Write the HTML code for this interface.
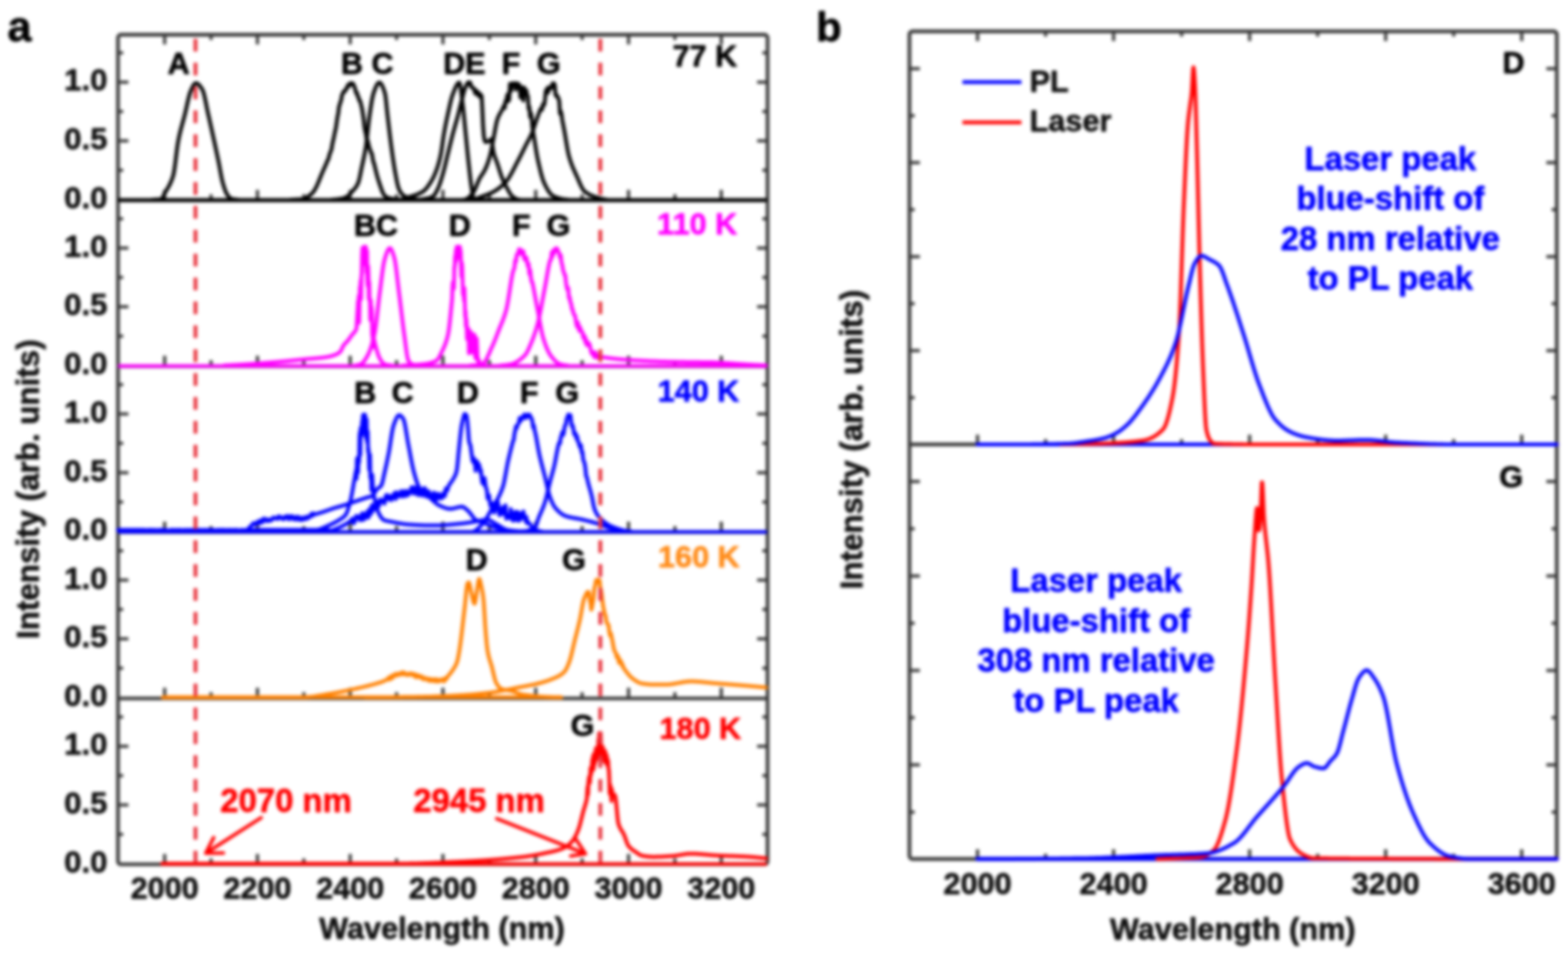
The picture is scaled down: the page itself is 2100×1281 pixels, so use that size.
<!DOCTYPE html>
<html><head><meta charset="utf-8"><title>Figure</title>
<style>html,body{margin:0;padding:0;background:#fff;}svg{display:block;filter:blur(1.9px);}</style>
</head><body>
<svg width="2100" height="1281" viewBox="0 0 2100 1281" font-family='"Liberation Sans", Arial, Helvetica, sans-serif'>
<rect width="2100" height="1281" fill="#fff"/>
<rect x="158.0" y="46.5" width="870.0" height="1111.7" fill="none" stroke="#383838" stroke-width="4.8" stroke-linejoin="round" rx="4"/>
<line x1="158.0" y1="268.6" x2="1028.0" y2="268.6" stroke="#3a3a3a" stroke-width="4.8" />
<line x1="158.0" y1="490.9" x2="1028.0" y2="490.9" stroke="#3a3a3a" stroke-width="4.8" />
<line x1="158.0" y1="713.2" x2="1028.0" y2="713.2" stroke="#3a3a3a" stroke-width="4.8" />
<line x1="158.0" y1="935.8" x2="1028.0" y2="935.8" stroke="#3a3a3a" stroke-width="4.8" />
<line x1="220.5" y1="46.5" x2="220.5" y2="59.5" stroke="#3a3a3a" stroke-width="4.2" />
<line x1="220.5" y1="267.4" x2="220.5" y2="254.4" stroke="#3a3a3a" stroke-width="4.2" />
<line x1="220.5" y1="489.7" x2="220.5" y2="476.7" stroke="#3a3a3a" stroke-width="4.2" />
<line x1="220.5" y1="712.0" x2="220.5" y2="699.0" stroke="#3a3a3a" stroke-width="4.2" />
<line x1="220.5" y1="934.6" x2="220.5" y2="921.6" stroke="#3a3a3a" stroke-width="4.2" />
<line x1="220.5" y1="1157.3" x2="220.5" y2="1144.3" stroke="#3a3a3a" stroke-width="4.2" />
<line x1="282.6" y1="46.5" x2="282.6" y2="53.5" stroke="#3a3a3a" stroke-width="4.2" />
<line x1="282.6" y1="267.4" x2="282.6" y2="260.4" stroke="#3a3a3a" stroke-width="4.2" />
<line x1="282.6" y1="489.7" x2="282.6" y2="482.7" stroke="#3a3a3a" stroke-width="4.2" />
<line x1="282.6" y1="712.0" x2="282.6" y2="705.0" stroke="#3a3a3a" stroke-width="4.2" />
<line x1="282.6" y1="934.6" x2="282.6" y2="927.6" stroke="#3a3a3a" stroke-width="4.2" />
<line x1="282.6" y1="1157.3" x2="282.6" y2="1150.3" stroke="#3a3a3a" stroke-width="4.2" />
<line x1="344.8" y1="46.5" x2="344.8" y2="59.5" stroke="#3a3a3a" stroke-width="4.2" />
<line x1="344.8" y1="267.4" x2="344.8" y2="254.4" stroke="#3a3a3a" stroke-width="4.2" />
<line x1="344.8" y1="489.7" x2="344.8" y2="476.7" stroke="#3a3a3a" stroke-width="4.2" />
<line x1="344.8" y1="712.0" x2="344.8" y2="699.0" stroke="#3a3a3a" stroke-width="4.2" />
<line x1="344.8" y1="934.6" x2="344.8" y2="921.6" stroke="#3a3a3a" stroke-width="4.2" />
<line x1="344.8" y1="1157.3" x2="344.8" y2="1144.3" stroke="#3a3a3a" stroke-width="4.2" />
<line x1="406.9" y1="46.5" x2="406.9" y2="53.5" stroke="#3a3a3a" stroke-width="4.2" />
<line x1="406.9" y1="267.4" x2="406.9" y2="260.4" stroke="#3a3a3a" stroke-width="4.2" />
<line x1="406.9" y1="489.7" x2="406.9" y2="482.7" stroke="#3a3a3a" stroke-width="4.2" />
<line x1="406.9" y1="712.0" x2="406.9" y2="705.0" stroke="#3a3a3a" stroke-width="4.2" />
<line x1="406.9" y1="934.6" x2="406.9" y2="927.6" stroke="#3a3a3a" stroke-width="4.2" />
<line x1="406.9" y1="1157.3" x2="406.9" y2="1150.3" stroke="#3a3a3a" stroke-width="4.2" />
<line x1="469.0" y1="46.5" x2="469.0" y2="59.5" stroke="#3a3a3a" stroke-width="4.2" />
<line x1="469.0" y1="267.4" x2="469.0" y2="254.4" stroke="#3a3a3a" stroke-width="4.2" />
<line x1="469.0" y1="489.7" x2="469.0" y2="476.7" stroke="#3a3a3a" stroke-width="4.2" />
<line x1="469.0" y1="712.0" x2="469.0" y2="699.0" stroke="#3a3a3a" stroke-width="4.2" />
<line x1="469.0" y1="934.6" x2="469.0" y2="921.6" stroke="#3a3a3a" stroke-width="4.2" />
<line x1="469.0" y1="1157.3" x2="469.0" y2="1144.3" stroke="#3a3a3a" stroke-width="4.2" />
<line x1="531.1" y1="46.5" x2="531.1" y2="53.5" stroke="#3a3a3a" stroke-width="4.2" />
<line x1="531.1" y1="267.4" x2="531.1" y2="260.4" stroke="#3a3a3a" stroke-width="4.2" />
<line x1="531.1" y1="489.7" x2="531.1" y2="482.7" stroke="#3a3a3a" stroke-width="4.2" />
<line x1="531.1" y1="712.0" x2="531.1" y2="705.0" stroke="#3a3a3a" stroke-width="4.2" />
<line x1="531.1" y1="934.6" x2="531.1" y2="927.6" stroke="#3a3a3a" stroke-width="4.2" />
<line x1="531.1" y1="1157.3" x2="531.1" y2="1150.3" stroke="#3a3a3a" stroke-width="4.2" />
<line x1="593.2" y1="46.5" x2="593.2" y2="59.5" stroke="#3a3a3a" stroke-width="4.2" />
<line x1="593.2" y1="267.4" x2="593.2" y2="254.4" stroke="#3a3a3a" stroke-width="4.2" />
<line x1="593.2" y1="489.7" x2="593.2" y2="476.7" stroke="#3a3a3a" stroke-width="4.2" />
<line x1="593.2" y1="712.0" x2="593.2" y2="699.0" stroke="#3a3a3a" stroke-width="4.2" />
<line x1="593.2" y1="934.6" x2="593.2" y2="921.6" stroke="#3a3a3a" stroke-width="4.2" />
<line x1="593.2" y1="1157.3" x2="593.2" y2="1144.3" stroke="#3a3a3a" stroke-width="4.2" />
<line x1="655.4" y1="46.5" x2="655.4" y2="53.5" stroke="#3a3a3a" stroke-width="4.2" />
<line x1="655.4" y1="267.4" x2="655.4" y2="260.4" stroke="#3a3a3a" stroke-width="4.2" />
<line x1="655.4" y1="489.7" x2="655.4" y2="482.7" stroke="#3a3a3a" stroke-width="4.2" />
<line x1="655.4" y1="712.0" x2="655.4" y2="705.0" stroke="#3a3a3a" stroke-width="4.2" />
<line x1="655.4" y1="934.6" x2="655.4" y2="927.6" stroke="#3a3a3a" stroke-width="4.2" />
<line x1="655.4" y1="1157.3" x2="655.4" y2="1150.3" stroke="#3a3a3a" stroke-width="4.2" />
<line x1="717.5" y1="46.5" x2="717.5" y2="59.5" stroke="#3a3a3a" stroke-width="4.2" />
<line x1="717.5" y1="267.4" x2="717.5" y2="254.4" stroke="#3a3a3a" stroke-width="4.2" />
<line x1="717.5" y1="489.7" x2="717.5" y2="476.7" stroke="#3a3a3a" stroke-width="4.2" />
<line x1="717.5" y1="712.0" x2="717.5" y2="699.0" stroke="#3a3a3a" stroke-width="4.2" />
<line x1="717.5" y1="934.6" x2="717.5" y2="921.6" stroke="#3a3a3a" stroke-width="4.2" />
<line x1="717.5" y1="1157.3" x2="717.5" y2="1144.3" stroke="#3a3a3a" stroke-width="4.2" />
<line x1="779.6" y1="46.5" x2="779.6" y2="53.5" stroke="#3a3a3a" stroke-width="4.2" />
<line x1="779.6" y1="267.4" x2="779.6" y2="260.4" stroke="#3a3a3a" stroke-width="4.2" />
<line x1="779.6" y1="489.7" x2="779.6" y2="482.7" stroke="#3a3a3a" stroke-width="4.2" />
<line x1="779.6" y1="712.0" x2="779.6" y2="705.0" stroke="#3a3a3a" stroke-width="4.2" />
<line x1="779.6" y1="934.6" x2="779.6" y2="927.6" stroke="#3a3a3a" stroke-width="4.2" />
<line x1="779.6" y1="1157.3" x2="779.6" y2="1150.3" stroke="#3a3a3a" stroke-width="4.2" />
<line x1="841.8" y1="46.5" x2="841.8" y2="59.5" stroke="#3a3a3a" stroke-width="4.2" />
<line x1="841.8" y1="267.4" x2="841.8" y2="254.4" stroke="#3a3a3a" stroke-width="4.2" />
<line x1="841.8" y1="489.7" x2="841.8" y2="476.7" stroke="#3a3a3a" stroke-width="4.2" />
<line x1="841.8" y1="712.0" x2="841.8" y2="699.0" stroke="#3a3a3a" stroke-width="4.2" />
<line x1="841.8" y1="934.6" x2="841.8" y2="921.6" stroke="#3a3a3a" stroke-width="4.2" />
<line x1="841.8" y1="1157.3" x2="841.8" y2="1144.3" stroke="#3a3a3a" stroke-width="4.2" />
<line x1="903.9" y1="46.5" x2="903.9" y2="53.5" stroke="#3a3a3a" stroke-width="4.2" />
<line x1="903.9" y1="267.4" x2="903.9" y2="260.4" stroke="#3a3a3a" stroke-width="4.2" />
<line x1="903.9" y1="489.7" x2="903.9" y2="482.7" stroke="#3a3a3a" stroke-width="4.2" />
<line x1="903.9" y1="712.0" x2="903.9" y2="705.0" stroke="#3a3a3a" stroke-width="4.2" />
<line x1="903.9" y1="934.6" x2="903.9" y2="927.6" stroke="#3a3a3a" stroke-width="4.2" />
<line x1="903.9" y1="1157.3" x2="903.9" y2="1150.3" stroke="#3a3a3a" stroke-width="4.2" />
<line x1="966.0" y1="46.5" x2="966.0" y2="59.5" stroke="#3a3a3a" stroke-width="4.2" />
<line x1="966.0" y1="267.4" x2="966.0" y2="254.4" stroke="#3a3a3a" stroke-width="4.2" />
<line x1="966.0" y1="489.7" x2="966.0" y2="476.7" stroke="#3a3a3a" stroke-width="4.2" />
<line x1="966.0" y1="712.0" x2="966.0" y2="699.0" stroke="#3a3a3a" stroke-width="4.2" />
<line x1="966.0" y1="934.6" x2="966.0" y2="921.6" stroke="#3a3a3a" stroke-width="4.2" />
<line x1="966.0" y1="1157.3" x2="966.0" y2="1144.3" stroke="#3a3a3a" stroke-width="4.2" />
<line x1="158.0" y1="228.1" x2="165.0" y2="228.1" stroke="#3a3a3a" stroke-width="4.2" />
<line x1="1028.0" y1="228.1" x2="1021.0" y2="228.1" stroke="#3a3a3a" stroke-width="4.2" />
<line x1="158.0" y1="188.7" x2="172.0" y2="188.7" stroke="#3a3a3a" stroke-width="4.2" />
<line x1="1028.0" y1="188.7" x2="1014.0" y2="188.7" stroke="#3a3a3a" stroke-width="4.2" />
<line x1="158.0" y1="149.4" x2="165.0" y2="149.4" stroke="#3a3a3a" stroke-width="4.2" />
<line x1="1028.0" y1="149.4" x2="1021.0" y2="149.4" stroke="#3a3a3a" stroke-width="4.2" />
<line x1="158.0" y1="110.1" x2="172.0" y2="110.1" stroke="#3a3a3a" stroke-width="4.2" />
<line x1="1028.0" y1="110.1" x2="1014.0" y2="110.1" stroke="#3a3a3a" stroke-width="4.2" />
<line x1="158.0" y1="70.8" x2="165.0" y2="70.8" stroke="#3a3a3a" stroke-width="4.2" />
<line x1="1028.0" y1="70.8" x2="1021.0" y2="70.8" stroke="#3a3a3a" stroke-width="4.2" />
<line x1="158.0" y1="450.4" x2="165.0" y2="450.4" stroke="#3a3a3a" stroke-width="4.2" />
<line x1="1028.0" y1="450.4" x2="1021.0" y2="450.4" stroke="#3a3a3a" stroke-width="4.2" />
<line x1="158.0" y1="411.0" x2="172.0" y2="411.0" stroke="#3a3a3a" stroke-width="4.2" />
<line x1="1028.0" y1="411.0" x2="1014.0" y2="411.0" stroke="#3a3a3a" stroke-width="4.2" />
<line x1="158.0" y1="371.7" x2="165.0" y2="371.7" stroke="#3a3a3a" stroke-width="4.2" />
<line x1="1028.0" y1="371.7" x2="1021.0" y2="371.7" stroke="#3a3a3a" stroke-width="4.2" />
<line x1="158.0" y1="332.4" x2="172.0" y2="332.4" stroke="#3a3a3a" stroke-width="4.2" />
<line x1="1028.0" y1="332.4" x2="1014.0" y2="332.4" stroke="#3a3a3a" stroke-width="4.2" />
<line x1="158.0" y1="293.1" x2="165.0" y2="293.1" stroke="#3a3a3a" stroke-width="4.2" />
<line x1="1028.0" y1="293.1" x2="1021.0" y2="293.1" stroke="#3a3a3a" stroke-width="4.2" />
<line x1="158.0" y1="672.7" x2="165.0" y2="672.7" stroke="#3a3a3a" stroke-width="4.2" />
<line x1="1028.0" y1="672.7" x2="1021.0" y2="672.7" stroke="#3a3a3a" stroke-width="4.2" />
<line x1="158.0" y1="633.4" x2="172.0" y2="633.4" stroke="#3a3a3a" stroke-width="4.2" />
<line x1="1028.0" y1="633.4" x2="1014.0" y2="633.4" stroke="#3a3a3a" stroke-width="4.2" />
<line x1="158.0" y1="594.0" x2="165.0" y2="594.0" stroke="#3a3a3a" stroke-width="4.2" />
<line x1="1028.0" y1="594.0" x2="1021.0" y2="594.0" stroke="#3a3a3a" stroke-width="4.2" />
<line x1="158.0" y1="554.7" x2="172.0" y2="554.7" stroke="#3a3a3a" stroke-width="4.2" />
<line x1="1028.0" y1="554.7" x2="1014.0" y2="554.7" stroke="#3a3a3a" stroke-width="4.2" />
<line x1="158.0" y1="515.4" x2="165.0" y2="515.4" stroke="#3a3a3a" stroke-width="4.2" />
<line x1="1028.0" y1="515.4" x2="1021.0" y2="515.4" stroke="#3a3a3a" stroke-width="4.2" />
<line x1="158.0" y1="895.3" x2="165.0" y2="895.3" stroke="#3a3a3a" stroke-width="4.2" />
<line x1="1028.0" y1="895.3" x2="1021.0" y2="895.3" stroke="#3a3a3a" stroke-width="4.2" />
<line x1="158.0" y1="856.0" x2="172.0" y2="856.0" stroke="#3a3a3a" stroke-width="4.2" />
<line x1="1028.0" y1="856.0" x2="1014.0" y2="856.0" stroke="#3a3a3a" stroke-width="4.2" />
<line x1="158.0" y1="816.6" x2="165.0" y2="816.6" stroke="#3a3a3a" stroke-width="4.2" />
<line x1="1028.0" y1="816.6" x2="1021.0" y2="816.6" stroke="#3a3a3a" stroke-width="4.2" />
<line x1="158.0" y1="777.3" x2="172.0" y2="777.3" stroke="#3a3a3a" stroke-width="4.2" />
<line x1="1028.0" y1="777.3" x2="1014.0" y2="777.3" stroke="#3a3a3a" stroke-width="4.2" />
<line x1="158.0" y1="738.0" x2="165.0" y2="738.0" stroke="#3a3a3a" stroke-width="4.2" />
<line x1="1028.0" y1="738.0" x2="1021.0" y2="738.0" stroke="#3a3a3a" stroke-width="4.2" />
<line x1="158.0" y1="1118.0" x2="165.0" y2="1118.0" stroke="#3a3a3a" stroke-width="4.2" />
<line x1="1028.0" y1="1118.0" x2="1021.0" y2="1118.0" stroke="#3a3a3a" stroke-width="4.2" />
<line x1="158.0" y1="1078.6" x2="172.0" y2="1078.6" stroke="#3a3a3a" stroke-width="4.2" />
<line x1="1028.0" y1="1078.6" x2="1014.0" y2="1078.6" stroke="#3a3a3a" stroke-width="4.2" />
<line x1="158.0" y1="1039.3" x2="165.0" y2="1039.3" stroke="#3a3a3a" stroke-width="4.2" />
<line x1="1028.0" y1="1039.3" x2="1021.0" y2="1039.3" stroke="#3a3a3a" stroke-width="4.2" />
<line x1="158.0" y1="1000.0" x2="172.0" y2="1000.0" stroke="#3a3a3a" stroke-width="4.2" />
<line x1="1028.0" y1="1000.0" x2="1014.0" y2="1000.0" stroke="#3a3a3a" stroke-width="4.2" />
<line x1="158.0" y1="960.7" x2="165.0" y2="960.7" stroke="#3a3a3a" stroke-width="4.2" />
<line x1="1028.0" y1="960.7" x2="1021.0" y2="960.7" stroke="#3a3a3a" stroke-width="4.2" />
<line x1="158.0" y1="267.9" x2="1027.0" y2="267.9" stroke="#000000" stroke-width="4.6" />
<line x1="158.0" y1="490.5" x2="1027.0" y2="490.5" stroke="#ff00ff" stroke-width="4.6" />
<line x1="158.0" y1="712.8" x2="1027.0" y2="712.8" stroke="#0000ff" stroke-width="4.6" />
<line x1="218.0" y1="934.1" x2="752.0" y2="934.1" stroke="#ff8000" stroke-width="4.6" />
<line x1="217.0" y1="1157.7" x2="1027.0" y2="1157.7" stroke="#ff0000" stroke-width="4.6" />
<path d="M205.0,267.4 L206.0,267.4 L207.0,267.4 L208.0,267.4 L209.0,267.3 L210.0,267.3 L211.0,267.3 L212.0,267.2 L213.0,267.2 L214.0,267.1 L215.0,266.9 L216.0,266.6 L217.0,266.0 L218.0,264.4 L219.0,262.3 L220.0,260.1 L221.0,258.2 L222.0,256.5 L223.0,254.8 L224.0,253.2 L225.0,251.5 L226.0,249.8 L227.0,247.9 L228.0,245.9 L229.0,243.6 L230.0,241.1 L231.0,238.3 L232.0,235.2 L233.0,230.6 L234.0,224.2 L235.0,216.5 L236.0,208.4 L237.0,200.3 L238.0,193.1 L239.0,187.4 L240.0,182.6 L241.0,178.2 L242.0,174.2 L243.0,170.3 L244.0,166.6 L245.0,163.0 L246.0,159.3 L247.0,155.6 L248.0,151.6 L249.0,147.2 L250.0,142.7 L251.0,138.1 L252.0,133.7 L253.0,129.6 L254.0,126.0 L255.0,123.0 L256.0,120.7 L257.0,118.5 L258.0,116.4 L259.0,114.5 L260.0,113.0 L261.0,111.9 L262.0,111.4 L263.0,111.4 L264.0,111.8 L265.0,112.4 L266.0,113.3 L267.0,114.3 L268.0,115.5 L269.0,116.9 L270.0,118.4 L271.0,120.0 L272.0,122.2 L273.0,125.5 L274.0,129.5 L275.0,134.2 L276.0,139.1 L277.0,144.2 L278.0,149.1 L279.0,153.6 L280.0,158.0 L281.0,162.5 L282.0,167.0 L283.0,171.5 L284.0,176.0 L285.0,180.6 L286.0,185.2 L287.0,189.8 L288.0,194.4 L289.0,199.1 L290.0,203.8 L291.0,208.5 L292.0,213.2 L293.0,218.1 L294.0,223.4 L295.0,228.9 L296.0,234.3 L297.0,239.3 L298.0,243.6 L299.0,247.1 L300.0,250.4 L301.0,253.5 L302.0,256.2 L303.0,258.5 L304.0,260.3 L305.0,261.8 L306.0,263.1 L307.0,264.3 L308.0,265.3 L309.0,266.0 L310.0,266.4 L311.0,266.6 L312.0,266.8 L313.0,267.0 L314.0,267.1 L315.0,267.3 L316.0,267.3 L317.0,267.4 L318.0,267.4" fill="none" stroke="#000000" stroke-width="5.0" stroke-linejoin="round" stroke-linecap="round" />
<path d="M390.0,267.4 L391.0,267.4 L392.0,267.4 L393.0,267.4 L394.0,267.4 L395.0,267.3 L396.0,267.3 L397.0,267.3 L398.0,267.2 L399.0,267.2 L400.0,267.1 L401.0,267.1 L402.0,267.0 L403.0,266.9 L404.0,266.9 L405.0,266.8 L406.0,266.6 L407.0,266.3 L408.0,265.8 L409.0,265.3 L410.0,264.8 L411.0,264.2 L412.0,263.6 L413.0,263.0 L414.0,262.3 L415.0,261.6 L416.0,260.8 L417.0,259.9 L418.0,258.9 L419.0,257.9 L420.0,256.7 L421.0,255.3 L422.0,253.6 L423.0,251.7 L424.0,249.7 L425.0,247.5 L426.0,245.1 L427.0,242.7 L428.0,240.2 L429.0,237.8 L430.0,235.3 L431.0,232.9 L432.0,230.5 L433.0,228.3 L434.0,226.0 L435.0,223.8 L436.0,221.5 L437.0,219.2 L438.0,216.8 L439.0,214.3 L440.0,212.9 L441.0,208.1 L442.0,205.3 L443.0,202.7 L444.0,200.1 L445.0,193.7 L446.0,188.9 L447.0,184.9 L448.0,179.6 L449.0,175.1 L450.0,170.4 L451.0,163.5 L452.0,156.5 L453.0,152.0 L454.0,143.3 L455.0,140.3 L456.0,136.6 L457.0,134.1 L458.0,127.5 L459.0,125.9 L460.0,123.0 L461.0,122.0 L462.0,122.5 L463.0,120.0 L464.0,118.0 L465.0,118.1 L466.0,113.7 L467.0,114.8 L468.0,114.7 L469.0,111.5 L470.0,113.4 L471.0,111.5 L472.0,111.7 L473.0,112.2 L474.0,114.9 L475.0,116.9 L476.0,120.9 L477.0,124.5 L478.0,124.1 L479.0,129.0 L480.0,129.5 L481.0,134.4 L482.0,134.4 L483.0,137.9 L484.0,142.0 L485.0,146.2 L486.0,152.9 L487.0,159.6 L488.0,169.6 L489.0,175.3 L490.0,179.5 L491.0,186.1 L492.0,187.1 L493.0,190.7 L494.0,195.6 L495.0,198.8 L496.0,201.4 L497.0,204.8 L498.0,205.7 L499.0,211.6 L500.0,216.9 L501.0,219.1 L502.0,223.3 L503.0,227.4 L504.0,231.5 L505.0,235.3 L506.0,238.9 L507.0,242.1 L508.0,245.1 L509.0,248.1 L510.0,251.1 L511.0,253.9 L512.0,256.6 L513.0,258.8 L514.0,260.7 L515.0,262.1 L516.0,263.0 L517.0,263.6 L518.0,264.2 L519.0,264.7 L520.0,265.1 L521.0,265.4 L522.0,265.7 L523.0,265.9 L524.0,266.1 L525.0,266.3 L526.0,266.5 L527.0,266.7 L528.0,266.8 L529.0,267.0 L530.0,267.1 L531.0,267.2 L532.0,267.3 L533.0,267.3 L534.0,267.4 L535.0,267.4" fill="none" stroke="#000000" stroke-width="5.0" stroke-linejoin="round" stroke-linecap="round" />
<path d="M445.0,267.4 L446.0,267.4 L447.0,267.4 L448.0,267.3 L449.0,267.2 L450.0,267.2 L451.0,267.1 L452.0,267.0 L453.0,266.8 L454.0,266.7 L455.0,266.5 L456.0,266.4 L457.0,266.2 L458.0,266.0 L459.0,265.8 L460.0,265.6 L461.0,265.2 L462.0,264.8 L463.0,264.3 L464.0,263.8 L465.0,263.2 L466.0,262.5 L467.0,261.7 L468.0,260.8 L469.0,259.7 L470.0,258.5 L471.0,257.3 L472.0,256.2 L473.0,255.1 L474.0,254.0 L475.0,252.8 L476.0,251.6 L477.0,250.1 L478.0,248.5 L479.0,246.6 L480.0,244.4 L481.0,240.9 L482.0,236.5 L483.0,231.5 L484.0,226.4 L485.0,221.7 L486.0,217.1 L487.0,212.6 L488.0,207.8 L489.0,202.5 L490.0,196.6 L491.0,189.2 L492.0,180.3 L493.0,171.0 L494.0,162.1 L495.0,154.5 L496.0,147.7 L497.0,141.1 L498.0,135.0 L499.0,129.8 L500.0,125.8 L501.0,122.9 L502.0,120.1 L503.0,117.5 L504.0,115.2 L505.0,113.2 L506.0,111.8 L507.0,110.9 L508.0,110.6 L509.0,110.9 L510.0,111.8 L511.0,113.2 L512.0,115.1 L513.0,117.5 L514.0,120.2 L515.0,123.2 L516.0,127.0 L517.0,134.8 L518.0,144.9 L519.0,154.5 L520.0,163.0 L521.0,171.5 L522.0,179.9 L523.0,188.0 L524.0,195.8 L525.0,203.1 L526.0,210.3 L527.0,217.2 L528.0,223.6 L529.0,229.5 L530.0,234.9 L531.0,240.2 L532.0,245.2 L533.0,249.5 L534.0,252.8 L535.0,255.0 L536.0,256.8 L537.0,258.3 L538.0,259.7 L539.0,260.8 L540.0,261.7 L541.0,262.4 L542.0,263.0 L543.0,263.4 L544.0,263.8 L545.0,264.2 L546.0,264.5 L547.0,264.7 L548.0,265.0 L549.0,265.2 L550.0,265.5 L551.0,265.7 L552.0,266.0 L553.0,266.2 L554.0,266.4 L555.0,266.6 L556.0,266.8 L557.0,267.0 L558.0,267.1 L559.0,267.3 L560.0,267.4" fill="none" stroke="#000000" stroke-width="5.0" stroke-linejoin="round" stroke-linecap="round" />
<path d="M538.0,267.4 L539.0,267.0 L540.0,266.7 L541.0,266.3 L542.0,266.0 L543.0,265.6 L544.0,265.3 L545.0,264.9 L546.0,264.6 L547.0,264.3 L548.0,263.9 L549.0,263.6 L550.0,263.3 L551.0,263.0 L552.0,262.7 L553.0,262.4 L554.0,262.1 L555.0,261.8 L556.0,261.5 L557.0,261.1 L558.0,260.7 L559.0,260.3 L560.0,260.0 L561.0,259.5 L562.0,259.1 L563.0,258.6 L564.0,258.1 L565.0,257.6 L566.0,256.9 L567.0,256.3 L568.0,255.5 L569.0,254.5 L570.0,253.5 L571.0,252.3 L572.0,251.1 L573.0,249.8 L574.0,248.4 L575.0,246.9 L576.0,245.4 L577.0,243.8 L578.0,242.2 L579.0,240.4 L580.0,238.5 L581.0,236.5 L582.0,234.3 L583.0,231.9 L584.0,229.4 L585.0,226.7 L586.0,223.8 L587.0,220.6 L588.0,217.0 L589.0,213.0 L590.0,208.6 L591.0,203.5 L592.0,197.0 L593.0,189.7 L594.0,182.7 L595.0,176.8 L596.0,171.4 L597.0,166.2 L598.0,161.4 L599.0,156.7 L600.0,152.1 L601.0,147.6 L602.0,143.0 L603.0,138.6 L604.0,134.4 L605.0,130.7 L606.0,127.5 L607.0,124.9 L608.0,122.3 L609.0,119.8 L610.0,117.4 L611.0,115.2 L612.0,113.4 L613.0,111.9 L614.0,111.0 L615.0,110.6 L616.0,112.4 L617.0,117.9 L618.0,125.6 L619.0,134.2 L620.0,142.4 L621.0,151.6 L622.0,161.9 L623.0,172.5 L624.0,182.6 L625.0,192.8 L626.0,203.0 L627.0,212.9 L628.0,222.1 L629.0,231.3 L630.0,240.0 L631.0,247.9 L632.0,254.5 L633.0,261.0 L634.0,265.4 L635.0,266.2 L636.0,266.7 L637.0,267.0 L638.0,267.2 L639.0,267.4 L640.0,267.4" fill="none" stroke="#000000" stroke-width="5.0" stroke-linejoin="round" stroke-linecap="round" />
<path d="M560.0,267.4 L561.0,267.4 L562.0,267.3 L563.0,267.3 L564.0,267.2 L565.0,267.0 L566.0,266.9 L567.0,266.7 L568.0,266.6 L569.0,266.4 L570.0,266.2 L571.0,266.0 L572.0,265.8 L573.0,265.6 L574.0,265.4 L575.0,265.1 L576.0,264.8 L577.0,264.5 L578.0,264.1 L579.0,263.6 L580.0,263.1 L581.0,262.3 L582.0,261.0 L583.0,259.5 L584.0,257.7 L585.0,255.7 L586.0,253.7 L587.0,251.5 L588.0,249.1 L589.0,246.4 L590.0,243.4 L591.0,240.2 L592.0,236.9 L593.0,233.5 L594.0,230.0 L595.0,226.1 L596.0,222.1 L597.0,217.9 L598.0,213.7 L599.0,209.5 L600.0,205.4 L601.0,201.3 L602.0,197.2 L603.0,193.1 L604.0,189.1 L605.0,185.1 L606.0,181.2 L607.0,177.4 L608.0,173.8 L609.0,170.3 L610.0,166.8 L611.0,163.3 L612.0,159.8 L613.0,156.1 L614.0,152.2 L615.0,148.2 L616.0,144.0 L617.0,139.9 L618.0,136.0 L619.0,132.2 L620.0,128.2 L621.0,124.3 L622.0,120.6 L623.0,117.6 L624.0,115.3 L625.0,113.3 L626.0,111.5 L627.0,110.4 L628.0,112.5 L629.0,110.2 L630.0,111.1 L631.0,116.3 L632.0,116.4 L633.0,118.1 L634.0,118.1 L635.0,118.5 L636.0,124.1 L637.0,125.7 L638.0,121.5 L639.0,124.7 L640.0,123.2 L641.0,128.6 L642.0,126.5 L643.0,125.8 L644.0,130.4 L645.0,128.2 L646.0,147.2 L647.0,169.3 L648.0,182.4 L649.0,187.8 L650.0,190.2 L651.0,190.3 L652.0,190.1 L653.0,189.8 L654.0,189.5 L655.0,188.9 L656.0,187.9 L657.0,186.9 L658.0,186.4 L659.0,189.5 L660.0,198.0 L661.0,204.4 L662.0,208.0 L663.0,211.0 L664.0,213.6 L665.0,216.1 L666.0,218.8 L667.0,221.9 L668.0,225.0 L669.0,228.2 L670.0,231.4 L671.0,234.4 L672.0,237.2 L673.0,239.7 L674.0,242.0 L675.0,244.2 L676.0,246.3 L677.0,248.2 L678.0,250.1 L679.0,251.9 L680.0,253.7 L681.0,255.6 L682.0,257.4 L683.0,259.2 L684.0,260.8 L685.0,262.1 L686.0,263.1 L687.0,263.8 L688.0,264.5 L689.0,265.2 L690.0,265.8 L691.0,266.3 L692.0,266.8 L693.0,267.1 L694.0,267.3 L695.0,267.4" fill="none" stroke="#000000" stroke-width="5.0" stroke-linejoin="round" stroke-linecap="round" />
<path d="M622.0,267.4 L623.0,267.3 L624.0,267.0 L625.0,266.6 L626.0,266.0 L627.0,265.3 L628.0,264.4 L629.0,263.5 L630.0,262.5 L631.0,261.4 L632.0,260.3 L633.0,259.2 L634.0,257.9 L635.0,256.1 L636.0,254.0 L637.0,251.7 L638.0,249.2 L639.0,246.7 L640.0,244.3 L641.0,241.9 L642.0,239.8 L643.0,238.0 L644.0,236.3 L645.0,234.8 L646.0,233.3 L647.0,231.8 L648.0,230.2 L649.0,228.4 L650.0,226.5 L651.0,224.2 L652.0,221.8 L653.0,219.1 L654.0,216.2 L655.0,213.0 L656.0,209.6 L657.0,205.8 L658.0,201.3 L659.0,196.0 L660.0,190.4 L661.0,185.2 L662.0,179.8 L663.0,174.2 L664.0,168.9 L665.0,164.1 L666.0,160.3 L667.0,157.5 L668.0,155.3 L669.0,153.3 L670.0,151.6 L671.0,149.9 L672.0,148.1 L673.0,146.0 L674.0,143.7 L675.0,141.4 L676.0,144.8 L677.0,135.6 L678.0,136.9 L679.0,129.3 L680.0,126.2 L681.0,135.5 L682.0,133.5 L683.0,112.2 L684.0,122.2 L685.0,120.5 L686.0,111.7 L687.0,113.3 L688.0,111.7 L689.0,112.2 L690.0,111.7 L691.0,120.1 L692.0,111.7 L693.0,111.7 L694.0,116.1 L695.0,113.0 L696.0,116.0 L697.0,130.7 L698.0,116.4 L699.0,120.9 L700.0,128.1 L701.0,134.8 L702.0,117.3 L703.0,127.0 L704.0,122.9 L705.0,121.0 L706.0,128.0 L707.0,128.6 L708.0,146.2 L709.0,143.4 L710.0,156.9 L711.0,151.2 L712.0,157.4 L713.0,170.9 L714.0,176.4 L715.0,182.4 L716.0,188.8 L717.0,195.2 L718.0,201.4 L719.0,207.3 L720.0,212.5 L721.0,217.1 L722.0,221.5 L723.0,225.8 L724.0,229.9 L725.0,233.8 L726.0,237.3 L727.0,240.5 L728.0,243.3 L729.0,245.6 L730.0,247.7 L731.0,249.7 L732.0,251.6 L733.0,253.4 L734.0,255.1 L735.0,256.7 L736.0,258.1 L737.0,259.4 L738.0,260.5 L739.0,261.5 L740.0,262.2 L741.0,262.7 L742.0,263.2 L743.0,263.6 L744.0,264.0 L745.0,264.4 L746.0,264.7 L747.0,265.1 L748.0,265.4 L749.0,265.7 L750.0,266.0 L751.0,266.2 L752.0,266.5 L753.0,266.7 L754.0,266.9 L755.0,267.0 L756.0,267.2 L757.0,267.3 L758.0,267.3 L759.0,267.4 L760.0,267.4" fill="none" stroke="#000000" stroke-width="5.0" stroke-linejoin="round" stroke-linecap="round" />
<path d="M635.0,267.4 L636.0,267.0 L637.0,266.6 L638.0,266.2 L639.0,265.8 L640.0,265.4 L641.0,265.0 L642.0,264.7 L643.0,264.3 L644.0,263.9 L645.0,263.5 L646.0,263.1 L647.0,262.7 L648.0,262.4 L649.0,262.0 L650.0,261.7 L651.0,261.3 L652.0,260.9 L653.0,260.6 L654.0,260.2 L655.0,259.8 L656.0,259.3 L657.0,258.9 L658.0,258.4 L659.0,258.0 L660.0,257.4 L661.0,256.9 L662.0,256.3 L663.0,255.7 L664.0,255.1 L665.0,254.5 L666.0,253.8 L667.0,253.1 L668.0,252.4 L669.0,251.6 L670.0,250.8 L671.0,250.0 L672.0,249.1 L673.0,248.2 L674.0,247.3 L675.0,246.3 L676.0,245.3 L677.0,244.2 L678.0,243.1 L679.0,241.9 L680.0,240.5 L681.0,239.1 L682.0,237.5 L683.0,235.8 L684.0,234.1 L685.0,232.3 L686.0,230.4 L687.0,228.5 L688.0,226.6 L689.0,224.6 L690.0,222.7 L691.0,220.7 L692.0,218.7 L693.0,216.8 L694.0,214.9 L695.0,213.0 L696.0,211.1 L697.0,209.1 L698.0,207.1 L699.0,205.1 L700.0,203.1 L701.0,201.1 L702.0,199.1 L703.0,197.0 L704.0,195.0 L705.0,193.1 L706.0,191.2 L707.0,189.4 L708.0,187.5 L709.0,185.7 L710.0,183.7 L711.0,181.7 L712.0,179.4 L713.0,176.9 L714.0,174.2 L715.0,171.3 L716.0,168.3 L717.0,165.3 L718.0,162.3 L719.0,159.4 L720.0,156.5 L721.0,153.8 L722.0,151.2 L723.0,148.5 L724.0,145.9 L725.0,147.4 L726.0,147.0 L727.0,139.9 L728.0,141.3 L729.0,140.3 L730.0,132.5 L731.0,121.6 L732.0,120.6 L733.0,118.4 L734.0,124.2 L735.0,116.7 L736.0,118.6 L737.0,118.5 L738.0,118.4 L739.0,116.2 L740.0,111.7 L741.0,111.7 L742.0,111.7 L743.0,113.9 L744.0,127.0 L745.0,128.9 L746.0,127.9 L747.0,130.2 L748.0,132.0 L749.0,135.6 L750.0,152.4 L751.0,148.9 L752.0,152.8 L753.0,160.6 L754.0,165.8 L755.0,171.0 L756.0,176.2 L757.0,182.0 L758.0,188.1 L759.0,194.2 L760.0,199.9 L761.0,205.0 L762.0,209.2 L763.0,212.6 L764.0,215.8 L765.0,218.7 L766.0,221.4 L767.0,223.9 L768.0,226.2 L769.0,228.5 L770.0,230.7 L771.0,232.9 L772.0,235.1 L773.0,237.3 L774.0,239.6 L775.0,241.9 L776.0,244.3 L777.0,246.6 L778.0,248.7 L779.0,250.8 L780.0,252.6 L781.0,254.2 L782.0,255.5 L783.0,256.5 L784.0,257.3 L785.0,258.0 L786.0,258.7 L787.0,259.3 L788.0,259.9 L789.0,260.5 L790.0,261.0 L791.0,261.4 L792.0,261.9 L793.0,262.3 L794.0,262.7 L795.0,263.1 L796.0,263.4 L797.0,263.7 L798.0,264.1 L799.0,264.4 L800.0,264.7 L801.0,265.0 L802.0,265.3 L803.0,265.6 L804.0,265.8 L805.0,266.1 L806.0,266.3 L807.0,266.6 L808.0,266.8 L809.0,267.0 L810.0,267.1 L811.0,267.3 L812.0,267.4" fill="none" stroke="#000000" stroke-width="5.0" stroke-linejoin="round" stroke-linecap="round" />
<path d="M300.0,489.7 L300.5,489.7 L301.0,489.7 L301.5,489.6 L302.0,489.6 L302.5,489.6 L303.0,489.6 L303.5,489.5 L304.0,489.5 L304.5,489.5 L305.0,489.5 L305.5,489.5 L306.0,489.4 L306.5,489.4 L307.0,489.4 L307.5,489.4 L308.0,489.3 L308.5,489.3 L309.0,489.3 L309.5,489.3 L310.0,489.2 L310.5,489.2 L311.0,489.2 L311.5,489.2 L312.0,489.1 L312.5,489.1 L313.0,489.1 L313.5,489.1 L314.0,489.0 L314.5,489.0 L315.0,489.0 L315.5,489.0 L316.0,488.9 L316.5,488.9 L317.0,488.9 L317.5,488.9 L318.0,488.8 L318.5,488.8 L319.0,488.8 L319.5,488.7 L320.0,488.7 L320.5,488.7 L321.0,488.7 L321.5,488.6 L322.0,488.6 L322.5,488.6 L323.0,488.5 L323.5,488.5 L324.0,488.5 L324.5,488.5 L325.0,488.4 L325.5,488.4 L326.0,488.4 L326.5,488.3 L327.0,488.3 L327.5,488.3 L328.0,488.2 L328.5,488.2 L329.0,488.2 L329.5,488.2 L330.0,488.1 L330.5,488.1 L331.0,488.1 L331.5,488.0 L332.0,488.0 L332.5,488.0 L333.0,487.9 L333.5,487.9 L334.0,487.9 L334.5,487.8 L335.0,487.8 L335.5,487.8 L336.0,487.7 L336.5,487.7 L337.0,487.7 L337.5,487.6 L338.0,487.6 L338.5,487.6 L339.0,487.5 L339.5,487.5 L340.0,487.5 L340.5,487.4 L341.0,487.4 L341.5,487.4 L342.0,487.3 L342.5,487.3 L343.0,487.2 L343.5,487.2 L344.0,487.2 L344.5,487.1 L345.0,487.1 L345.5,487.1 L346.0,487.0 L346.5,487.0 L347.0,487.0 L347.5,486.9 L348.0,486.9 L348.5,486.8 L349.0,486.8 L349.5,486.8 L350.0,486.7 L350.5,486.7 L351.0,486.6 L351.5,486.6 L352.0,486.6 L352.5,486.5 L353.0,486.5 L353.5,486.4 L354.0,486.4 L354.5,486.4 L355.0,486.3 L355.5,486.3 L356.0,486.2 L356.5,486.2 L357.0,486.2 L357.5,486.1 L358.0,486.1 L358.5,486.0 L359.0,486.0 L359.5,486.0 L360.0,485.9 L360.5,485.9 L361.0,485.8 L361.5,485.8 L362.0,485.8 L362.5,485.7 L363.0,485.7 L363.5,485.6 L364.0,485.6 L364.5,485.5 L365.0,485.5 L365.5,485.5 L366.0,485.4 L366.5,485.4 L367.0,485.3 L367.5,485.3 L368.0,485.2 L368.5,485.2 L369.0,485.2 L369.5,485.1 L370.0,485.1 L370.5,485.0 L371.0,485.0 L371.5,484.9 L372.0,484.9 L372.5,484.9 L373.0,484.8 L373.5,484.8 L374.0,484.7 L374.5,484.7 L375.0,484.6 L375.5,484.6 L376.0,484.5 L376.5,484.5 L377.0,484.5 L377.5,484.4 L378.0,484.4 L378.5,484.3 L379.0,484.3 L379.5,484.2 L380.0,484.2 L380.5,484.2 L381.0,484.1 L381.5,484.1 L382.0,484.0 L382.5,484.0 L383.0,483.9 L383.5,483.9 L384.0,483.8 L384.5,483.8 L385.0,483.7 L385.5,483.7 L386.0,483.6 L386.5,483.6 L387.0,483.5 L387.5,483.5 L388.0,483.4 L388.5,483.4 L389.0,483.3 L389.5,483.3 L390.0,483.2 L390.5,483.2 L391.0,483.1 L391.5,483.1 L392.0,483.0 L392.5,483.0 L393.0,482.9 L393.5,482.9 L394.0,482.8 L394.5,482.8 L395.0,482.7 L395.5,482.7 L396.0,482.6 L396.5,482.6 L397.0,482.5 L397.5,482.5 L398.0,482.4 L398.5,482.4 L399.0,482.3 L399.5,482.3 L400.0,482.2 L400.5,482.2 L401.0,482.1 L401.5,482.1 L402.0,482.0 L402.5,482.0 L403.0,481.9 L403.5,481.9 L404.0,481.8 L404.5,481.8 L405.0,481.7 L405.5,481.7 L406.0,481.6 L406.5,481.6 L407.0,481.5 L407.5,481.5 L408.0,481.4 L408.5,481.4 L409.0,481.3 L409.5,481.3 L410.0,481.2 L410.5,481.2 L411.0,481.1 L411.5,481.1 L412.0,481.0 L412.5,481.0 L413.0,481.0 L413.5,480.9 L414.0,480.9 L414.5,480.8 L415.0,480.8 L415.5,480.7 L416.0,480.7 L416.5,480.7 L417.0,480.6 L417.5,480.6 L418.0,480.5 L418.5,480.5 L419.0,480.5 L419.5,480.4 L420.0,480.4 L420.5,480.3 L421.0,480.3 L421.5,480.2 L422.0,480.2 L422.5,480.2 L423.0,480.1 L423.5,480.1 L424.0,480.0 L424.5,480.0 L425.0,479.9 L425.5,479.9 L426.0,479.9 L426.5,479.8 L427.0,479.8 L427.5,479.7 L428.0,479.7 L428.5,479.6 L429.0,479.6 L429.5,479.5 L430.0,479.4 L430.5,479.4 L431.0,479.3 L431.5,479.3 L432.0,479.2 L432.5,479.2 L433.0,479.1 L433.5,479.0 L434.0,479.0 L434.5,478.9 L435.0,478.8 L435.5,478.8 L436.0,478.7 L436.5,478.6 L437.0,478.5 L437.5,478.5 L438.0,478.4 L438.5,478.3 L439.0,478.2 L439.5,478.1 L440.0,478.0 L440.5,477.9 L441.0,477.8 L441.5,477.7 L442.0,477.6 L442.5,477.4 L443.0,477.3 L443.5,477.2 L444.0,477.0 L444.5,476.9 L445.0,476.7 L445.5,476.6 L446.0,476.4 L446.5,476.3 L447.0,476.1 L447.5,475.9 L448.0,475.8 L448.5,475.6 L449.0,475.4 L449.5,475.2 L450.0,475.0 L450.5,474.8 L451.0,474.5 L451.5,474.3 L452.0,474.0 L452.5,473.7 L453.0,473.4 L453.5,473.1 L454.0,472.7 L454.5,472.3 L455.0,471.9 L455.5,471.5 L456.0,471.0 L456.5,470.2 L457.0,469.3 L457.5,468.2 L458.0,467.0 L458.5,465.9 L459.0,464.8 L459.5,463.8 L460.0,463.0 L460.5,462.3 L461.0,461.7 L461.5,461.1 L462.0,460.5 L462.5,460.0 L463.0,459.5 L463.5,459.0 L464.0,458.5 L464.5,458.0 L465.0,457.5 L465.5,456.9 L466.0,456.3 L466.5,455.7 L467.0,455.0 L467.5,454.3 L468.0,453.6 L468.5,452.9 L469.0,452.2 L469.5,451.5 L470.0,450.8 L470.5,450.1 L471.0,449.4 L471.5,448.7 L472.0,448.0 L472.5,447.5 L473.0,447.0 L473.5,446.5 L474.0,446.0 L474.5,445.4 L475.0,444.8 L475.5,444.1 L476.0,443.3 L476.5,442.3 L477.0,441.2 L477.5,439.4 L478.0,430.9 L478.5,421.6 L479.0,414.8 L479.5,403.7 L480.0,408.3 L480.5,396.6 L481.0,432.5 L481.5,409.7 L482.0,384.8 L482.5,393.1 L483.0,376.3 L483.5,401.0 L484.0,371.6 L484.5,366.8 L485.0,341.1 L485.5,331.9 L486.0,354.7 L486.5,344.7 L487.0,341.1 L487.5,330.8 L488.0,330.8 L488.5,346.1 L489.0,330.8 L489.5,348.7 L490.0,330.8 L490.5,353.7 L491.0,365.6 L491.5,335.7 L492.0,374.1 L492.5,382.8 L493.0,356.6 L493.5,368.3 L494.0,400.7 L494.5,377.7 L495.0,402.7 L495.5,402.5 L496.0,429.0 L496.5,402.0 L497.0,418.4 L497.5,411.2 L498.0,419.0 L498.5,449.1 L499.0,449.7 L499.5,461.4 L500.0,465.2 L500.5,452.3 L501.0,454.8 L501.5,457.1 L502.0,459.3 L502.5,461.4 L503.0,463.3 L503.5,465.2 L504.0,467.1 L504.5,468.9 L505.0,470.6 L505.5,472.3 L506.0,473.9 L506.5,475.4 L507.0,476.7 L507.5,478.0 L508.0,479.1 L508.5,480.1 L509.0,481.0 L509.5,481.8 L510.0,482.7 L510.5,483.5 L511.0,484.2 L511.5,485.0 L512.0,485.6 L512.5,486.2 L513.0,486.8 L513.5,487.2 L514.0,487.6 L514.5,487.9 L515.0,488.1 L515.5,488.3 L516.0,488.4 L516.5,488.5 L517.0,488.7 L517.5,488.8 L518.0,488.9 L518.5,489.0 L519.0,489.1 L519.5,489.2 L520.0,489.3 L520.5,489.4 L521.0,489.4 L521.5,489.5 L522.0,489.5 L522.5,489.6 L523.0,489.6 L523.5,489.7 L524.0,489.7 L524.5,489.7 L525.0,489.7" fill="none" stroke="#ff00ff" stroke-width="5.0" stroke-linejoin="round" stroke-linecap="round" />
<path d="M475.0,489.7 L476.0,489.7 L477.0,489.6 L478.0,489.4 L479.0,489.2 L480.0,489.0 L481.0,488.7 L482.0,488.4 L483.0,488.1 L484.0,487.6 L485.0,486.9 L486.0,485.9 L487.0,484.8 L488.0,483.5 L489.0,482.0 L490.0,480.5 L491.0,478.8 L492.0,477.1 L493.0,475.3 L494.0,473.1 L495.0,470.7 L496.0,468.1 L497.0,465.1 L498.0,461.9 L499.0,458.3 L500.0,454.4 L501.0,450.2 L502.0,445.5 L503.0,439.1 L504.0,431.4 L505.0,422.9 L506.0,414.0 L507.0,405.1 L508.0,396.8 L509.0,389.2 L510.0,381.3 L511.0,373.3 L512.0,365.5 L513.0,358.4 L514.0,352.5 L515.0,348.1 L516.0,344.8 L517.0,341.6 L518.0,338.7 L519.0,336.2 L520.0,334.2 L521.0,332.9 L522.0,332.4 L523.0,332.8 L524.0,334.1 L525.0,336.2 L526.0,338.8 L527.0,341.8 L528.0,345.0 L529.0,349.4 L530.0,355.7 L531.0,363.4 L532.0,371.9 L533.0,380.5 L534.0,388.9 L535.0,396.7 L536.0,404.9 L537.0,413.3 L538.0,421.7 L539.0,430.0 L540.0,438.1 L541.0,445.6 L542.0,452.9 L543.0,460.6 L544.0,468.3 L545.0,475.1 L546.0,480.4 L547.0,483.4 L548.0,484.9 L549.0,486.1 L550.0,487.0 L551.0,487.7 L552.0,488.1 L553.0,488.5 L554.0,488.8 L555.0,489.0 L556.0,489.3 L557.0,489.4 L558.0,489.6 L559.0,489.7 L560.0,489.7" fill="none" stroke="#ff00ff" stroke-width="5.0" stroke-linejoin="round" stroke-linecap="round" />
<path d="M540.0,489.7 L540.5,489.7 L541.0,489.7 L541.5,489.7 L542.0,489.7 L542.5,489.7 L543.0,489.7 L543.5,489.7 L544.0,489.7 L544.5,489.6 L545.0,489.6 L545.5,489.6 L546.0,489.6 L546.5,489.6 L547.0,489.6 L547.5,489.5 L548.0,489.5 L548.5,489.5 L549.0,489.5 L549.5,489.4 L550.0,489.4 L550.5,489.4 L551.0,489.4 L551.5,489.3 L552.0,489.3 L552.5,489.3 L553.0,489.2 L553.5,489.2 L554.0,489.2 L554.5,489.1 L555.0,489.1 L555.5,489.1 L556.0,489.0 L556.5,489.0 L557.0,488.9 L557.5,488.9 L558.0,488.9 L558.5,488.8 L559.0,488.8 L559.5,488.7 L560.0,488.7 L560.5,488.6 L561.0,488.6 L561.5,488.5 L562.0,488.5 L562.5,488.4 L563.0,488.4 L563.5,488.3 L564.0,488.3 L564.5,488.2 L565.0,488.2 L565.5,488.1 L566.0,488.1 L566.5,488.0 L567.0,488.0 L567.5,487.9 L568.0,487.9 L568.5,487.8 L569.0,487.7 L569.5,487.7 L570.0,487.6 L570.5,487.5 L571.0,487.4 L571.5,487.4 L572.0,487.3 L572.5,487.2 L573.0,487.1 L573.5,487.0 L574.0,486.9 L574.5,486.8 L575.0,486.7 L575.5,486.5 L576.0,486.4 L576.5,486.3 L577.0,486.2 L577.5,486.0 L578.0,485.9 L578.5,485.7 L579.0,485.6 L579.5,485.4 L580.0,485.2 L580.5,485.0 L581.0,484.8 L581.5,484.6 L582.0,484.4 L582.5,484.2 L583.0,484.0 L583.5,483.8 L584.0,483.6 L584.5,483.3 L585.0,483.0 L585.5,482.5 L586.0,481.9 L586.5,481.3 L587.0,480.6 L587.5,479.8 L588.0,478.9 L588.5,478.0 L589.0,477.0 L589.5,476.0 L590.0,475.0 L590.5,474.0 L591.0,472.9 L591.5,471.9 L592.0,470.8 L592.5,469.8 L593.0,468.8 L593.5,467.7 L594.0,466.7 L594.5,465.6 L595.0,464.4 L595.5,463.2 L596.0,462.0 L596.5,460.6 L597.0,459.2 L597.5,457.7 L598.0,456.1 L598.5,454.4 L599.0,452.6 L599.5,450.6 L600.0,448.5 L600.5,446.0 L601.0,442.9 L601.5,439.3 L602.0,435.3 L602.5,430.8 L603.0,426.1 L603.5,421.2 L604.0,416.1 L604.5,410.9 L605.0,405.7 L605.5,400.5 L606.0,385.1 L606.5,378.2 L607.0,383.4 L607.5,384.4 L608.0,386.8 L608.5,357.4 L609.0,358.2 L609.5,343.1 L610.0,352.5 L610.5,335.4 L611.0,349.2 L611.5,330.8 L612.0,330.8 L612.5,336.1 L613.0,330.8 L613.5,330.8 L614.0,341.8 L614.5,330.8 L615.0,330.8 L615.5,345.9 L616.0,330.8 L616.5,338.2 L617.0,336.2 L617.5,357.8 L618.0,371.0 L618.5,352.0 L619.0,357.6 L619.5,375.8 L620.0,393.6 L620.5,395.5 L621.0,385.7 L621.5,403.1 L622.0,385.9 L622.5,404.5 L623.0,424.3 L623.5,417.1 L624.0,437.2 L624.5,427.1 L625.0,436.0 L625.5,454.4 L626.0,450.9 L626.5,449.4 L627.0,446.1 L627.5,440.4 L628.0,473.4 L628.5,462.1 L629.0,453.9 L629.5,464.3 L630.0,454.7 L630.5,472.2 L631.0,445.1 L631.5,457.7 L632.0,472.1 L632.5,453.5 L633.0,465.9 L633.5,470.2 L634.0,460.6 L634.5,473.0 L635.0,470.9 L635.5,448.6 L636.0,454.9 L636.5,479.2 L637.0,453.3 L637.5,480.7 L638.0,471.3 L638.5,453.6 L639.0,465.9 L639.5,479.4 L640.0,479.6 L640.5,481.9 L641.0,489.7 L641.5,482.9 L642.0,484.7 L642.5,486.0 L643.0,486.6 L643.5,487.0 L644.0,487.4 L644.5,487.7 L645.0,488.1 L645.5,488.4 L646.0,488.6 L646.5,488.9 L647.0,489.1 L647.5,489.3 L648.0,489.4 L648.5,489.5 L649.0,489.6 L649.5,489.7 L650.0,489.7" fill="none" stroke="#ff00ff" stroke-width="5.0" stroke-linejoin="round" stroke-linecap="round" />
<path d="M630.0,489.7 L631.0,489.7 L632.0,489.7 L633.0,489.6 L634.0,489.6 L635.0,489.5 L636.0,489.5 L637.0,489.4 L638.0,489.3 L639.0,489.2 L640.0,489.0 L641.0,488.9 L642.0,488.8 L643.0,488.6 L644.0,488.4 L645.0,488.3 L646.0,488.0 L647.0,487.5 L648.0,486.6 L649.0,485.4 L650.0,483.9 L651.0,482.2 L652.0,480.3 L653.0,478.2 L654.0,476.0 L655.0,473.7 L656.0,471.4 L657.0,469.1 L658.0,466.8 L659.0,464.7 L660.0,462.5 L661.0,460.3 L662.0,457.9 L663.0,455.4 L664.0,452.9 L665.0,450.3 L666.0,447.7 L667.0,445.1 L668.0,442.5 L669.0,440.0 L670.0,437.5 L671.0,435.1 L672.0,432.7 L673.0,430.2 L674.0,427.6 L675.0,424.9 L676.0,421.9 L677.0,418.7 L678.0,415.1 L679.0,410.9 L680.0,405.6 L681.0,399.7 L682.0,393.3 L683.0,386.8 L684.0,380.3 L685.0,374.1 L686.0,368.6 L687.0,363.9 L688.0,361.4 L689.0,358.8 L690.0,348.8 L691.0,350.8 L692.0,341.7 L693.0,340.2 L694.0,340.8 L695.0,334.0 L696.0,338.3 L697.0,334.2 L698.0,339.2 L699.0,340.6 L700.0,338.9 L701.0,336.7 L702.0,346.8 L703.0,348.0 L704.0,345.9 L705.0,344.9 L706.0,351.7 L707.0,356.7 L708.0,353.5 L709.0,367.1 L710.0,361.7 L711.0,371.7 L712.0,377.5 L713.0,378.3 L714.0,383.2 L715.0,388.4 L716.0,393.8 L717.0,399.3 L718.0,404.7 L719.0,410.0 L720.0,415.1 L721.0,420.4 L722.0,425.9 L723.0,431.5 L724.0,437.0 L725.0,442.2 L726.0,447.0 L727.0,451.1 L728.0,454.5 L729.0,457.5 L730.0,460.5 L731.0,463.2 L732.0,465.7 L733.0,468.1 L734.0,470.3 L735.0,472.3 L736.0,474.1 L737.0,475.7 L738.0,477.1 L739.0,478.4 L740.0,479.6 L741.0,480.8 L742.0,481.9 L743.0,483.0 L744.0,484.0 L745.0,484.9 L746.0,485.7 L747.0,486.4 L748.0,487.1 L749.0,487.6 L750.0,488.0 L751.0,488.3 L752.0,488.5 L753.0,488.8 L754.0,489.0 L755.0,489.2 L756.0,489.4 L757.0,489.5 L758.0,489.6 L759.0,489.7 L760.0,489.7" fill="none" stroke="#ff00ff" stroke-width="5.0" stroke-linejoin="round" stroke-linecap="round" />
<path d="M670.0,489.7 L671.0,489.7 L672.0,489.7 L673.0,489.6 L674.0,489.5 L675.0,489.4 L676.0,489.3 L677.0,489.2 L678.0,489.1 L679.0,488.9 L680.0,488.8 L681.0,488.6 L682.0,488.5 L683.0,488.3 L684.0,488.1 L685.0,487.9 L686.0,487.6 L687.0,487.3 L688.0,486.9 L689.0,486.5 L690.0,486.0 L691.0,485.5 L692.0,484.9 L693.0,484.3 L694.0,483.7 L695.0,483.0 L696.0,482.3 L697.0,481.5 L698.0,480.7 L699.0,479.8 L700.0,479.0 L701.0,478.0 L702.0,477.1 L703.0,476.1 L704.0,474.9 L705.0,473.4 L706.0,471.6 L707.0,469.7 L708.0,467.6 L709.0,465.4 L710.0,463.0 L711.0,460.6 L712.0,458.2 L713.0,455.8 L714.0,453.2 L715.0,450.4 L716.0,447.5 L717.0,444.5 L718.0,441.2 L719.0,437.8 L720.0,434.2 L721.0,430.2 L722.0,425.8 L723.0,421.0 L724.0,415.9 L725.0,410.7 L726.0,405.3 L727.0,399.9 L728.0,394.5 L729.0,389.2 L730.0,384.1 L731.0,378.5 L732.0,372.6 L733.0,366.8 L734.0,361.1 L735.0,356.0 L736.0,351.6 L737.0,348.1 L738.0,347.9 L739.0,338.1 L740.0,343.4 L741.0,335.6 L742.0,339.4 L743.0,336.4 L744.0,332.9 L745.0,335.6 L746.0,332.9 L747.0,335.4 L748.0,337.5 L749.0,339.6 L750.0,345.1 L751.0,341.9 L752.0,352.1 L753.0,354.8 L754.0,361.5 L755.0,364.3 L756.0,368.1 L757.0,368.5 L758.0,378.1 L759.0,385.0 L760.0,388.2 L761.0,385.9 L762.0,399.2 L763.0,398.5 L764.0,405.3 L765.0,406.9 L766.0,414.1 L767.0,414.7 L768.0,420.1 L769.0,421.9 L770.0,422.3 L771.0,428.1 L772.0,434.8 L773.0,438.0 L774.0,432.0 L775.0,438.5 L776.0,443.4 L777.0,438.4 L778.0,443.8 L779.0,444.4 L780.0,444.8 L781.0,452.2 L782.0,453.3 L783.0,450.1 L784.0,458.9 L785.0,454.7 L786.0,462.7 L787.0,458.9 L788.0,460.7 L789.0,460.1 L790.0,462.9 L791.0,467.9 L792.0,472.4 L793.0,474.4 L794.0,472.2 L795.0,473.6 L796.0,478.8 L797.0,471.8 L798.0,476.1 L799.0,474.7 L800.0,479.6 L801.0,477.3 L802.0,477.5 L803.0,477.7 L804.0,477.9 L805.0,478.1 L806.0,478.3 L807.0,478.5 L808.0,478.6 L809.0,478.8 L810.0,478.9 L811.0,479.1 L812.0,479.2 L813.0,479.4 L814.0,479.5 L815.0,479.7 L816.0,479.8 L817.0,479.9 L818.0,480.1 L819.0,480.2 L820.0,480.3 L821.0,480.4 L822.0,480.5 L823.0,480.6 L824.0,480.8 L825.0,480.9 L826.0,481.0 L827.0,481.1 L828.0,481.2 L829.0,481.3 L830.0,481.4 L831.0,481.4 L832.0,481.5 L833.0,481.6 L834.0,481.7 L835.0,481.8 L836.0,481.9 L837.0,481.9 L838.0,482.0 L839.0,482.1 L840.0,482.2 L841.0,482.2 L842.0,482.3 L843.0,482.4 L844.0,482.4 L845.0,482.5 L846.0,482.6 L847.0,482.6 L848.0,482.7 L849.0,482.7 L850.0,482.8 L851.0,482.9 L852.0,482.9 L853.0,483.0 L854.0,483.0 L855.0,483.1 L856.0,483.1 L857.0,483.2 L858.0,483.2 L859.0,483.3 L860.0,483.3 L861.0,483.4 L862.0,483.4 L863.0,483.5 L864.0,483.5 L865.0,483.6 L866.0,483.6 L867.0,483.7 L868.0,483.7 L869.0,483.8 L870.0,483.8 L871.0,483.9 L872.0,483.9 L873.0,483.9 L874.0,484.0 L875.0,484.0 L876.0,484.1 L877.0,484.1 L878.0,484.1 L879.0,484.2 L880.0,484.2 L881.0,484.3 L882.0,484.3 L883.0,484.3 L884.0,484.4 L885.0,484.4 L886.0,484.4 L887.0,484.5 L888.0,484.5 L889.0,484.5 L890.0,484.6 L891.0,484.6 L892.0,484.6 L893.0,484.7 L894.0,484.7 L895.0,484.7 L896.0,484.7 L897.0,484.8 L898.0,484.8 L899.0,484.8 L900.0,484.8 L901.0,484.9 L902.0,484.9 L903.0,484.9 L904.0,484.9 L905.0,484.9 L906.0,485.0 L907.0,485.0 L908.0,485.0 L909.0,485.0 L910.0,485.0 L911.0,485.1 L912.0,485.1 L913.0,485.1 L914.0,485.1 L915.0,485.1 L916.0,485.1 L917.0,485.1 L918.0,485.2 L919.0,485.2 L920.0,485.2 L921.0,485.2 L922.0,485.2 L923.0,485.2 L924.0,485.2 L925.0,485.2 L926.0,485.2 L927.0,485.2 L928.0,485.3 L929.0,485.3 L930.0,485.3 L931.0,485.3 L932.0,485.3 L933.0,485.3 L934.0,485.3 L935.0,485.3 L936.0,485.3 L937.0,485.3 L938.0,485.4 L939.0,485.4 L940.0,485.4 L941.0,485.4 L942.0,485.4 L943.0,485.4 L944.0,485.4 L945.0,485.4 L946.0,485.5 L947.0,485.5 L948.0,485.5 L949.0,485.5 L950.0,485.5 L951.0,485.5 L952.0,485.6 L953.0,485.6 L954.0,485.6 L955.0,485.6 L956.0,485.7 L957.0,485.7 L958.0,485.7 L959.0,485.7 L960.0,485.8 L961.0,485.8 L962.0,485.9 L963.0,485.9 L964.0,486.0 L965.0,486.0 L966.0,486.1 L967.0,486.1 L968.0,486.2 L969.0,486.2 L970.0,486.3 L971.0,486.4 L972.0,486.4 L973.0,486.5 L974.0,486.5 L975.0,486.6 L976.0,486.7 L977.0,486.7 L978.0,486.8 L979.0,486.9 L980.0,487.0 L981.0,487.0 L982.0,487.1 L983.0,487.2 L984.0,487.2 L985.0,487.3 L986.0,487.4 L987.0,487.5 L988.0,487.5 L989.0,487.6 L990.0,487.7 L991.0,487.7 L992.0,487.8 L993.0,487.9 L994.0,487.9 L995.0,488.0 L996.0,488.1 L997.0,488.1 L998.0,488.2 L999.0,488.3 L1000.0,488.3 L1001.0,488.4 L1002.0,488.4 L1003.0,488.5 L1004.0,488.6 L1005.0,488.6 L1006.0,488.7 L1007.0,488.7 L1008.0,488.8 L1009.0,488.8 L1010.0,488.9 L1011.0,488.9 L1012.0,489.0 L1013.0,489.0 L1014.0,489.1 L1015.0,489.1 L1016.0,489.2 L1017.0,489.2 L1018.0,489.3 L1019.0,489.3 L1020.0,489.4 L1021.0,489.4 L1022.0,489.5 L1023.0,489.5 L1024.0,489.6 L1025.0,489.6 L1026.0,489.7" fill="none" stroke="#ff00ff" stroke-width="5.0" stroke-linejoin="round" stroke-linecap="round" />
<path d="M158.0,710.1 L159.0,710.1 L160.0,710.1 L161.0,710.1 L162.0,710.1 L163.0,710.1 L164.0,710.1 L165.0,710.1 L166.0,710.1 L167.0,710.1 L168.0,710.1 L169.0,710.1 L170.0,710.1 L171.0,710.1 L172.0,710.1 L173.0,710.1 L174.0,710.1 L175.0,710.1 L176.0,710.1 L177.0,710.1 L178.0,710.1 L179.0,710.1 L180.0,710.1 L181.0,710.1 L182.0,710.1 L183.0,710.1 L184.0,710.1 L185.0,710.1 L186.0,710.1 L187.0,710.1 L188.0,710.1 L189.0,710.1 L190.0,710.1 L191.0,710.1 L192.0,710.1 L193.0,710.1 L194.0,710.1 L195.0,710.3 L196.0,710.6 L197.0,711.6 L198.0,710.1 L199.0,712.0 L200.0,710.1 L201.0,710.1 L202.0,711.8 L203.0,710.1 L204.0,710.1 L205.0,712.0 L206.0,710.6 L207.0,710.1 L208.0,710.3 L209.0,710.1 L210.0,711.5 L211.0,711.2 L212.0,711.7 L213.0,710.1 L214.0,710.1 L215.0,710.1 L216.0,710.1 L217.0,710.6 L218.0,710.1 L219.0,711.7 L220.0,711.0 L221.0,710.1 L222.0,710.1 L223.0,710.4 L224.0,711.8 L225.0,711.1 L226.0,711.3 L227.0,711.0 L228.0,710.1 L229.0,711.3 L230.0,710.1 L231.0,710.1 L232.0,711.9 L233.0,710.6 L234.0,710.1 L235.0,712.0 L236.0,710.4 L237.0,710.1 L238.0,711.7 L239.0,710.1 L240.0,711.7 L241.0,710.1 L242.0,710.1 L243.0,711.3 L244.0,712.0 L245.0,711.8 L246.0,710.1 L247.0,712.0 L248.0,711.8 L249.0,710.1 L250.0,710.1 L251.0,710.4 L252.0,710.5 L253.0,710.1 L254.0,711.8 L255.0,710.1 L256.0,711.5 L257.0,710.1 L258.0,710.1 L259.0,711.9 L260.0,710.1 L261.0,710.1 L262.0,711.5 L263.0,711.1 L264.0,710.1 L265.0,710.1 L266.0,711.7 L267.0,710.1 L268.0,710.1 L269.0,711.2 L270.0,710.1 L271.0,712.0 L272.0,710.7 L273.0,710.1 L274.0,710.1 L275.0,710.1 L276.0,711.8 L277.0,710.7 L278.0,710.1 L279.0,710.1 L280.0,710.3 L281.0,710.5 L282.0,710.1 L283.0,710.1 L284.0,712.0 L285.0,710.1 L286.0,710.8 L287.0,710.4 L288.0,711.3 L289.0,710.3 L290.0,710.8 L291.0,711.8 L292.0,710.1 L293.0,711.7 L294.0,710.1 L295.0,712.0 L296.0,710.1 L297.0,710.1 L298.0,710.1 L299.0,710.1 L300.0,711.1 L301.0,710.1 L302.0,710.4 L303.0,711.2 L304.0,710.1 L305.0,710.5 L306.0,710.6 L307.0,710.1 L308.0,710.6 L309.0,710.1 L310.0,711.5 L311.0,710.1 L312.0,711.1 L313.0,712.0 L314.0,710.1 L315.0,711.5 L316.0,710.1 L317.0,710.1 L318.0,710.1 L319.0,712.0 L320.0,711.9 L321.0,711.3 L322.0,710.6 L323.0,710.1 L324.0,710.1 L325.0,710.7 L326.0,711.6 L327.0,710.1 L328.0,711.6 L329.0,711.8 L330.0,710.1 L331.0,710.1 L332.0,711.9 L333.0,710.3 L334.0,710.1 L335.0,710.1 L336.0,710.6 L337.0,710.1 L338.0,711.5 L339.0,710.1 L340.0,710.1 L341.0,710.1 L342.0,710.1 L343.0,711.8 L344.0,712.0 L345.0,710.1 L346.0,710.1 L347.0,710.1 L348.0,710.1 L349.0,710.1 L350.0,710.1 L351.0,710.1 L352.0,710.1 L353.0,710.1 L354.0,710.1 L355.0,710.1 L356.0,710.1 L357.0,710.1 L358.0,710.1 L359.0,710.1 L360.0,710.1 L361.0,710.1 L362.0,710.1 L363.0,710.1 L364.0,710.1 L365.0,710.1 L366.0,710.1 L367.0,710.1 L368.0,710.1 L369.0,710.1 L370.0,710.1 L371.0,710.1 L372.0,710.1 L373.0,710.1 L374.0,710.1 L375.0,710.1 L376.0,710.1 L377.0,710.1 L378.0,710.1 L379.0,710.1 L380.0,710.1 L381.0,710.1 L382.0,710.1 L383.0,710.1 L384.0,710.1 L385.0,710.1 L386.0,710.1 L387.0,710.1 L388.0,710.1 L389.0,710.1 L390.0,710.1 L391.0,710.1 L392.0,710.1 L393.0,710.1 L394.0,710.1 L395.0,710.1 L396.0,710.1 L397.0,710.1 L398.0,710.1 L399.0,710.1 L400.0,710.1 L401.0,710.1 L402.0,710.1 L403.0,710.1 L404.0,710.1 L405.0,710.1 L406.0,710.1 L407.0,710.1 L408.0,710.1 L409.0,710.1 L410.0,710.1 L411.0,710.1 L412.0,710.1 L413.0,710.1 L414.0,710.1 L415.0,710.1 L416.0,710.1 L417.0,710.1 L418.0,710.1 L419.0,710.1 L420.0,710.1 L421.0,710.1 L422.0,710.1 L423.0,710.1 L424.0,710.1 L425.0,710.1 L426.0,710.1 L427.0,710.1 L428.0,710.1 L429.0,710.1 L430.0,710.1 L431.0,710.1 L432.0,710.1 L433.0,710.1 L434.0,710.1 L435.0,710.1 L436.0,710.1 L437.0,710.1 L438.0,710.1 L439.0,710.1 L440.0,710.1" fill="none" stroke="#0000ff" stroke-width="5.0" stroke-linejoin="round" stroke-linecap="round" />
<path d="M420.0,712.0 L420.5,711.8 L421.0,711.7 L421.5,711.5 L422.0,711.3 L422.5,711.2 L423.0,711.0 L423.5,710.8 L424.0,710.7 L424.5,710.5 L425.0,710.3 L425.5,710.1 L426.0,709.9 L426.5,709.8 L427.0,709.6 L427.5,709.4 L428.0,709.2 L428.5,709.0 L429.0,708.8 L429.5,708.6 L430.0,708.4 L430.5,708.2 L431.0,708.0 L431.5,707.8 L432.0,707.6 L432.5,707.4 L433.0,707.2 L433.5,707.0 L434.0,706.8 L434.5,706.6 L435.0,706.3 L435.5,706.1 L436.0,705.9 L436.5,705.7 L437.0,705.5 L437.5,705.3 L438.0,705.0 L438.5,704.8 L439.0,704.6 L439.5,704.4 L440.0,704.1 L440.5,703.9 L441.0,703.7 L441.5,703.5 L442.0,703.2 L442.5,703.0 L443.0,702.8 L443.5,702.5 L444.0,702.3 L444.5,702.1 L445.0,701.8 L445.5,701.6 L446.0,701.3 L446.5,701.1 L447.0,700.8 L447.5,700.6 L448.0,700.3 L448.5,700.1 L449.0,699.8 L449.5,699.5 L450.0,699.3 L450.5,699.0 L451.0,698.7 L451.5,698.4 L452.0,698.1 L452.5,697.8 L453.0,697.5 L453.5,697.2 L454.0,696.9 L454.5,696.6 L455.0,696.3 L455.5,695.9 L456.0,695.6 L456.5,695.3 L457.0,695.0 L457.5,694.7 L458.0,694.4 L458.5,694.0 L459.0,693.7 L459.5,693.3 L460.0,692.9 L460.5,692.5 L461.0,692.0 L461.5,691.5 L462.0,690.9 L462.5,690.4 L463.0,689.7 L463.5,688.9 L464.0,687.9 L464.5,686.8 L465.0,685.6 L465.5,684.2 L466.0,682.7 L466.5,681.1 L467.0,679.5 L467.5,677.7 L468.0,675.9 L468.5,674.1 L469.0,672.2 L469.5,670.3 L470.0,668.2 L470.5,665.9 L471.0,663.3 L471.5,660.6 L472.0,657.9 L472.5,655.0 L473.0,652.1 L473.5,649.3 L474.0,646.5 L474.5,643.8 L475.0,641.2 L475.5,638.8 L476.0,633.9 L476.5,637.2 L477.0,629.5 L477.5,641.5 L478.0,616.4 L478.5,613.7 L479.0,617.6 L479.5,633.5 L480.0,616.8 L480.5,620.3 L481.0,618.6 L481.5,586.7 L482.0,579.4 L482.5,609.6 L483.0,573.5 L483.5,578.3 L484.0,582.8 L484.5,583.0 L485.0,564.7 L485.5,569.4 L486.0,557.5 L486.5,555.7 L487.0,572.9 L487.5,555.7 L488.0,555.7 L488.5,555.7 L489.0,555.7 L489.5,579.1 L490.0,586.1 L490.5,586.9 L491.0,561.6 L491.5,590.5 L492.0,593.0 L492.5,578.0 L493.0,605.2 L493.5,601.5 L494.0,610.7 L494.5,629.5 L495.0,614.4 L495.5,609.0 L496.0,639.4 L496.5,641.3 L497.0,638.5 L497.5,657.1 L498.0,643.9 L498.5,635.9 L499.0,645.8 L499.5,655.4 L500.0,658.9 L500.5,662.0 L501.0,664.9 L501.5,667.3 L502.0,669.6 L502.5,671.8 L503.0,674.0 L503.5,676.0 L504.0,677.9 L504.5,679.7 L505.0,681.4 L505.5,683.0 L506.0,684.5 L506.5,685.9 L507.0,687.1 L507.5,688.2 L508.0,689.2 L508.5,690.1 L509.0,690.9 L509.5,691.7 L510.0,692.5 L510.5,693.3 L511.0,693.9 L511.5,694.6 L512.0,695.1 L512.5,695.7 L513.0,696.1 L513.5,696.5 L514.0,696.8 L514.5,697.0 L515.0,697.2 L515.5,697.3 L516.0,697.5 L516.5,697.6 L517.0,697.8 L517.5,697.9 L518.0,698.0 L518.5,698.1 L519.0,698.2 L519.5,698.3 L520.0,698.4 L520.5,698.5 L521.0,698.6 L521.5,698.7 L522.0,698.8 L522.5,698.8 L523.0,698.9 L523.5,699.0 L524.0,699.1 L524.5,699.2 L525.0,699.3 L525.5,699.4 L526.0,699.5 L526.5,699.6 L527.0,699.7 L527.5,699.8 L528.0,699.9 L528.5,700.0 L529.0,700.1 L529.5,700.2 L530.0,700.3 L530.5,700.4 L531.0,700.5 L531.5,700.6 L532.0,700.7 L532.5,700.8 L533.0,700.9 L533.5,701.0 L534.0,701.1 L534.5,701.1 L535.0,701.2 L535.5,701.3 L536.0,701.4 L536.5,701.5 L537.0,701.6 L537.5,701.6 L538.0,701.7 L538.5,701.8 L539.0,701.9 L539.5,702.0 L540.0,702.0 L540.5,702.1 L541.0,702.2 L541.5,702.2 L542.0,702.3 L542.5,702.4 L543.0,702.4 L543.5,702.5 L544.0,702.5 L544.5,702.6 L545.0,702.6 L545.5,702.7 L546.0,702.7 L546.5,702.8 L547.0,702.8 L547.5,702.8 L548.0,702.9 L548.5,702.9 L549.0,702.9 L549.5,703.0 L550.0,703.0 L550.5,703.0 L551.0,703.1 L551.5,703.1 L552.0,703.1 L552.5,703.2 L553.0,703.2 L553.5,703.2 L554.0,703.2 L554.5,703.3 L555.0,703.3 L555.5,703.3 L556.0,703.4 L556.5,703.4 L557.0,703.4 L557.5,703.4 L558.0,703.5 L558.5,703.5 L559.0,703.5 L559.5,703.6 L560.0,703.6 L560.5,703.6 L561.0,703.6 L561.5,703.7 L562.0,703.7 L562.5,703.7 L563.0,703.7 L563.5,703.7 L564.0,703.8 L564.5,703.8 L565.0,703.8 L565.5,703.8 L566.0,703.8 L566.5,703.9 L567.0,703.9 L567.5,703.9 L568.0,703.9 L568.5,703.9 L569.0,704.0 L569.5,704.0 L570.0,704.0 L570.5,704.0 L571.0,704.0 L571.5,704.0 L572.0,704.0 L572.5,704.0 L573.0,704.1 L573.5,704.1 L574.0,704.1 L574.5,704.1 L575.0,704.1 L575.5,704.1 L576.0,704.1 L576.5,704.1 L577.0,704.1 L577.5,704.1 L578.0,704.1 L578.5,704.1 L579.0,704.1 L579.5,704.1 L580.0,704.1 L580.5,704.1 L581.0,704.1 L581.5,704.1 L582.0,704.1 L582.5,704.1 L583.0,704.1 L583.5,704.1 L584.0,704.1 L584.5,704.1 L585.0,704.1 L585.5,704.1 L586.0,704.0 L586.5,704.0 L587.0,704.0 L587.5,704.0 L588.0,704.0 L588.5,703.9 L589.0,703.9 L589.5,703.9 L590.0,703.9 L590.5,703.9 L591.0,703.8 L591.5,703.8 L592.0,703.8 L592.5,703.7 L593.0,703.7 L593.5,703.7 L594.0,703.7 L594.5,703.6 L595.0,703.6 L595.5,703.6 L596.0,703.5 L596.5,703.5 L597.0,703.5 L597.5,703.4 L598.0,703.4 L598.5,703.3 L599.0,703.3 L599.5,703.3 L600.0,703.2 L600.5,703.2 L601.0,703.1 L601.5,703.1 L602.0,703.1 L602.5,703.0 L603.0,703.0 L603.5,702.9 L604.0,702.9 L604.5,702.8 L605.0,702.8 L605.5,702.7 L606.0,702.7 L606.5,702.7 L607.0,702.6 L607.5,702.6 L608.0,702.5 L608.5,702.5 L609.0,702.4 L609.5,702.4 L610.0,702.3 L610.5,702.3 L611.0,702.2 L611.5,702.2 L612.0,702.1 L612.5,702.1 L613.0,702.0 L613.5,702.0 L614.0,701.9 L614.5,701.9 L615.0,701.8 L615.5,701.8 L616.0,701.7 L616.5,701.7 L617.0,701.6 L617.5,701.6 L618.0,701.5 L618.5,701.5 L619.0,701.4 L619.5,701.4 L620.0,701.3 L620.5,701.3 L621.0,701.2 L621.5,701.2 L622.0,701.1 L622.5,701.0 L623.0,701.0 L623.5,700.9 L624.0,700.8 L624.5,700.8 L625.0,700.7 L625.5,700.6 L626.0,700.5 L626.5,700.5 L627.0,700.4 L627.5,700.3 L628.0,700.2 L628.5,700.2 L629.0,700.1 L629.5,700.0 L630.0,699.9 L630.5,699.8 L631.0,699.8 L631.5,699.7 L632.0,699.6 L632.5,699.5 L633.0,699.4 L633.5,699.4 L634.0,699.3 L634.5,699.2 L635.0,699.1 L635.5,699.0 L636.0,698.9 L636.5,698.9 L637.0,698.8 L637.5,698.7 L638.0,698.6 L638.5,698.5 L639.0,698.5 L639.5,698.4 L640.0,698.3 L640.5,698.2 L641.0,698.1 L641.5,698.0 L642.0,697.8 L642.5,697.7 L643.0,697.6 L643.5,697.5 L644.0,697.4 L644.5,697.3 L645.0,697.2 L645.5,697.1 L646.0,697.0 L646.5,696.9 L647.0,696.8 L647.5,696.7 L648.0,696.6 L648.5,696.5 L649.0,696.5 L649.5,696.4 L650.0,696.4 L650.5,696.3 L651.0,696.3 L651.5,696.3 L652.0,696.3 L652.5,696.3 L653.0,696.3 L653.5,696.4 L654.0,696.5 L654.5,696.7 L655.0,696.9 L655.5,697.0 L656.0,697.3 L656.5,697.5 L657.0,697.8 L657.5,698.0 L658.0,698.3 L658.5,698.6 L659.0,698.9 L659.5,699.2 L660.0,699.5 L660.5,699.9 L661.0,700.2 L661.5,700.5 L662.0,700.8 L662.5,701.1 L663.0,701.4 L663.5,701.7 L664.0,702.0 L664.5,702.3 L665.0,702.6 L665.5,702.8 L666.0,703.1 L666.5,703.4 L667.0,703.6 L667.5,703.9 L668.0,704.2 L668.5,704.5 L669.0,704.8 L669.5,705.1 L670.0,705.5 L670.5,705.8 L671.0,706.1 L671.5,706.4 L672.0,706.7 L672.5,707.0 L673.0,707.3 L673.5,707.6 L674.0,707.9 L674.5,708.2 L675.0,708.4 L675.5,708.7 L676.0,708.9 L676.5,709.2 L677.0,709.4 L677.5,709.6 L678.0,709.8 L678.5,710.0 L679.0,710.2 L679.5,710.3 L680.0,710.4 L680.5,710.5 L681.0,710.7 L681.5,710.8 L682.0,710.9 L682.5,711.0 L683.0,711.1 L683.5,711.2 L684.0,711.3 L684.5,711.4 L685.0,711.5 L685.5,711.6 L686.0,711.7 L686.5,711.7 L687.0,711.8 L687.5,711.8 L688.0,711.9 L688.5,711.9 L689.0,712.0 L689.5,712.0 L690.0,712.0" fill="none" stroke="#0000ff" stroke-width="5.0" stroke-linejoin="round" stroke-linecap="round" />
<path d="M330.0,712.0 L331.0,710.7 L332.0,709.4 L333.0,708.1 L334.0,706.9 L335.0,705.8 L336.0,704.8 L337.0,704.4 L338.0,703.3 L339.0,701.0 L340.0,702.6 L341.0,701.9 L342.0,701.0 L343.0,702.5 L344.0,700.5 L345.0,699.5 L346.0,698.3 L347.0,701.2 L348.0,699.8 L349.0,700.5 L350.0,696.7 L351.0,697.0 L352.0,699.7 L353.0,695.0 L354.0,694.8 L355.0,696.0 L356.0,696.0 L357.0,697.9 L358.0,698.4 L359.0,695.8 L360.0,697.8 L361.0,697.1 L362.0,696.7 L363.0,697.6 L364.0,695.4 L365.0,695.4 L366.0,693.4 L367.0,694.8 L368.0,694.1 L369.0,694.7 L370.0,693.8 L371.0,694.7 L372.0,695.4 L373.0,691.9 L374.0,691.8 L375.0,692.5 L376.0,693.0 L377.0,694.8 L378.0,695.2 L379.0,694.8 L380.0,695.8 L381.0,692.5 L382.0,694.2 L383.0,692.0 L384.0,694.2 L385.0,691.4 L386.0,692.0 L387.0,696.0 L388.0,695.0 L389.0,691.7 L390.0,693.8 L391.0,691.5 L392.0,694.3 L393.0,695.9 L394.0,693.4 L395.0,692.7 L396.0,695.2 L397.0,696.2 L398.0,695.1 L399.0,692.2 L400.0,693.3 L401.0,696.4 L402.0,695.8 L403.0,696.5 L404.0,696.8 L405.0,693.3 L406.0,696.2 L407.0,694.2 L408.0,694.5 L409.0,695.5 L410.0,692.5 L411.0,695.0 L412.0,692.1 L413.0,694.2 L414.0,692.3 L415.0,692.8 L416.0,692.1 L417.0,688.4 L418.0,688.9 L419.0,690.9 L420.0,687.9 L421.0,689.4 L422.0,689.1 L423.0,688.9 L424.0,688.6 L425.0,688.3 L426.0,688.0 L427.0,687.7 L428.0,687.4 L429.0,687.1 L430.0,686.8 L431.0,686.5 L432.0,686.2 L433.0,685.9 L434.0,685.5 L435.0,685.2 L436.0,684.8 L437.0,684.5 L438.0,684.1 L439.0,683.8 L440.0,683.4 L441.0,683.1 L442.0,682.7 L443.0,682.4 L444.0,682.0 L445.0,681.7 L446.0,681.4 L447.0,681.0 L448.0,680.7 L449.0,680.4 L450.0,680.1 L451.0,679.8 L452.0,679.5 L453.0,679.2 L454.0,679.0 L455.0,678.7 L456.0,678.4 L457.0,678.1 L458.0,677.8 L459.0,677.5 L460.0,677.2 L461.0,676.9 L462.0,676.6 L463.0,676.3 L464.0,676.0 L465.0,675.6 L466.0,675.3 L467.0,674.9 L468.0,674.6 L469.0,674.3 L470.0,673.9 L471.0,673.6 L472.0,673.2 L473.0,672.9 L474.0,672.5 L475.0,672.2 L476.0,671.8 L477.0,671.5 L478.0,671.1 L479.0,670.8 L480.0,670.5 L481.0,670.1 L482.0,669.8 L483.0,669.5 L484.0,669.1 L485.0,668.8 L486.0,668.5 L487.0,668.1 L488.0,667.8 L489.0,667.5 L490.0,667.2 L491.0,666.8 L492.0,666.5 L493.0,666.2 L494.0,666.0 L495.0,665.7 L496.0,665.5 L497.0,665.2 L498.0,664.8 L499.0,664.1 L500.0,662.9 L501.0,661.4 L502.0,659.8 L503.0,658.1 L504.0,656.6 L505.0,655.4 L506.0,654.5 L507.0,653.8 L508.0,653.2 L509.0,652.4 L510.0,651.5 L511.0,649.9 L512.0,646.8 L513.0,642.6 L514.0,637.9 L515.0,633.4 L516.0,629.0 L517.0,624.6 L518.0,619.9 L519.0,615.1 L520.0,610.2 L521.0,605.0 L522.0,599.0 L523.0,592.4 L524.0,585.7 L525.0,579.5 L526.0,574.2 L527.0,570.4 L528.0,567.6 L529.0,564.9 L530.0,562.4 L531.0,560.2 L532.0,558.4 L533.0,557.1 L534.0,556.4 L535.0,556.3 L536.0,556.7 L537.0,557.4 L538.0,558.4 L539.0,559.6 L540.0,561.0 L541.0,563.4 L542.0,567.4 L543.0,572.6 L544.0,578.5 L545.0,584.7 L546.0,590.8 L547.0,596.2 L548.0,601.4 L549.0,606.8 L550.0,612.2 L551.0,617.5 L552.0,622.6 L553.0,627.2 L554.0,631.3 L555.0,635.0 L556.0,638.6 L557.0,642.0 L558.0,645.2 L559.0,648.0 L560.0,650.4 L561.0,652.2 L562.0,653.8 L563.0,655.1 L564.0,656.4 L565.0,657.6 L566.0,658.6 L567.0,659.6 L568.0,660.5 L569.0,661.4 L570.0,662.2 L571.0,663.1 L572.0,663.9 L573.0,664.7 L574.0,665.5 L575.0,666.4 L576.0,667.3 L577.0,668.2 L578.0,669.1 L579.0,670.1 L580.0,671.0 L581.0,671.9 L582.0,672.8 L583.0,673.6 L584.0,674.4 L585.0,675.2 L586.0,675.9 L587.0,676.5 L588.0,677.1 L589.0,677.6 L590.0,678.0 L591.0,678.4 L592.0,678.9 L593.0,679.3 L594.0,679.7 L595.0,680.1 L596.0,680.4 L597.0,680.8 L598.0,681.1 L599.0,681.3 L600.0,681.5 L601.0,681.7 L602.0,681.8 L603.0,681.8 L604.0,681.8 L605.0,681.7 L606.0,681.5 L607.0,681.3 L608.0,681.1 L609.0,680.9 L610.0,680.6 L611.0,680.3 L612.0,680.1 L613.0,679.8 L614.0,679.6 L615.0,679.4 L616.0,679.2 L617.0,679.1 L618.0,679.0 L619.0,679.0 L620.0,679.2 L621.0,679.6 L622.0,680.3 L623.0,681.0 L624.0,681.9 L625.0,682.8 L626.0,683.7 L627.0,684.6 L628.0,685.6 L629.0,686.7 L630.0,688.0 L631.0,689.3 L632.0,690.7 L633.0,692.1 L634.0,693.4 L635.0,694.6 L636.0,695.7 L637.0,696.6 L638.0,697.2 L639.0,697.7 L640.0,698.0 L641.0,698.4 L642.0,698.7 L643.0,698.9 L644.0,699.2 L645.0,699.5 L646.0,699.8 L647.0,700.1 L648.0,700.5 L649.0,700.9 L650.0,701.4 L651.0,701.8 L652.0,702.3 L653.0,702.8 L654.0,703.2 L655.0,703.7 L656.0,704.2 L657.0,704.6 L658.0,705.0 L659.0,705.4 L660.0,705.7 L661.0,706.0 L662.0,706.3 L663.0,706.6 L664.0,706.9 L665.0,707.2 L666.0,707.5 L667.0,707.8 L668.0,708.0 L669.0,708.3 L670.0,708.5 L671.0,708.8 L672.0,709.0 L673.0,709.2 L674.0,709.5 L675.0,709.6 L676.0,709.8 L677.0,710.0 L678.0,710.2 L679.0,710.3 L680.0,710.4 L681.0,710.5 L682.0,710.7 L683.0,710.8 L684.0,710.9 L685.0,711.0 L686.0,711.1 L687.0,711.2 L688.0,711.3 L689.0,711.4 L690.0,711.5 L691.0,711.6 L692.0,711.7 L693.0,711.7 L694.0,711.8 L695.0,711.9 L696.0,711.9 L697.0,711.9 L698.0,712.0 L699.0,712.0 L700.0,712.0" fill="none" stroke="#0000ff" stroke-width="5.0" stroke-linejoin="round" stroke-linecap="round" />
<path d="M440.0,712.0 L441.0,711.7 L442.0,711.4 L443.0,711.1 L444.0,710.8 L445.0,710.5 L446.0,710.1 L447.0,709.8 L448.0,709.4 L449.0,709.0 L450.0,708.6 L451.0,708.2 L452.0,707.8 L453.0,707.4 L454.0,706.9 L455.0,706.5 L456.0,706.0 L457.0,705.6 L458.0,705.1 L459.0,704.6 L460.0,704.1 L461.0,703.6 L462.0,703.1 L463.0,702.5 L464.0,701.8 L465.0,701.2 L466.0,700.5 L467.0,699.8 L468.0,699.2 L469.0,698.5 L470.0,698.2 L471.0,695.6 L472.0,694.9 L473.0,700.2 L474.0,701.2 L475.0,696.8 L476.0,697.5 L477.0,691.3 L478.0,692.3 L479.0,692.9 L480.0,693.1 L481.0,691.7 L482.0,697.1 L483.0,693.5 L484.0,696.3 L485.0,687.8 L486.0,696.7 L487.0,688.0 L488.0,695.8 L489.0,688.7 L490.0,692.0 L491.0,690.8 L492.0,685.4 L493.0,693.8 L494.0,692.4 L495.0,682.0 L496.0,685.2 L497.0,688.5 L498.0,677.3 L499.0,676.4 L500.0,684.3 L501.0,679.6 L502.0,681.7 L503.0,678.7 L504.0,674.5 L505.0,678.8 L506.0,672.3 L507.0,678.8 L508.0,676.9 L509.0,669.2 L510.0,673.2 L511.0,672.5 L512.0,670.1 L513.0,670.9 L514.0,671.4 L515.0,674.9 L516.0,666.8 L517.0,663.7 L518.0,663.2 L519.0,666.2 L520.0,669.2 L521.0,668.7 L522.0,664.7 L523.0,664.5 L524.0,670.2 L525.0,668.5 L526.0,666.7 L527.0,664.6 L528.0,660.9 L529.0,663.9 L530.0,668.7 L531.0,659.6 L532.0,663.6 L533.0,662.2 L534.0,665.1 L535.0,662.5 L536.0,662.7 L537.0,658.1 L538.0,665.2 L539.0,660.0 L540.0,663.9 L541.0,657.9 L542.0,665.0 L543.0,662.1 L544.0,661.1 L545.0,657.7 L546.0,663.9 L547.0,659.2 L548.0,661.8 L549.0,660.8 L550.0,658.5 L551.0,653.1 L552.0,658.2 L553.0,652.9 L554.0,661.5 L555.0,653.1 L556.0,659.2 L557.0,661.2 L558.0,655.1 L559.0,653.3 L560.0,663.4 L561.0,660.6 L562.0,655.2 L563.0,660.1 L564.0,661.4 L565.0,664.1 L566.0,664.0 L567.0,657.8 L568.0,654.0 L569.0,654.1 L570.0,659.9 L571.0,665.6 L572.0,662.7 L573.0,658.1 L574.0,658.1 L575.0,660.6 L576.0,665.5 L577.0,662.7 L578.0,663.7 L579.0,662.6 L580.0,667.1 L581.0,660.0 L582.0,661.0 L583.0,669.5 L584.0,668.4 L585.0,662.2 L586.0,668.8 L587.0,661.5 L588.0,666.0 L589.0,663.7 L590.0,663.2 L591.0,668.1 L592.0,666.8 L593.0,666.5 L594.0,661.1 L595.0,659.8 L596.0,664.5 L597.0,654.4 L598.0,657.6 L599.0,657.6 L600.0,653.5 L601.0,650.9 L602.0,649.2 L603.0,647.8 L604.0,646.4 L605.0,645.0 L606.0,643.6 L607.0,641.9 L608.0,640.1 L609.0,638.3 L610.0,636.2 L611.0,633.3 L612.0,629.0 L613.0,619.7 L614.0,608.4 L615.0,598.8 L616.0,589.1 L617.0,579.7 L618.0,571.9 L619.0,566.5 L620.0,562.1 L621.0,558.2 L622.0,554.7 L623.0,554.7 L624.0,555.6 L625.0,557.0 L626.0,564.7 L627.0,576.5 L628.0,590.1 L629.0,594.7 L630.0,596.1 L631.0,603.6 L632.0,610.8 L633.0,617.8 L634.0,619.4 L635.0,614.3 L636.0,619.2 L637.0,631.1 L638.0,619.8 L639.0,618.1 L640.0,622.0 L641.0,621.9 L642.0,623.5 L643.0,632.5 L644.0,629.7 L645.0,639.6 L646.0,647.3 L647.0,645.3 L648.0,649.1 L649.0,640.5 L650.0,648.4 L651.0,654.4 L652.0,655.9 L653.0,668.1 L654.0,663.5 L655.0,663.6 L656.0,672.5 L657.0,678.1 L658.0,677.4 L659.0,680.5 L660.0,674.5 L661.0,685.4 L662.0,686.9 L663.0,683.2 L664.0,676.4 L665.0,675.5 L666.0,677.7 L667.0,672.8 L668.0,683.8 L669.0,690.5 L670.0,682.1 L671.0,683.3 L672.0,688.6 L673.0,679.8 L674.0,686.5 L675.0,689.0 L676.0,687.9 L677.0,676.9 L678.0,695.2 L679.0,689.3 L680.0,691.5 L681.0,693.7 L682.0,690.0 L683.0,694.6 L684.0,682.1 L685.0,690.5 L686.0,687.3 L687.0,697.8 L688.0,692.4 L689.0,689.9 L690.0,685.7 L691.0,697.1 L692.0,693.3 L693.0,686.0 L694.0,686.5 L695.0,698.1 L696.0,692.4 L697.0,688.3 L698.0,695.4 L699.0,690.4 L700.0,690.8 L701.0,685.3 L702.0,693.5 L703.0,691.7 L704.0,698.7 L705.0,692.5 L706.0,701.3 L707.0,699.1 L708.0,700.3 L709.0,701.5 L710.0,702.6 L711.0,703.7 L712.0,705.0 L713.0,706.3 L714.0,707.5 L715.0,708.5 L716.0,709.1 L717.0,709.6 L718.0,710.1 L719.0,710.5 L720.0,710.9 L721.0,711.3 L722.0,711.6 L723.0,711.8 L724.0,712.0 L725.0,712.0" fill="none" stroke="#0000ff" stroke-width="5.0" stroke-linejoin="round" stroke-linecap="round" />
<path d="M635.0,712.0 L636.0,711.4 L637.0,710.7 L638.0,710.0 L639.0,709.2 L640.0,708.3 L641.0,707.4 L642.0,706.5 L643.0,705.4 L644.0,704.4 L645.0,703.3 L646.0,702.2 L647.0,701.0 L648.0,699.8 L649.0,698.4 L650.0,696.9 L651.0,695.4 L652.0,693.8 L653.0,692.1 L654.0,690.3 L655.0,688.6 L656.0,686.7 L657.0,684.9 L658.0,683.1 L659.0,681.3 L660.0,679.5 L661.0,677.7 L662.0,676.1 L663.0,674.4 L664.0,672.7 L665.0,671.0 L666.0,669.3 L667.0,667.5 L668.0,665.6 L669.0,663.5 L670.0,661.3 L671.0,659.0 L672.0,656.5 L673.0,653.7 L674.0,650.6 L675.0,646.5 L676.0,641.6 L677.0,636.2 L678.0,630.6 L679.0,625.1 L680.0,619.9 L681.0,615.4 L682.0,611.1 L683.0,607.0 L684.0,602.9 L685.0,598.9 L686.0,595.1 L687.0,591.2 L688.0,589.6 L689.0,581.4 L690.0,577.1 L691.0,571.3 L692.0,573.6 L693.0,569.9 L694.0,568.3 L695.0,566.1 L696.0,560.0 L697.0,564.5 L698.0,559.6 L699.0,561.6 L700.0,560.0 L701.0,557.9 L702.0,555.5 L703.0,555.5 L704.0,560.3 L705.0,557.7 L706.0,558.8 L707.0,555.5 L708.0,555.5 L709.0,555.5 L710.0,557.1 L711.0,560.1 L712.0,560.7 L713.0,564.8 L714.0,572.8 L715.0,570.1 L716.0,576.6 L717.0,580.4 L718.0,585.3 L719.0,590.8 L720.0,596.6 L721.0,602.2 L722.0,607.4 L723.0,612.0 L724.0,616.2 L725.0,620.2 L726.0,624.0 L727.0,627.8 L728.0,631.6 L729.0,635.5 L730.0,639.4 L731.0,643.7 L732.0,648.1 L733.0,652.6 L734.0,656.9 L735.0,660.8 L736.0,664.3 L737.0,667.2 L738.0,669.8 L739.0,672.2 L740.0,674.4 L741.0,676.4 L742.0,678.1 L743.0,679.6 L744.0,680.9 L745.0,682.0 L746.0,683.1 L747.0,684.2 L748.0,685.1 L749.0,686.1 L750.0,686.9 L751.0,687.7 L752.0,688.5 L753.0,689.2 L754.0,689.8 L755.0,690.3 L756.0,690.8 L757.0,691.3 L758.0,691.6 L759.0,691.9 L760.0,692.2 L761.0,692.5 L762.0,692.8 L763.0,693.0 L764.0,693.2 L765.0,693.4 L766.0,693.6 L767.0,693.8 L768.0,694.0 L769.0,694.2 L770.0,694.3 L771.0,694.5 L772.0,694.7 L773.0,694.8 L774.0,695.0 L775.0,695.2 L776.0,695.4 L777.0,695.6 L778.0,695.8 L779.0,696.0 L780.0,696.2 L781.0,696.5 L782.0,696.7 L783.0,696.9 L784.0,697.2 L785.0,697.4 L786.0,697.7 L787.0,697.9 L788.0,698.2 L789.0,698.4 L790.0,698.7 L791.0,699.0 L792.0,699.2 L793.0,699.5 L794.0,699.8 L795.0,700.0 L796.0,700.3 L797.0,700.6 L798.0,700.9 L799.0,701.2 L800.0,701.5 L801.0,701.8 L802.0,702.1 L803.0,702.5 L804.0,702.8 L805.0,703.2 L806.0,703.6 L807.0,704.0 L808.0,704.4 L809.0,704.8 L810.0,705.2 L811.0,705.6 L812.0,706.0 L813.0,706.3 L814.0,706.7 L815.0,707.1 L816.0,707.4 L817.0,707.7 L818.0,708.0 L819.0,708.3 L820.0,708.5 L821.0,708.8 L822.0,709.0 L823.0,709.2 L824.0,709.4 L825.0,709.7 L826.0,709.9 L827.0,710.1 L828.0,710.3 L829.0,710.5 L830.0,710.6 L831.0,710.8 L832.0,711.0 L833.0,711.1 L834.0,711.3 L835.0,711.4 L836.0,711.6 L837.0,711.7 L838.0,711.8 L839.0,711.9 L840.0,712.0" fill="none" stroke="#0000ff" stroke-width="5.0" stroke-linejoin="round" stroke-linecap="round" />
<path d="M700.0,712.0 L701.0,712.0 L702.0,711.9 L703.0,711.8 L704.0,711.7 L705.0,711.5 L706.0,711.3 L707.0,711.0 L708.0,710.7 L709.0,710.3 L710.0,709.9 L711.0,709.4 L712.0,708.9 L713.0,708.4 L714.0,707.8 L715.0,707.1 L716.0,706.5 L717.0,705.7 L718.0,704.1 L719.0,701.3 L720.0,698.0 L721.0,694.9 L722.0,692.4 L723.0,690.0 L724.0,687.7 L725.0,685.5 L726.0,683.2 L727.0,680.8 L728.0,678.3 L729.0,675.5 L730.0,672.5 L731.0,669.0 L732.0,665.1 L733.0,660.9 L734.0,656.6 L735.0,652.3 L736.0,648.1 L737.0,644.2 L738.0,640.4 L739.0,636.8 L740.0,633.2 L741.0,629.5 L742.0,625.5 L743.0,621.0 L744.0,615.9 L745.0,610.4 L746.0,605.1 L747.0,600.2 L748.0,596.2 L749.0,593.1 L750.0,594.1 L751.0,586.0 L752.0,584.2 L753.0,579.2 L754.0,583.1 L755.0,580.6 L756.0,572.7 L757.0,569.4 L758.0,568.4 L759.0,560.6 L760.0,559.8 L761.0,555.5 L762.0,559.1 L763.0,559.4 L764.0,556.2 L765.0,565.7 L766.0,571.3 L767.0,570.3 L768.0,575.0 L769.0,581.9 L770.0,580.2 L771.0,581.0 L772.0,587.6 L773.0,584.9 L774.0,591.9 L775.0,592.2 L776.0,597.3 L777.0,599.6 L778.0,596.3 L779.0,606.2 L780.0,605.4 L781.0,615.4 L782.0,618.5 L783.0,620.8 L784.0,627.6 L785.0,638.1 L786.0,639.4 L787.0,644.0 L788.0,648.1 L789.0,651.9 L790.0,655.4 L791.0,658.9 L792.0,662.7 L793.0,666.8 L794.0,672.2 L795.0,677.7 L796.0,681.4 L797.0,684.1 L798.0,686.3 L799.0,688.2 L800.0,689.8 L801.0,691.2 L802.0,692.4 L803.0,693.5 L804.0,694.6 L805.0,695.6 L806.0,696.6 L807.0,697.5 L808.0,698.4 L809.0,699.2 L810.0,700.0 L811.0,700.8 L812.0,701.5 L813.0,702.1 L814.0,702.8 L815.0,703.3 L816.0,703.9 L817.0,704.4 L818.0,704.9 L819.0,705.3 L820.0,705.7 L821.0,706.1 L822.0,706.5 L823.0,706.9 L824.0,707.2 L825.0,707.6 L826.0,708.0 L827.0,708.3 L828.0,708.7 L829.0,709.0 L830.0,709.3 L831.0,709.6 L832.0,709.9 L833.0,710.2 L834.0,710.5 L835.0,710.7 L836.0,710.9 L837.0,711.2 L838.0,711.3 L839.0,711.5 L840.0,711.7 L841.0,711.8 L842.0,711.9 L843.0,711.9 L844.0,712.0 L845.0,712.0" fill="none" stroke="#0000ff" stroke-width="5.0" stroke-linejoin="round" stroke-linecap="round" />
<path d="M218.0,934.6 L219.0,934.6 L220.0,934.6 L221.0,934.6 L222.0,934.6 L223.0,934.6 L224.0,934.6 L225.0,934.6 L226.0,934.6 L227.0,934.6 L228.0,934.6 L229.0,934.6 L230.0,934.6 L231.0,934.6 L232.0,934.6 L233.0,934.6 L234.0,934.6 L235.0,934.6 L236.0,934.6 L237.0,934.6 L238.0,934.6 L239.0,934.6 L240.0,934.6 L241.0,934.6 L242.0,934.6 L243.0,934.6 L244.0,934.6 L245.0,934.6 L246.0,934.6 L247.0,934.6 L248.0,934.6 L249.0,934.6 L250.0,934.6 L251.0,934.6 L252.0,934.6 L253.0,934.6 L254.0,934.6 L255.0,934.6 L256.0,934.6 L257.0,934.6 L258.0,934.6 L259.0,934.6 L260.0,934.6 L261.0,934.6 L262.0,934.6 L263.0,934.6 L264.0,934.6 L265.0,934.6 L266.0,934.6 L267.0,934.6 L268.0,934.6 L269.0,934.6 L270.0,934.6 L271.0,934.6 L272.0,934.6 L273.0,934.6 L274.0,934.6 L275.0,934.6 L276.0,934.6 L277.0,934.6 L278.0,934.6 L279.0,934.6 L280.0,934.6 L281.0,934.6 L282.0,934.6 L283.0,934.6 L284.0,934.6 L285.0,934.6 L286.0,934.6 L287.0,934.6 L288.0,934.6 L289.0,934.6 L290.0,934.6 L291.0,934.6 L292.0,934.6 L293.0,934.6 L294.0,934.6 L295.0,934.6 L296.0,934.6 L297.0,934.6 L298.0,934.6 L299.0,934.6 L300.0,934.6 L301.0,934.6 L302.0,934.6 L303.0,934.6 L304.0,934.6 L305.0,934.6 L306.0,934.6 L306.9,934.6 L307.9,934.6 L308.9,934.6 L309.9,934.6 L310.9,934.6 L311.9,934.6 L312.9,934.6 L313.9,934.6 L314.9,934.6 L315.9,934.6 L316.9,934.6 L317.9,934.6 L318.9,934.6 L319.9,934.6 L320.9,934.6 L321.9,934.6 L322.9,934.6 L323.9,934.6 L324.9,934.6 L325.9,934.6 L326.9,934.6 L327.9,934.6 L328.9,934.6 L329.9,934.6 L330.9,934.6 L331.9,934.6 L332.9,934.6 L333.9,934.6 L334.9,934.6 L335.9,934.6 L336.9,934.6 L337.9,934.6 L338.9,934.6 L339.9,934.6 L340.9,934.6 L341.9,934.6 L342.9,934.6 L343.9,934.6 L344.9,934.6 L345.9,934.6 L346.9,934.6 L347.9,934.6 L348.9,934.6 L349.9,934.6 L350.9,934.6 L351.9,934.6 L352.9,934.6 L353.9,934.6 L354.9,934.6 L355.9,934.6 L356.9,934.6 L357.9,934.6 L358.9,934.6 L359.9,934.6 L360.9,934.6 L361.9,934.6 L362.9,934.6 L363.9,934.6 L364.9,934.6 L365.9,934.6 L366.9,934.6 L367.9,934.6 L368.9,934.6 L369.9,934.6 L370.9,934.6 L371.9,934.6 L372.9,934.6 L373.9,934.6 L374.9,934.6 L375.9,934.6 L376.9,934.6 L377.9,934.6 L378.9,934.6 L379.9,934.6 L380.9,934.6 L381.9,934.6 L382.9,934.6 L383.9,934.6 L384.9,934.6 L385.9,934.6 L386.9,934.6 L387.9,934.6 L388.9,934.6 L389.9,934.6 L390.9,934.6 L391.9,934.6 L392.9,934.6 L393.9,934.6 L394.9,934.6 L395.9,934.6 L396.9,934.6 L397.9,934.6 L398.9,934.6 L399.9,934.6 L400.9,934.6 L401.9,934.6 L402.9,934.6 L403.9,934.6 L404.9,934.6 L405.9,934.6 L406.9,934.5 L407.9,934.5 L408.9,934.5 L409.9,934.4 L410.9,934.3 L411.9,934.2 L412.9,934.1 L413.9,934.0 L414.9,933.9 L415.9,933.8 L416.9,933.7 L417.9,933.6 L418.9,933.4 L419.9,933.3 L420.9,933.1 L421.9,933.0 L422.9,932.8 L423.9,932.6 L424.9,932.5 L425.9,932.3 L426.9,932.1 L427.9,932.0 L428.9,931.8 L429.9,931.6 L430.9,931.4 L431.9,931.3 L432.9,931.1 L433.9,930.9 L434.9,930.7 L435.9,930.6 L436.9,930.4 L437.9,930.2 L438.9,930.1 L439.9,929.9 L440.9,929.7 L441.9,929.6 L442.9,929.4 L443.9,929.3 L444.9,929.1 L445.9,928.9 L446.9,928.7 L447.9,928.6 L448.9,928.4 L449.9,928.2 L450.9,928.0 L451.9,927.9 L452.9,927.7 L453.9,927.5 L454.9,927.3 L455.9,927.1 L456.9,926.9 L457.9,926.7 L458.9,926.5 L459.9,926.3 L460.9,926.1 L461.9,925.9 L462.9,925.7 L463.9,925.5 L464.9,925.3 L465.9,925.1 L466.9,924.9 L467.9,924.7 L468.9,924.5 L469.9,924.3 L470.9,924.0 L471.9,923.8 L472.9,923.6 L473.9,923.4 L474.9,923.2 L475.9,922.9 L476.9,922.7 L477.9,922.5 L478.9,922.3 L479.9,922.0 L480.9,921.8 L481.9,921.6 L482.9,921.4 L483.9,921.1 L484.9,920.9 L485.8,920.7 L486.8,920.4 L487.8,920.2 L488.8,919.9 L489.8,919.7 L490.8,919.5 L491.8,919.2 L492.8,919.0 L493.8,918.7 L494.8,918.5 L495.8,918.2 L496.8,917.9 L497.8,917.7 L498.8,917.4 L499.8,917.1 L500.8,916.9 L501.8,916.6 L502.8,916.3 L503.8,916.0 L504.8,915.7 L505.8,915.4 L506.8,915.1 L507.8,914.8 L508.8,914.5 L509.8,914.2 L510.8,913.9 L511.8,913.5 L512.8,913.1 L513.8,912.7 L514.8,912.3 L515.8,911.8 L516.8,911.3 L517.8,910.8 L518.8,910.3 L519.8,909.8 L520.8,907.5 L521.8,910.6 L522.8,907.3 L523.8,909.0 L524.8,905.4 L525.8,908.5 L526.8,904.8 L527.8,905.1 L528.8,903.9 L529.8,903.0 L530.8,905.4 L531.8,904.7 L532.8,902.9 L533.8,904.3 L534.8,904.1 L535.8,904.0 L536.8,901.4 L537.8,901.2 L538.8,901.4 L539.8,903.6 L540.8,900.9 L541.8,902.5 L542.8,903.7 L543.8,902.9 L544.8,903.2 L545.8,904.6 L546.8,903.0 L547.8,903.9 L548.8,903.3 L549.8,902.2 L550.8,903.5 L551.8,904.6 L552.8,903.2 L553.8,902.9 L554.8,905.1 L555.8,903.6 L556.8,907.4 L557.8,907.1 L558.8,907.3 L559.8,904.6 L560.8,905.8 L561.8,905.9 L562.8,907.8 L563.8,907.4 L564.8,906.2 L565.8,909.5 L566.8,909.8 L567.8,910.4 L568.8,909.2 L569.8,908.2 L570.8,909.6 L571.8,910.5 L572.8,910.4 L573.8,911.9 L574.8,909.3 L575.8,911.7 L576.8,912.4 L577.8,912.2 L578.8,910.4 L579.8,912.3 L580.8,910.1 L581.8,912.3 L582.8,911.9 L583.8,913.2 L584.8,910.1 L585.8,910.5 L586.8,911.7 L587.8,913.1 L588.8,911.7 L589.8,912.1 L590.8,910.4 L591.8,910.0 L592.8,910.7 L593.8,912.4 L594.8,913.2 L595.8,909.4 L596.8,908.3 L597.8,910.1 L598.8,907.5 L599.8,906.3 L600.8,905.0 L601.8,903.8 L602.8,902.6 L603.8,901.4 L604.8,900.1 L605.8,898.7 L606.8,897.2 L607.8,895.6 L608.8,894.0 L609.8,892.3 L610.8,890.3 L611.8,887.9 L612.8,884.8 L613.8,880.1 L614.8,874.4 L615.8,868.2 L616.8,861.0 L617.8,853.1 L618.8,844.7 L619.8,836.0 L620.8,827.3 L621.8,818.8 L622.8,810.0 L623.8,799.6 L624.8,789.7 L625.8,782.8 L626.8,780.8 L627.8,780.4 L628.8,782.4 L629.8,787.1 L630.8,792.1 L631.8,796.3 L632.8,801.0 L633.8,805.4 L634.8,808.5 L635.8,809.0 L636.8,804.7 L637.8,797.7 L638.8,791.5 L639.8,784.7 L640.8,778.5 L641.8,775.6 L642.8,777.4 L643.8,781.7 L644.8,786.3 L645.8,791.2 L646.8,797.2 L647.8,805.9 L648.8,821.2 L649.8,838.2 L650.8,851.0 L651.8,862.2 L652.8,870.9 L653.8,876.4 L654.8,880.6 L655.8,884.1 L656.8,887.2 L657.8,890.3 L658.8,893.7 L659.8,897.8 L660.8,902.1 L661.8,906.3 L662.8,910.2 L663.7,913.2 L664.7,915.3 L665.7,917.0 L666.7,918.6 L667.7,919.9 L668.7,921.1 L669.7,922.0 L670.7,922.7 L671.7,923.1 L672.7,923.5 L673.7,923.8 L674.7,924.0 L675.7,924.2 L676.7,924.4 L677.7,924.6 L678.7,924.8 L679.7,924.9 L680.7,925.1 L681.7,925.2 L682.7,925.4 L683.7,925.6 L684.7,925.8 L685.7,926.0 L686.7,926.3 L687.7,926.7 L688.7,927.0 L689.7,927.4 L690.7,927.8 L691.7,928.1 L692.7,928.5 L693.7,928.9 L694.7,929.3 L695.7,929.6 L696.7,929.9 L697.7,930.2 L698.7,930.4 L699.7,930.6 L700.7,930.8 L701.7,930.9 L702.7,931.0 L703.7,931.2 L704.7,931.3 L705.7,931.4 L706.7,931.6 L707.7,931.7 L708.7,931.8 L709.7,931.9 L710.7,932.0 L711.7,932.2 L712.7,932.3 L713.7,932.4 L714.7,932.5 L715.7,932.6 L716.7,932.7 L717.7,932.8 L718.7,932.9 L719.7,933.0 L720.7,933.1 L721.7,933.2 L722.7,933.3 L723.7,933.4 L724.7,933.4 L725.7,933.5 L726.7,933.6 L727.7,933.7 L728.7,933.7 L729.7,933.8 L730.7,933.9 L731.7,934.0 L732.7,934.0 L733.7,934.1 L734.7,934.1 L735.7,934.2 L736.7,934.2 L737.7,934.3 L738.7,934.3 L739.7,934.4 L740.7,934.4 L741.7,934.4 L742.7,934.5 L743.7,934.5 L744.7,934.5 L745.7,934.5 L746.7,934.6 L747.7,934.6 L748.7,934.6 L749.7,934.6 L750.7,934.6 L751.7,934.6" fill="none" stroke="#ff8000" stroke-width="5.0" stroke-linejoin="round" stroke-linecap="round" />
<path d="M489.0,934.6 L490.0,934.6 L491.0,934.6 L492.0,934.6 L493.0,934.6 L494.0,934.6 L495.0,934.6 L496.0,934.6 L497.0,934.6 L498.0,934.6 L499.0,934.6 L500.0,934.6 L501.0,934.6 L502.0,934.6 L503.0,934.6 L504.0,934.6 L505.0,934.5 L506.0,934.5 L507.0,934.5 L508.0,934.5 L509.0,934.5 L510.0,934.5 L511.0,934.5 L512.0,934.5 L513.0,934.5 L514.0,934.5 L515.0,934.5 L516.0,934.5 L517.0,934.4 L518.0,934.4 L519.0,934.4 L520.0,934.4 L521.0,934.4 L522.0,934.4 L523.0,934.4 L524.0,934.4 L525.0,934.4 L526.0,934.3 L527.0,934.3 L528.0,934.3 L529.0,934.3 L530.0,934.3 L531.0,934.3 L532.0,934.3 L533.0,934.3 L534.0,934.2 L535.0,934.2 L536.0,934.2 L537.0,934.2 L538.0,934.2 L539.0,934.2 L540.0,934.1 L541.0,934.1 L542.0,934.1 L543.0,934.1 L544.0,934.1 L545.0,934.1 L546.0,934.1 L547.0,934.0 L548.0,934.0 L549.0,934.0 L550.0,934.0 L551.0,934.0 L552.0,934.0 L553.0,933.9 L554.0,933.9 L555.0,933.9 L556.0,933.9 L557.0,933.9 L558.0,933.8 L559.0,933.8 L560.0,933.8 L561.0,933.8 L562.0,933.8 L563.0,933.8 L564.0,933.7 L565.0,933.7 L566.0,933.7 L567.0,933.7 L568.0,933.6 L569.0,933.6 L570.0,933.6 L571.0,933.6 L572.0,933.5 L573.0,933.5 L574.0,933.5 L575.0,933.5 L576.0,933.4 L577.0,933.4 L578.0,933.4 L579.0,933.3 L580.0,933.3 L581.0,933.3 L582.0,933.2 L583.0,933.2 L584.0,933.2 L585.0,933.1 L586.0,933.1 L587.0,933.0 L588.0,933.0 L589.0,933.0 L590.0,932.9 L591.0,932.9 L592.0,932.8 L593.0,932.8 L594.0,932.8 L595.0,932.7 L596.0,932.7 L597.0,932.6 L598.0,932.6 L599.0,932.5 L600.0,932.5 L601.0,932.4 L602.0,932.4 L603.0,932.4 L604.0,932.3 L605.0,932.3 L606.0,932.2 L607.0,932.2 L608.0,932.1 L609.0,932.1 L610.0,932.0 L611.0,931.9 L612.0,931.9 L613.0,931.8 L614.0,931.8 L615.0,931.7 L616.0,931.7 L617.0,931.6 L618.0,931.6 L619.0,931.5 L620.0,931.5 L621.0,931.4 L622.0,931.3 L623.0,931.3 L624.0,931.2 L625.0,931.1 L626.0,931.1 L627.0,931.0 L628.0,930.9 L629.0,930.9 L630.0,930.8 L631.0,930.7 L632.0,930.6 L633.0,930.5 L634.0,930.5 L635.0,930.4 L636.0,930.3 L637.0,930.2 L638.0,930.1 L639.0,930.0 L640.0,929.9 L641.0,929.8 L642.0,929.7 L643.0,929.6 L644.0,929.5 L645.0,929.4 L646.0,929.3 L647.0,929.2 L648.0,929.1 L649.0,929.0 L650.0,928.9 L651.0,928.7 L652.0,928.6 L653.0,928.5 L654.0,928.4 L655.0,928.3 L656.0,928.1 L657.0,928.0 L658.0,927.9 L659.0,927.8 L660.0,927.6 L661.0,927.5 L662.0,927.3 L663.0,927.2 L664.0,927.0 L665.0,926.9 L666.0,926.7 L667.0,926.5 L668.0,926.3 L669.0,926.1 L670.0,926.0 L671.0,925.8 L672.0,925.6 L673.0,925.4 L674.0,925.2 L675.0,925.0 L676.0,924.8 L677.0,924.6 L678.0,924.4 L679.0,924.2 L680.0,924.1 L681.0,923.9 L682.0,923.7 L683.0,923.5 L684.0,923.3 L685.0,923.1 L686.0,922.9 L687.0,922.6 L688.0,922.4 L689.0,922.2 L690.0,922.0 L691.0,921.8 L692.0,921.6 L693.0,921.4 L694.0,921.2 L695.0,921.0 L696.0,920.8 L697.0,920.7 L698.0,920.5 L699.0,920.3 L700.0,920.1 L701.0,919.9 L702.0,919.7 L703.0,919.5 L704.0,919.4 L705.0,919.2 L706.0,919.0 L707.0,918.8 L708.0,918.6 L709.0,918.4 L710.0,918.2 L711.0,918.0 L712.0,917.8 L713.0,917.6 L714.0,917.4 L715.0,917.2 L716.0,917.0 L717.0,916.7 L718.0,916.5 L719.0,916.3 L720.0,916.0 L721.0,915.8 L722.0,915.5 L723.0,915.2 L724.0,915.0 L725.0,914.7 L726.0,914.4 L727.0,914.1 L728.0,913.8 L729.0,913.5 L730.0,913.2 L731.0,912.9 L732.0,912.6 L733.0,912.3 L734.0,911.9 L735.0,911.6 L736.0,911.2 L737.0,910.8 L738.0,910.4 L739.0,910.0 L740.0,909.6 L741.0,909.2 L742.0,908.8 L743.0,908.4 L744.0,907.9 L745.0,907.5 L746.0,907.0 L747.0,906.5 L748.0,906.0 L749.0,905.5 L750.0,904.9 L751.0,904.2 L752.0,903.5 L753.0,902.8 L754.0,901.9 L755.0,901.0 L756.0,900.0 L757.0,898.7 L758.0,897.1 L759.0,895.1 L760.0,893.0 L761.0,890.6 L762.0,888.0 L763.0,885.3 L764.0,882.1 L765.0,878.3 L766.0,874.2 L767.0,869.9 L768.0,865.5 L769.0,861.2 L770.0,857.1 L771.0,853.2 L772.0,849.3 L773.0,845.4 L774.0,841.5 L775.0,837.4 L776.0,833.2 L777.0,828.8 L778.0,823.5 L779.0,817.7 L780.0,812.0 L781.0,806.9 L782.0,803.0 L783.0,800.3 L784.0,798.9 L785.0,795.7 L786.0,794.4 L787.0,793.0 L788.0,793.0 L789.0,794.6 L790.0,804.7 L791.0,808.7 L792.0,817.1 L793.0,812.9 L794.0,807.0 L795.0,800.8 L796.0,788.2 L797.0,785.3 L798.0,778.5 L799.0,776.8 L800.0,779.9 L801.0,776.8 L802.0,776.8 L803.0,777.5 L804.0,787.5 L805.0,791.1 L806.0,797.5 L807.0,807.2 L808.0,813.5 L809.0,818.2 L810.0,823.8 L811.0,824.5 L812.0,832.1 L813.0,835.2 L814.0,836.7 L815.0,837.4 L816.0,845.9 L817.0,851.6 L818.0,848.3 L819.0,853.4 L820.0,857.6 L821.0,863.3 L822.0,868.7 L823.0,872.2 L824.0,873.8 L825.0,875.3 L826.0,880.9 L827.0,878.3 L828.0,880.3 L829.0,888.1 L830.0,883.6 L831.0,888.2 L832.0,886.6 L833.0,891.8 L834.0,890.9 L835.0,895.0 L836.0,896.1 L837.0,897.5 L838.0,898.9 L839.0,900.2 L840.0,901.5 L841.0,902.8 L842.0,904.0 L843.0,905.2 L844.0,906.3 L845.0,907.3 L846.0,908.2 L847.0,909.0 L848.0,909.8 L849.0,910.5 L850.0,911.2 L851.0,911.9 L852.0,912.5 L853.0,913.1 L854.0,913.7 L855.0,914.2 L856.0,914.7 L857.0,915.1 L858.0,915.4 L859.0,915.7 L860.0,915.9 L861.0,916.0 L862.0,916.2 L863.0,916.3 L864.0,916.5 L865.0,916.6 L866.0,916.7 L867.0,916.8 L868.0,916.9 L869.0,917.0 L870.0,917.1 L871.0,917.2 L872.0,917.2 L873.0,917.3 L874.0,917.3 L875.0,917.3 L876.0,917.3 L877.0,917.3 L878.0,917.3 L879.0,917.3 L880.0,917.3 L881.0,917.3 L882.0,917.3 L883.0,917.3 L884.0,917.3 L885.0,917.3 L886.0,917.3 L887.0,917.3 L888.0,917.3 L889.0,917.3 L890.0,917.3 L891.0,917.3 L892.0,917.3 L893.0,917.3 L894.0,917.2 L895.0,917.2 L896.0,917.1 L897.0,917.0 L898.0,916.9 L899.0,916.8 L900.0,916.6 L901.0,916.5 L902.0,916.3 L903.0,916.2 L904.0,916.0 L905.0,915.8 L906.0,915.6 L907.0,915.4 L908.0,915.3 L909.0,915.1 L910.0,914.9 L911.0,914.7 L912.0,914.5 L913.0,914.3 L914.0,914.2 L915.0,914.0 L916.0,913.8 L917.0,913.7 L918.0,913.6 L919.0,913.4 L920.0,913.3 L921.0,913.2 L922.0,913.2 L923.0,913.1 L924.0,913.1 L925.0,913.1 L926.0,913.1 L927.0,913.1 L928.0,913.1 L929.0,913.1 L930.0,913.1 L931.0,913.2 L932.0,913.2 L933.0,913.3 L934.0,913.3 L935.0,913.4 L936.0,913.5 L937.0,913.5 L938.0,913.6 L939.0,913.7 L940.0,913.8 L941.0,913.9 L942.0,914.0 L943.0,914.1 L944.0,914.2 L945.0,914.3 L946.0,914.4 L947.0,914.5 L948.0,914.6 L949.0,914.7 L950.0,914.8 L951.0,914.9 L952.0,915.0 L953.0,915.1 L954.0,915.2 L955.0,915.3 L956.0,915.4 L957.0,915.5 L958.0,915.6 L959.0,915.6 L960.0,915.7 L961.0,915.8 L962.0,915.9 L963.0,916.0 L964.0,916.0 L965.0,916.1 L966.0,916.2 L967.0,916.3 L968.0,916.3 L969.0,916.4 L970.0,916.5 L971.0,916.6 L972.0,916.6 L973.0,916.7 L974.0,916.8 L975.0,916.9 L976.0,917.0 L977.0,917.0 L978.0,917.1 L979.0,917.2 L980.0,917.3 L981.0,917.3 L982.0,917.4 L983.0,917.5 L984.0,917.6 L985.0,917.7 L986.0,917.7 L987.0,917.8 L988.0,917.9 L989.0,918.0 L990.0,918.0 L991.0,918.1 L992.0,918.2 L993.0,918.3 L994.0,918.4 L995.0,918.5 L996.0,918.5 L997.0,918.6 L998.0,918.7 L999.0,918.8 L1000.0,918.9 L1001.0,919.0 L1002.0,919.0 L1003.0,919.1 L1004.0,919.2 L1005.0,919.3 L1006.0,919.4 L1007.0,919.5 L1008.0,919.6 L1009.0,919.7 L1010.0,919.7 L1011.0,919.8 L1012.0,919.9 L1013.0,920.0 L1014.0,920.1 L1015.0,920.2 L1016.0,920.3 L1017.0,920.4 L1018.0,920.5 L1019.0,920.6 L1020.0,920.7 L1021.0,920.8 L1022.0,920.8 L1023.0,920.9 L1024.0,921.0 L1025.0,921.1 L1026.0,921.2" fill="none" stroke="#ff8000" stroke-width="5.0" stroke-linejoin="round" stroke-linecap="round" />
<path d="M217.0,1157.3 L217.5,1157.3 L218.0,1157.3 L218.5,1157.3 L219.0,1157.3 L219.5,1157.3 L220.0,1157.3 L220.5,1157.3 L221.0,1157.3 L221.5,1157.3 L222.0,1157.3 L222.5,1157.3 L223.0,1157.3 L223.5,1157.3 L224.0,1157.3 L224.5,1157.3 L225.0,1157.3 L225.5,1157.3 L226.0,1157.3 L226.5,1157.3 L227.0,1157.3 L227.5,1157.3 L228.0,1157.3 L228.5,1157.3 L229.0,1157.3 L229.5,1157.3 L230.0,1157.3 L230.5,1157.3 L231.0,1157.3 L231.5,1157.3 L232.0,1157.3 L232.5,1157.3 L233.0,1157.3 L233.5,1157.3 L234.0,1157.3 L234.5,1157.3 L235.0,1157.3 L235.5,1157.3 L236.0,1157.3 L236.5,1157.3 L237.0,1157.3 L237.5,1157.3 L238.0,1157.3 L238.5,1157.3 L239.0,1157.3 L239.5,1157.3 L240.0,1157.3 L240.5,1157.3 L241.0,1157.3 L241.5,1157.3 L242.0,1157.3 L242.5,1157.3 L243.0,1157.3 L243.5,1157.3 L244.0,1157.3 L244.5,1157.3 L245.0,1157.3 L245.5,1157.3 L246.0,1157.3 L246.5,1157.3 L247.0,1157.3 L247.5,1157.3 L248.0,1157.3 L248.5,1157.3 L249.0,1157.3 L249.5,1157.3 L250.0,1157.3 L250.5,1157.3 L251.0,1157.3 L251.5,1157.3 L252.0,1157.3 L252.5,1157.3 L253.0,1157.3 L253.5,1157.3 L254.0,1157.3 L254.5,1157.3 L255.0,1157.3 L255.5,1157.3 L256.0,1157.3 L256.5,1157.3 L257.0,1157.3 L257.5,1157.3 L258.0,1157.3 L258.5,1157.3 L259.0,1157.3 L259.5,1157.3 L260.0,1157.3 L260.5,1157.3 L261.0,1157.3 L261.5,1157.3 L262.0,1157.3 L262.5,1157.3 L263.0,1157.3 L263.5,1157.3 L264.0,1157.3 L264.5,1157.3 L265.0,1157.3 L265.5,1157.3 L266.0,1157.3 L266.5,1157.3 L267.0,1157.3 L267.5,1157.3 L268.0,1157.3 L268.5,1157.3 L269.0,1157.3 L269.5,1157.3 L270.0,1157.3 L270.5,1157.3 L271.0,1157.3 L271.5,1157.3 L272.0,1157.3 L272.5,1157.3 L273.0,1157.3 L273.5,1157.3 L274.0,1157.3 L274.5,1157.3 L275.0,1157.3 L275.5,1157.3 L276.0,1157.3 L276.5,1157.3 L277.0,1157.3 L277.5,1157.3 L278.0,1157.3 L278.5,1157.3 L279.0,1157.3 L279.5,1157.3 L280.0,1157.3 L280.5,1157.3 L281.0,1157.3 L281.5,1157.3 L282.0,1157.3 L282.5,1157.3 L283.0,1157.3 L283.5,1157.3 L284.0,1157.3 L284.5,1157.3 L285.0,1157.3 L285.5,1157.3 L286.0,1157.3 L286.5,1157.3 L287.0,1157.3 L287.5,1157.3 L288.0,1157.3 L288.5,1157.3 L289.0,1157.3 L289.5,1157.3 L290.0,1157.3 L290.5,1157.3 L291.0,1157.3 L291.5,1157.3 L292.0,1157.3 L292.5,1157.3 L293.0,1157.3 L293.5,1157.3 L294.0,1157.3 L294.5,1157.3 L295.0,1157.3 L295.5,1157.3 L296.0,1157.3 L296.5,1157.3 L297.0,1157.3 L297.5,1157.3 L298.0,1157.3 L298.5,1157.3 L299.0,1157.3 L299.5,1157.3 L300.0,1157.3 L300.5,1157.3 L301.0,1157.3 L301.5,1157.3 L302.0,1157.3 L302.5,1157.3 L303.0,1157.3 L303.5,1157.3 L304.0,1157.3 L304.5,1157.3 L305.0,1157.3 L305.5,1157.3 L306.0,1157.3 L306.5,1157.3 L307.0,1157.3 L307.5,1157.3 L308.0,1157.3 L308.5,1157.3 L309.0,1157.3 L309.5,1157.3 L310.0,1157.3 L310.5,1157.3 L311.0,1157.3 L311.5,1157.3 L312.0,1157.3 L312.5,1157.3 L313.0,1157.3 L313.5,1157.3 L314.0,1157.3 L314.5,1157.3 L315.0,1157.3 L315.5,1157.3 L316.0,1157.3 L316.5,1157.3 L317.0,1157.3 L317.5,1157.3 L318.0,1157.3 L318.5,1157.3 L319.0,1157.3 L319.5,1157.3 L320.0,1157.3 L320.5,1157.3 L321.0,1157.3 L321.5,1157.3 L322.0,1157.3 L322.5,1157.3 L323.0,1157.3 L323.5,1157.3 L324.0,1157.3 L324.5,1157.3 L325.0,1157.3 L325.5,1157.3 L326.0,1157.3 L326.5,1157.3 L327.0,1157.3 L327.5,1157.3 L328.0,1157.3 L328.5,1157.3 L329.0,1157.3 L329.5,1157.3 L330.0,1157.3 L330.5,1157.3 L331.0,1157.3 L331.5,1157.3 L332.0,1157.3 L332.5,1157.3 L333.0,1157.3 L333.5,1157.3 L334.0,1157.3 L334.5,1157.3 L335.0,1157.3 L335.5,1157.3 L336.0,1157.3 L336.5,1157.3 L337.0,1157.3 L337.5,1157.3 L338.0,1157.3 L338.5,1157.3 L339.0,1157.3 L339.5,1157.3 L340.0,1157.3 L340.5,1157.3 L341.0,1157.3 L341.5,1157.3 L342.0,1157.3 L342.5,1157.3 L343.0,1157.3 L343.5,1157.3 L344.0,1157.3 L344.5,1157.3 L345.0,1157.3 L345.5,1157.3 L346.0,1157.3 L346.5,1157.3 L347.0,1157.3 L347.5,1157.3 L348.0,1157.3 L348.5,1157.3 L349.0,1157.3 L349.5,1157.3 L350.0,1157.3 L350.5,1157.3 L351.0,1157.3 L351.5,1157.3 L352.0,1157.3 L352.5,1157.3 L353.0,1157.3 L353.5,1157.3 L354.0,1157.3 L354.5,1157.3 L355.0,1157.3 L355.5,1157.3 L356.0,1157.3 L356.5,1157.3 L357.0,1157.3 L357.5,1157.3 L358.0,1157.3 L358.5,1157.3 L359.0,1157.3 L359.5,1157.3 L360.0,1157.3 L360.5,1157.3 L361.0,1157.3 L361.5,1157.3 L362.0,1157.3 L362.5,1157.3 L363.0,1157.3 L363.5,1157.3 L364.0,1157.3 L364.5,1157.3 L365.0,1157.3 L365.5,1157.3 L366.0,1157.3 L366.5,1157.3 L367.0,1157.3 L367.5,1157.3 L368.0,1157.3 L368.5,1157.3 L369.0,1157.3 L369.5,1157.3 L370.0,1157.3 L370.5,1157.3 L371.0,1157.3 L371.5,1157.3 L372.0,1157.3 L372.5,1157.3 L373.0,1157.3 L373.5,1157.3 L374.0,1157.3 L374.5,1157.3 L375.0,1157.3 L375.5,1157.3 L376.0,1157.3 L376.5,1157.3 L377.0,1157.3 L377.5,1157.3 L378.0,1157.3 L378.5,1157.3 L379.0,1157.3 L379.5,1157.3 L380.0,1157.3 L380.5,1157.3 L381.0,1157.3 L381.5,1157.3 L382.0,1157.3 L382.5,1157.3 L383.0,1157.3 L383.5,1157.3 L384.0,1157.3 L384.5,1157.3 L385.0,1157.3 L385.5,1157.3 L386.0,1157.3 L386.5,1157.3 L387.0,1157.3 L387.5,1157.3 L388.0,1157.3 L388.5,1157.3 L389.0,1157.3 L389.5,1157.3 L390.0,1157.3 L390.5,1157.3 L391.0,1157.3 L391.5,1157.3 L392.0,1157.3 L392.5,1157.3 L393.0,1157.3 L393.5,1157.3 L394.0,1157.3 L394.5,1157.3 L395.0,1157.3 L395.5,1157.3 L396.0,1157.3 L396.5,1157.3 L397.0,1157.3 L397.5,1157.3 L398.0,1157.3 L398.5,1157.3 L399.0,1157.3 L399.5,1157.3 L400.0,1157.3 L400.5,1157.3 L401.0,1157.3 L401.5,1157.3 L402.0,1157.3 L402.5,1157.3 L403.0,1157.3 L403.5,1157.3 L404.0,1157.3 L404.5,1157.3 L405.0,1157.3 L405.5,1157.3 L406.0,1157.3 L406.5,1157.3 L407.0,1157.3 L407.5,1157.3 L408.0,1157.3 L408.5,1157.3 L409.0,1157.3 L409.5,1157.3 L410.0,1157.3 L410.5,1157.3 L411.0,1157.3 L411.5,1157.3 L412.0,1157.3 L412.5,1157.3 L413.0,1157.3 L413.5,1157.3 L414.0,1157.3 L414.5,1157.3 L415.0,1157.3 L415.5,1157.3 L416.0,1157.3 L416.5,1157.3 L417.0,1157.3 L417.5,1157.3 L418.0,1157.3 L418.5,1157.3 L419.0,1157.3 L419.5,1157.3 L420.0,1157.3 L420.5,1157.3 L421.0,1157.3 L421.5,1157.3 L422.0,1157.3 L422.5,1157.3 L423.0,1157.3 L423.5,1157.3 L424.0,1157.3 L424.5,1157.3 L425.0,1157.3 L425.5,1157.3 L426.0,1157.3 L426.5,1157.3 L427.0,1157.3 L427.5,1157.3 L428.0,1157.3 L428.5,1157.3 L429.0,1157.3 L429.5,1157.3 L430.0,1157.3 L430.5,1157.3 L431.0,1157.3 L431.5,1157.3 L432.0,1157.3 L432.5,1157.3 L433.0,1157.3 L433.5,1157.3 L434.0,1157.3 L434.5,1157.3 L435.0,1157.3 L435.5,1157.3 L436.0,1157.3 L436.5,1157.3 L437.0,1157.3 L437.5,1157.3 L438.0,1157.3 L438.5,1157.3 L439.0,1157.3 L439.5,1157.3 L440.0,1157.3 L440.5,1157.3 L441.0,1157.3 L441.5,1157.3 L442.0,1157.3 L442.5,1157.3 L443.0,1157.3 L443.5,1157.3 L444.0,1157.3 L444.5,1157.3 L445.0,1157.3 L445.5,1157.3 L446.0,1157.3 L446.5,1157.3 L447.0,1157.3 L447.5,1157.3 L448.0,1157.3 L448.5,1157.3 L449.0,1157.3 L449.5,1157.3 L450.0,1157.3 L450.5,1157.3 L451.0,1157.3 L451.5,1157.3 L452.0,1157.3 L452.5,1157.3 L453.0,1157.3 L453.5,1157.3 L454.0,1157.3 L454.5,1157.3 L455.0,1157.3 L455.5,1157.3 L456.0,1157.3 L456.5,1157.3 L457.0,1157.3 L457.5,1157.3 L458.0,1157.3 L458.5,1157.3 L459.0,1157.3 L459.5,1157.3 L460.0,1157.3 L460.5,1157.3 L461.0,1157.3 L461.5,1157.3 L462.0,1157.3 L462.5,1157.3 L463.0,1157.3 L463.5,1157.3 L464.0,1157.3 L464.5,1157.3 L465.0,1157.3 L465.5,1157.3 L466.0,1157.3 L466.5,1157.3 L467.0,1157.3 L467.5,1157.3 L468.0,1157.3 L468.5,1157.3 L469.0,1157.3 L469.5,1157.3 L470.0,1157.3 L470.5,1157.3 L471.0,1157.3 L471.5,1157.3 L472.0,1157.3 L472.5,1157.3 L473.0,1157.3 L473.5,1157.3 L474.0,1157.3 L474.5,1157.3 L475.0,1157.3 L475.5,1157.3 L476.0,1157.3 L476.5,1157.3 L477.0,1157.3 L477.5,1157.3 L478.0,1157.3 L478.5,1157.3 L479.0,1157.3 L479.5,1157.3 L480.0,1157.3 L480.5,1157.3 L481.0,1157.3 L481.5,1157.3 L482.0,1157.3 L482.5,1157.3 L483.0,1157.3 L483.5,1157.3 L484.0,1157.3 L484.5,1157.3 L485.0,1157.3 L485.5,1157.3 L486.0,1157.3 L486.5,1157.3 L487.0,1157.3 L487.5,1157.3 L488.0,1157.3 L488.5,1157.3 L489.0,1157.3 L489.5,1157.3 L490.0,1157.3 L490.5,1157.3 L491.0,1157.3 L491.5,1157.3 L492.0,1157.3 L492.5,1157.3 L493.0,1157.3 L493.5,1157.3 L494.0,1157.3 L494.5,1157.3 L495.0,1157.3 L495.5,1157.3 L496.0,1157.3 L496.5,1157.3 L497.0,1157.3 L497.5,1157.3 L498.0,1157.3 L498.5,1157.3 L499.0,1157.3 L499.5,1157.3 L500.0,1157.3 L500.5,1157.3 L501.0,1157.3 L501.5,1157.3 L502.0,1157.3 L502.5,1157.3 L503.0,1157.3 L503.5,1157.3 L504.0,1157.3 L504.5,1157.3 L505.0,1157.3 L505.5,1157.3 L506.0,1157.3 L506.5,1157.3 L507.0,1157.3 L507.5,1157.3 L508.0,1157.3 L508.5,1157.3 L509.0,1157.3 L509.5,1157.3 L510.0,1157.3 L510.5,1157.3 L511.0,1157.3 L511.5,1157.3 L512.0,1157.3 L512.5,1157.3 L513.0,1157.3 L513.5,1157.3 L514.0,1157.3 L514.5,1157.3 L515.0,1157.3 L515.5,1157.3 L516.0,1157.3 L516.5,1157.3 L517.0,1157.3 L517.5,1157.3 L518.0,1157.3 L518.5,1157.3 L519.0,1157.3 L519.5,1157.3 L520.0,1157.3 L520.5,1157.3 L521.0,1157.3 L521.5,1157.3 L522.0,1157.3 L522.5,1157.3 L523.0,1157.3 L523.5,1157.3 L524.0,1157.3 L524.5,1157.3 L525.0,1157.3 L525.5,1157.3 L526.0,1157.3 L526.5,1157.3 L527.0,1157.3 L527.5,1157.3 L528.0,1157.3 L528.5,1157.3 L529.0,1157.3 L529.5,1157.3 L530.0,1157.3 L530.5,1157.3 L531.0,1157.3 L531.5,1157.3 L532.0,1157.3 L532.5,1157.3 L533.0,1157.3 L533.5,1157.3 L534.0,1157.3 L534.5,1157.3 L535.0,1157.3 L535.5,1157.3 L536.0,1157.3 L536.5,1157.3 L537.0,1157.3 L537.5,1157.3 L538.0,1157.3 L538.5,1157.3 L539.0,1157.3 L539.5,1157.3 L540.0,1157.3 L540.5,1157.2 L541.0,1157.2 L541.5,1157.2 L542.0,1157.2 L542.5,1157.2 L543.0,1157.2 L543.5,1157.2 L544.0,1157.2 L544.5,1157.2 L545.0,1157.2 L545.5,1157.2 L546.0,1157.2 L546.5,1157.2 L547.0,1157.2 L547.5,1157.2 L548.0,1157.1 L548.5,1157.1 L549.0,1157.1 L549.5,1157.1 L550.0,1157.1 L550.5,1157.1 L551.0,1157.1 L551.5,1157.1 L552.0,1157.1 L552.5,1157.1 L553.0,1157.0 L553.5,1157.0 L554.0,1157.0 L554.5,1157.0 L555.0,1157.0 L555.5,1157.0 L556.0,1157.0 L556.5,1157.0 L557.0,1156.9 L557.5,1156.9 L558.0,1156.9 L558.5,1156.9 L559.0,1156.9 L559.5,1156.9 L560.0,1156.9 L560.5,1156.9 L561.0,1156.8 L561.5,1156.8 L562.0,1156.8 L562.5,1156.8 L563.0,1156.8 L563.5,1156.8 L564.0,1156.8 L564.5,1156.7 L565.0,1156.7 L565.5,1156.7 L566.0,1156.7 L566.5,1156.7 L567.0,1156.7 L567.5,1156.6 L568.0,1156.6 L568.5,1156.6 L569.0,1156.6 L569.5,1156.6 L570.0,1156.6 L570.5,1156.5 L571.0,1156.5 L571.5,1156.5 L572.0,1156.5 L572.5,1156.5 L573.0,1156.5 L573.5,1156.4 L574.0,1156.4 L574.5,1156.4 L575.0,1156.4 L575.5,1156.4 L576.0,1156.3 L576.5,1156.3 L577.0,1156.3 L577.5,1156.3 L578.0,1156.3 L578.5,1156.2 L579.0,1156.2 L579.5,1156.2 L580.0,1156.2 L580.5,1156.2 L581.0,1156.2 L581.5,1156.1 L582.0,1156.1 L582.5,1156.1 L583.0,1156.1 L583.5,1156.1 L584.0,1156.0 L584.5,1156.0 L585.0,1156.0 L585.5,1156.0 L586.0,1155.9 L586.5,1155.9 L587.0,1155.9 L587.5,1155.9 L588.0,1155.9 L588.5,1155.8 L589.0,1155.8 L589.5,1155.8 L590.0,1155.8 L590.5,1155.8 L591.0,1155.7 L591.5,1155.7 L592.0,1155.7 L592.5,1155.7 L593.0,1155.7 L593.5,1155.6 L594.0,1155.6 L594.5,1155.6 L595.0,1155.6 L595.5,1155.5 L596.0,1155.5 L596.5,1155.5 L597.0,1155.5 L597.5,1155.5 L598.0,1155.4 L598.5,1155.4 L599.0,1155.4 L599.5,1155.4 L600.0,1155.3 L600.5,1155.3 L601.0,1155.3 L601.5,1155.3 L602.0,1155.3 L602.5,1155.2 L603.0,1155.2 L603.5,1155.2 L604.0,1155.2 L604.5,1155.1 L605.0,1155.1 L605.5,1155.1 L606.0,1155.1 L606.5,1155.1 L607.0,1155.0 L607.5,1155.0 L608.0,1155.0 L608.5,1155.0 L609.0,1154.9 L609.5,1154.9 L610.0,1154.9 L610.5,1154.9 L611.0,1154.8 L611.5,1154.8 L612.0,1154.8 L612.5,1154.8 L613.0,1154.8 L613.5,1154.7 L614.0,1154.7 L614.5,1154.7 L615.0,1154.7 L615.5,1154.6 L616.0,1154.6 L616.5,1154.6 L617.0,1154.6 L617.5,1154.6 L618.0,1154.5 L618.5,1154.5 L619.0,1154.5 L619.5,1154.5 L620.0,1154.4 L620.5,1154.4 L621.0,1154.4 L621.5,1154.4 L622.0,1154.3 L622.5,1154.3 L623.0,1154.3 L623.5,1154.3 L624.0,1154.2 L624.5,1154.2 L625.0,1154.2 L625.5,1154.2 L626.0,1154.1 L626.5,1154.1 L627.0,1154.1 L627.5,1154.1 L628.0,1154.0 L628.5,1154.0 L629.0,1154.0 L629.5,1154.0 L630.0,1153.9 L630.5,1153.9 L631.0,1153.9 L631.5,1153.9 L632.0,1153.8 L632.5,1153.8 L633.0,1153.8 L633.5,1153.7 L634.0,1153.7 L634.5,1153.7 L635.0,1153.7 L635.5,1153.6 L636.0,1153.6 L636.5,1153.6 L637.0,1153.5 L637.5,1153.5 L638.0,1153.5 L638.5,1153.5 L639.0,1153.4 L639.5,1153.4 L640.0,1153.4 L640.5,1153.3 L641.0,1153.3 L641.5,1153.3 L642.0,1153.2 L642.5,1153.2 L643.0,1153.2 L643.5,1153.2 L644.0,1153.1 L644.5,1153.1 L645.0,1153.1 L645.5,1153.0 L646.0,1153.0 L646.5,1153.0 L647.0,1152.9 L647.5,1152.9 L648.0,1152.9 L648.5,1152.8 L649.0,1152.8 L649.5,1152.8 L650.0,1152.7 L650.5,1152.7 L651.0,1152.7 L651.5,1152.6 L652.0,1152.6 L652.5,1152.6 L653.0,1152.5 L653.5,1152.5 L654.0,1152.4 L654.5,1152.4 L655.0,1152.4 L655.5,1152.3 L656.0,1152.3 L656.5,1152.3 L657.0,1152.2 L657.5,1152.2 L658.0,1152.2 L658.5,1152.1 L659.0,1152.1 L659.5,1152.0 L660.0,1152.0 L660.5,1152.0 L661.0,1151.9 L661.5,1151.9 L662.0,1151.8 L662.5,1151.8 L663.0,1151.8 L663.5,1151.7 L664.0,1151.7 L664.5,1151.7 L665.0,1151.6 L665.5,1151.6 L666.0,1151.5 L666.5,1151.5 L667.0,1151.5 L667.5,1151.4 L668.0,1151.4 L668.5,1151.3 L669.0,1151.3 L669.5,1151.2 L670.0,1151.2 L670.5,1151.2 L671.0,1151.1 L671.5,1151.1 L672.0,1151.0 L672.5,1151.0 L673.0,1150.9 L673.5,1150.9 L674.0,1150.9 L674.5,1150.8 L675.0,1150.8 L675.5,1150.7 L676.0,1150.7 L676.5,1150.6 L677.0,1150.6 L677.5,1150.5 L678.0,1150.5 L678.5,1150.5 L679.0,1150.4 L679.5,1150.4 L680.0,1150.3 L680.5,1150.3 L681.0,1150.2 L681.5,1150.2 L682.0,1150.1 L682.5,1150.1 L683.0,1150.0 L683.5,1150.0 L684.0,1149.9 L684.5,1149.9 L685.0,1149.8 L685.5,1149.8 L686.0,1149.7 L686.5,1149.7 L687.0,1149.6 L687.5,1149.6 L688.0,1149.5 L688.5,1149.5 L689.0,1149.4 L689.5,1149.4 L690.0,1149.3 L690.5,1149.3 L691.0,1149.2 L691.5,1149.2 L692.0,1149.1 L692.5,1149.1 L693.0,1149.0 L693.5,1149.0 L694.0,1148.9 L694.5,1148.9 L695.0,1148.8 L695.5,1148.8 L696.0,1148.7 L696.5,1148.7 L697.0,1148.6 L697.5,1148.5 L698.0,1148.5 L698.5,1148.4 L699.0,1148.4 L699.5,1148.3 L700.0,1148.3 L700.5,1148.2 L701.0,1148.2 L701.5,1148.1 L702.0,1148.0 L702.5,1148.0 L703.0,1147.9 L703.5,1147.9 L704.0,1147.8 L704.5,1147.7 L705.0,1147.7 L705.5,1147.6 L706.0,1147.5 L706.5,1147.4 L707.0,1147.4 L707.5,1147.3 L708.0,1147.2 L708.5,1147.2 L709.0,1147.1 L709.5,1147.0 L710.0,1146.9 L710.5,1146.8 L711.0,1146.8 L711.5,1146.7 L712.0,1146.6 L712.5,1146.5 L713.0,1146.4 L713.5,1146.3 L714.0,1146.3 L714.5,1146.2 L715.0,1146.1 L715.5,1146.0 L716.0,1145.9 L716.5,1145.8 L717.0,1145.7 L717.5,1145.6 L718.0,1145.5 L718.5,1145.4 L719.0,1145.3 L719.5,1145.2 L720.0,1145.2 L720.5,1145.1 L721.0,1145.0 L721.5,1144.9 L722.0,1144.8 L722.5,1144.7 L723.0,1144.6 L723.5,1144.5 L724.0,1144.4 L724.5,1144.3 L725.0,1144.2 L725.5,1144.1 L726.0,1144.0 L726.5,1143.9 L727.0,1143.8 L727.5,1143.7 L728.0,1143.6 L728.5,1143.5 L729.0,1143.3 L729.5,1143.2 L730.0,1143.1 L730.5,1143.0 L731.0,1142.9 L731.5,1142.8 L732.0,1142.7 L732.5,1142.6 L733.0,1142.5 L733.5,1142.4 L734.0,1142.3 L734.5,1142.2 L735.0,1142.1 L735.5,1142.0 L736.0,1141.9 L736.5,1141.8 L737.0,1141.7 L737.5,1141.6 L738.0,1141.5 L738.5,1141.4 L739.0,1141.2 L739.5,1141.1 L740.0,1141.0 L740.5,1140.9 L741.0,1140.8 L741.5,1140.7 L742.0,1140.5 L742.5,1140.4 L743.0,1140.3 L743.5,1140.2 L744.0,1140.0 L744.5,1139.9 L745.0,1139.8 L745.5,1139.6 L746.0,1139.5 L746.5,1139.3 L747.0,1139.2 L747.5,1139.0 L748.0,1138.9 L748.5,1138.7 L749.0,1138.6 L749.5,1138.4 L750.0,1138.2 L750.5,1138.1 L751.0,1137.9 L751.5,1137.7 L752.0,1137.5 L752.5,1137.3 L753.0,1137.1 L753.5,1136.9 L754.0,1136.7 L754.5,1136.5 L755.0,1136.2 L755.5,1136.0 L756.0,1135.7 L756.5,1135.4 L757.0,1135.1 L757.5,1134.9 L758.0,1134.5 L758.5,1134.2 L759.0,1133.9 L759.5,1133.6 L760.0,1133.2 L760.5,1132.9 L761.0,1132.5 L761.5,1132.1 L762.0,1131.7 L762.5,1131.3 L763.0,1130.8 L763.5,1130.3 L764.0,1129.8 L764.5,1129.3 L765.0,1128.8 L765.5,1128.2 L766.0,1127.6 L766.5,1127.0 L767.0,1126.4 L767.5,1125.7 L768.0,1125.0 L768.5,1124.3 L769.0,1123.5 L769.5,1122.6 L770.0,1121.7 L770.5,1120.8 L771.0,1119.8 L771.5,1118.8 L772.0,1117.8 L772.5,1116.7 L773.0,1115.5 L773.5,1114.3 L774.0,1113.1 L774.5,1111.8 L775.0,1110.5 L775.5,1109.0 L776.0,1107.4 L776.5,1105.7 L777.0,1103.8 L777.5,1101.9 L778.0,1099.9 L778.5,1097.9 L779.0,1095.9 L779.5,1093.8 L780.0,1091.8 L780.5,1089.9 L781.0,1088.0 L781.5,1086.2 L782.0,1084.5 L782.5,1082.9 L783.0,1081.3 L783.5,1079.7 L784.0,1078.0 L784.5,1076.3 L785.0,1074.4 L785.5,1072.3 L786.0,1069.5 L786.5,1060.7 L787.0,1054.3 L787.5,1064.7 L788.0,1049.1 L788.5,1045.1 L789.0,1041.1 L789.5,1049.4 L790.0,1048.6 L790.5,1038.7 L791.0,1028.9 L791.5,1038.2 L792.0,1031.2 L792.5,1033.8 L793.0,1020.7 L793.5,1016.9 L794.0,1027.2 L794.5,1012.2 L795.0,1030.9 L795.5,1012.6 L796.0,1009.5 L796.5,1023.8 L797.0,1010.2 L797.5,1012.3 L798.0,1002.7 L798.5,1018.3 L799.0,1010.3 L799.5,1001.9 L800.0,1006.2 L800.5,1012.1 L801.0,1014.3 L801.5,991.0 L802.0,995.8 L802.5,982.3 L803.0,993.2 L803.5,982.3 L804.0,982.3 L804.5,982.3 L805.0,1002.1 L805.5,1001.0 L806.0,1014.0 L806.5,1002.3 L807.0,1012.9 L807.5,1001.1 L808.0,1015.2 L808.5,1007.5 L809.0,1006.4 L809.5,1021.0 L810.0,1014.6 L810.5,1006.3 L811.0,1016.1 L811.5,1020.2 L812.0,1022.6 L812.5,1011.5 L813.0,1025.1 L813.5,1016.7 L814.0,1018.6 L814.5,1019.8 L815.0,1030.9 L815.5,1031.8 L816.0,1043.0 L816.5,1063.2 L817.0,1064.0 L817.5,1052.1 L818.0,1060.0 L818.5,1067.2 L819.0,1073.4 L819.5,1057.3 L820.0,1066.4 L820.5,1063.3 L821.0,1063.5 L821.5,1063.8 L822.0,1064.1 L822.5,1064.5 L823.0,1065.1 L823.5,1065.8 L824.0,1066.9 L824.5,1069.5 L825.0,1073.6 L825.5,1078.6 L826.0,1084.1 L826.5,1089.8 L827.0,1095.0 L827.5,1099.5 L828.0,1102.7 L828.5,1104.5 L829.0,1106.0 L829.5,1107.3 L830.0,1108.5 L830.5,1109.5 L831.0,1110.5 L831.5,1111.3 L832.0,1112.2 L832.5,1112.9 L833.0,1113.7 L833.5,1114.4 L834.0,1115.2 L834.5,1116.1 L835.0,1117.0 L835.5,1118.0 L836.0,1119.1 L836.5,1120.4 L837.0,1121.8 L837.5,1123.2 L838.0,1124.6 L838.5,1126.1 L839.0,1127.5 L839.5,1128.9 L840.0,1130.1 L840.5,1131.3 L841.0,1132.3 L841.5,1133.1 L842.0,1133.8 L842.5,1134.4 L843.0,1134.9 L843.5,1135.5 L844.0,1136.0 L844.5,1136.5 L845.0,1137.0 L845.5,1137.4 L846.0,1137.8 L846.5,1138.2 L847.0,1138.6 L847.5,1139.0 L848.0,1139.4 L848.5,1139.7 L849.0,1140.1 L849.5,1140.4 L850.0,1140.7 L850.5,1141.0 L851.0,1141.4 L851.5,1141.7 L852.0,1142.0 L852.5,1142.4 L853.0,1142.7 L853.5,1143.1 L854.0,1143.4 L854.5,1143.8 L855.0,1144.1 L855.5,1144.5 L856.0,1144.8 L856.5,1145.1 L857.0,1145.4 L857.5,1145.7 L858.0,1145.9 L858.5,1146.1 L859.0,1146.3 L859.5,1146.5 L860.0,1146.6 L860.5,1146.7 L861.0,1146.8 L861.5,1146.9 L862.0,1147.0 L862.5,1147.1 L863.0,1147.1 L863.5,1147.2 L864.0,1147.3 L864.5,1147.4 L865.0,1147.4 L865.5,1147.5 L866.0,1147.6 L866.5,1147.6 L867.0,1147.7 L867.5,1147.7 L868.0,1147.8 L868.5,1147.9 L869.0,1147.9 L869.5,1147.9 L870.0,1148.0 L870.5,1148.0 L871.0,1148.0 L871.5,1148.1 L872.0,1148.1 L872.5,1148.1 L873.0,1148.1 L873.5,1148.2 L874.0,1148.2 L874.5,1148.2 L875.0,1148.2 L875.5,1148.2 L876.0,1148.2 L876.5,1148.2 L877.0,1148.2 L877.5,1148.2 L878.0,1148.2 L878.5,1148.1 L879.0,1148.1 L879.5,1148.1 L880.0,1148.1 L880.5,1148.1 L881.0,1148.1 L881.5,1148.1 L882.0,1148.1 L882.5,1148.0 L883.0,1148.0 L883.5,1148.0 L884.0,1148.0 L884.5,1148.0 L885.0,1147.9 L885.5,1147.9 L886.0,1147.9 L886.5,1147.9 L887.0,1147.9 L887.5,1147.8 L888.0,1147.8 L888.5,1147.8 L889.0,1147.8 L889.5,1147.7 L890.0,1147.7 L890.5,1147.7 L891.0,1147.6 L891.5,1147.6 L892.0,1147.6 L892.5,1147.6 L893.0,1147.5 L893.5,1147.5 L894.0,1147.5 L894.5,1147.4 L895.0,1147.4 L895.5,1147.4 L896.0,1147.3 L896.5,1147.3 L897.0,1147.3 L897.5,1147.2 L898.0,1147.2 L898.5,1147.2 L899.0,1147.1 L899.5,1147.1 L900.0,1147.1 L900.5,1147.0 L901.0,1147.0 L901.5,1147.0 L902.0,1146.9 L902.5,1146.9 L903.0,1146.8 L903.5,1146.7 L904.0,1146.7 L904.5,1146.6 L905.0,1146.5 L905.5,1146.5 L906.0,1146.4 L906.5,1146.3 L907.0,1146.3 L907.5,1146.2 L908.0,1146.1 L908.5,1146.0 L909.0,1145.9 L909.5,1145.8 L910.0,1145.8 L910.5,1145.7 L911.0,1145.6 L911.5,1145.5 L912.0,1145.4 L912.5,1145.3 L913.0,1145.2 L913.5,1145.2 L914.0,1145.1 L914.5,1145.0 L915.0,1144.9 L915.5,1144.8 L916.0,1144.8 L916.5,1144.7 L917.0,1144.6 L917.5,1144.5 L918.0,1144.5 L918.5,1144.4 L919.0,1144.3 L919.5,1144.3 L920.0,1144.2 L920.5,1144.2 L921.0,1144.1 L921.5,1144.1 L922.0,1144.1 L922.5,1144.0 L923.0,1144.0 L923.5,1144.0 L924.0,1144.0 L924.5,1143.9 L925.0,1143.9 L925.5,1143.9 L926.0,1143.9 L926.5,1143.9 L927.0,1143.9 L927.5,1143.9 L928.0,1144.0 L928.5,1144.0 L929.0,1144.0 L929.5,1144.0 L930.0,1144.0 L930.5,1144.0 L931.0,1144.1 L931.5,1144.1 L932.0,1144.1 L932.5,1144.1 L933.0,1144.2 L933.5,1144.2 L934.0,1144.2 L934.5,1144.2 L935.0,1144.3 L935.5,1144.3 L936.0,1144.3 L936.5,1144.4 L937.0,1144.4 L937.5,1144.5 L938.0,1144.5 L938.5,1144.5 L939.0,1144.6 L939.5,1144.6 L940.0,1144.7 L940.5,1144.7 L941.0,1144.7 L941.5,1144.8 L942.0,1144.8 L942.5,1144.9 L943.0,1144.9 L943.5,1145.0 L944.0,1145.0 L944.5,1145.1 L945.0,1145.1 L945.5,1145.1 L946.0,1145.2 L946.5,1145.2 L947.0,1145.3 L947.5,1145.3 L948.0,1145.4 L948.5,1145.4 L949.0,1145.5 L949.5,1145.5 L950.0,1145.6 L950.5,1145.6 L951.0,1145.6 L951.5,1145.7 L952.0,1145.7 L952.5,1145.8 L953.0,1145.8 L953.5,1145.9 L954.0,1145.9 L954.5,1145.9 L955.0,1146.0 L955.5,1146.0 L956.0,1146.0 L956.5,1146.1 L957.0,1146.1 L957.5,1146.1 L958.0,1146.2 L958.5,1146.2 L959.0,1146.2 L959.5,1146.3 L960.0,1146.3 L960.5,1146.3 L961.0,1146.3 L961.5,1146.4 L962.0,1146.4 L962.5,1146.4 L963.0,1146.4 L963.5,1146.5 L964.0,1146.5 L964.5,1146.5 L965.0,1146.5 L965.5,1146.5 L966.0,1146.6 L966.5,1146.6 L967.0,1146.6 L967.5,1146.6 L968.0,1146.6 L968.5,1146.7 L969.0,1146.7 L969.5,1146.7 L970.0,1146.7 L970.5,1146.7 L971.0,1146.7 L971.5,1146.8 L972.0,1146.8 L972.5,1146.8 L973.0,1146.8 L973.5,1146.8 L974.0,1146.8 L974.5,1146.9 L975.0,1146.9 L975.5,1146.9 L976.0,1146.9 L976.5,1146.9 L977.0,1146.9 L977.5,1147.0 L978.0,1147.0 L978.5,1147.0 L979.0,1147.0 L979.5,1147.0 L980.0,1147.0 L980.5,1147.1 L981.0,1147.1 L981.5,1147.1 L982.0,1147.1 L982.5,1147.1 L983.0,1147.1 L983.5,1147.2 L984.0,1147.2 L984.5,1147.2 L985.0,1147.2 L985.5,1147.2 L986.0,1147.2 L986.5,1147.3 L987.0,1147.3 L987.5,1147.3 L988.0,1147.3 L988.5,1147.3 L989.0,1147.4 L989.5,1147.4 L990.0,1147.4 L990.5,1147.4 L991.0,1147.4 L991.5,1147.5 L992.0,1147.5 L992.5,1147.5 L993.0,1147.5 L993.5,1147.5 L994.0,1147.6 L994.5,1147.6 L995.0,1147.6 L995.5,1147.6 L996.0,1147.7 L996.5,1147.7 L997.0,1147.7 L997.5,1147.7 L998.0,1147.8 L998.5,1147.8 L999.0,1147.8 L999.5,1147.8 L1000.0,1147.9 L1000.5,1147.9 L1001.0,1147.9 L1001.5,1148.0 L1002.0,1148.0 L1002.5,1148.0 L1003.0,1148.0 L1003.5,1148.1 L1004.0,1148.1 L1004.5,1148.2 L1005.0,1148.2 L1005.5,1148.2 L1006.0,1148.3 L1006.5,1148.3 L1007.0,1148.3 L1007.5,1148.4 L1008.0,1148.4 L1008.5,1148.5 L1009.0,1148.5 L1009.5,1148.5 L1010.0,1148.6 L1010.5,1148.6 L1011.0,1148.7 L1011.5,1148.7 L1012.0,1148.8 L1012.5,1148.8 L1013.0,1148.9 L1013.5,1148.9 L1014.0,1149.0 L1014.5,1149.0 L1015.0,1149.1 L1015.5,1149.1 L1016.0,1149.2 L1016.5,1149.2 L1017.0,1149.3 L1017.5,1149.3 L1018.0,1149.4 L1018.5,1149.4 L1019.0,1149.5 L1019.5,1149.5 L1020.0,1149.6 L1020.5,1149.6 L1021.0,1149.7 L1021.5,1149.7 L1022.0,1149.8 L1022.5,1149.8 L1023.0,1149.9 L1023.5,1149.9 L1024.0,1150.0 L1024.5,1150.1 L1025.0,1150.1 L1025.5,1150.2 L1026.0,1150.2" fill="none" stroke="#ff0000" stroke-width="5.0" stroke-linejoin="round" stroke-linecap="round" />
<line x1="261.8" y1="52" x2="261.8" y2="1156" stroke="#e8333d" stroke-width="5" stroke-dasharray="17 15" />
<line x1="804.0" y1="52" x2="804.0" y2="1156" stroke="#e8333d" stroke-width="5" stroke-dasharray="17 15" />
<text x="143.8" y="278.6" font-size="41.5" fill="#111" stroke="#111" stroke-width="0.8" stroke-linejoin="round" text-anchor="end" font-weight="bold" >0.0</text>
<text x="143.8" y="199.9" font-size="41.5" fill="#111" stroke="#111" stroke-width="0.8" stroke-linejoin="round" text-anchor="end" font-weight="bold" >0.5</text>
<text x="143.8" y="121.3" font-size="41.5" fill="#111" stroke="#111" stroke-width="0.8" stroke-linejoin="round" text-anchor="end" font-weight="bold" >1.0</text>
<text x="143.8" y="500.9" font-size="41.5" fill="#111" stroke="#111" stroke-width="0.8" stroke-linejoin="round" text-anchor="end" font-weight="bold" >0.0</text>
<text x="143.8" y="422.2" font-size="41.5" fill="#111" stroke="#111" stroke-width="0.8" stroke-linejoin="round" text-anchor="end" font-weight="bold" >0.5</text>
<text x="143.8" y="343.6" font-size="41.5" fill="#111" stroke="#111" stroke-width="0.8" stroke-linejoin="round" text-anchor="end" font-weight="bold" >1.0</text>
<text x="143.8" y="723.2" font-size="41.5" fill="#111" stroke="#111" stroke-width="0.8" stroke-linejoin="round" text-anchor="end" font-weight="bold" >0.0</text>
<text x="143.8" y="644.6" font-size="41.5" fill="#111" stroke="#111" stroke-width="0.8" stroke-linejoin="round" text-anchor="end" font-weight="bold" >0.5</text>
<text x="143.8" y="565.9" font-size="41.5" fill="#111" stroke="#111" stroke-width="0.8" stroke-linejoin="round" text-anchor="end" font-weight="bold" >1.0</text>
<text x="143.8" y="945.8" font-size="41.5" fill="#111" stroke="#111" stroke-width="0.8" stroke-linejoin="round" text-anchor="end" font-weight="bold" >0.0</text>
<text x="143.8" y="867.2" font-size="41.5" fill="#111" stroke="#111" stroke-width="0.8" stroke-linejoin="round" text-anchor="end" font-weight="bold" >0.5</text>
<text x="143.8" y="788.5" font-size="41.5" fill="#111" stroke="#111" stroke-width="0.8" stroke-linejoin="round" text-anchor="end" font-weight="bold" >1.0</text>
<text x="143.8" y="1168.5" font-size="41.5" fill="#111" stroke="#111" stroke-width="0.8" stroke-linejoin="round" text-anchor="end" font-weight="bold" >0.0</text>
<text x="143.8" y="1089.8" font-size="41.5" fill="#111" stroke="#111" stroke-width="0.8" stroke-linejoin="round" text-anchor="end" font-weight="bold" >0.5</text>
<text x="143.8" y="1011.2" font-size="41.5" fill="#111" stroke="#111" stroke-width="0.8" stroke-linejoin="round" text-anchor="end" font-weight="bold" >1.0</text>
<text x="220.5" y="1204.0" font-size="41" fill="#111" stroke="#111" stroke-width="0.8" stroke-linejoin="round" text-anchor="middle" font-weight="bold" >2000</text>
<text x="344.8" y="1204.0" font-size="41" fill="#111" stroke="#111" stroke-width="0.8" stroke-linejoin="round" text-anchor="middle" font-weight="bold" >2200</text>
<text x="469.0" y="1204.0" font-size="41" fill="#111" stroke="#111" stroke-width="0.8" stroke-linejoin="round" text-anchor="middle" font-weight="bold" >2400</text>
<text x="593.2" y="1204.0" font-size="41" fill="#111" stroke="#111" stroke-width="0.8" stroke-linejoin="round" text-anchor="middle" font-weight="bold" >2600</text>
<text x="717.5" y="1204.0" font-size="41" fill="#111" stroke="#111" stroke-width="0.8" stroke-linejoin="round" text-anchor="middle" font-weight="bold" >2800</text>
<text x="841.8" y="1204.0" font-size="41" fill="#111" stroke="#111" stroke-width="0.8" stroke-linejoin="round" text-anchor="middle" font-weight="bold" >3000</text>
<text x="966.0" y="1204.0" font-size="41" fill="#111" stroke="#111" stroke-width="0.8" stroke-linejoin="round" text-anchor="middle" font-weight="bold" >3200</text>
<text x="592.0" y="1258.0" font-size="41" fill="#111" stroke="#111" stroke-width="0.8" stroke-linejoin="round" text-anchor="middle" font-weight="bold" >Wavelength (nm)</text>
<text x="0" y="0" font-size="42" font-weight="bold" fill="#111" stroke="#111" stroke-width="0.8" stroke-linejoin="round" text-anchor="middle" transform="translate(51.5,655.5) rotate(-90)">Intensity (arb. units)</text>
<text x="10.0" y="55.0" font-size="58" fill="#000" stroke="#000" stroke-width="0.8" stroke-linejoin="round" text-anchor="start" font-weight="bold" >a</text>
<text x="239.2" y="99.0" font-size="41" fill="#000" stroke="#000" stroke-width="0.8" stroke-linejoin="round" text-anchor="middle" font-weight="bold" >A</text>
<text x="471.2" y="99.0" font-size="41" fill="#000" stroke="#000" stroke-width="0.8" stroke-linejoin="round" text-anchor="middle" font-weight="bold" >B</text>
<text x="512.2" y="99.0" font-size="41" fill="#000" stroke="#000" stroke-width="0.8" stroke-linejoin="round" text-anchor="middle" font-weight="bold" >C</text>
<text x="622.0" y="99.0" font-size="41" fill="#000" stroke="#000" stroke-width="0.8" stroke-linejoin="round" text-anchor="middle" font-weight="bold" >DE</text>
<text x="684.2" y="99.0" font-size="41" fill="#000" stroke="#000" stroke-width="0.8" stroke-linejoin="round" text-anchor="middle" font-weight="bold" >F</text>
<text x="734.9" y="99.0" font-size="41" fill="#000" stroke="#000" stroke-width="0.8" stroke-linejoin="round" text-anchor="middle" font-weight="bold" >G</text>
<text x="944.0" y="89.0" font-size="41" fill="#000" stroke="#000" stroke-width="0.8" stroke-linejoin="round" text-anchor="middle" font-weight="bold" >77 K</text>
<text x="503.6" y="316.0" font-size="41" fill="#000" stroke="#000" stroke-width="0.8" stroke-linejoin="round" text-anchor="middle" font-weight="bold" >BC</text>
<text x="615.9" y="316.0" font-size="41" fill="#000" stroke="#000" stroke-width="0.8" stroke-linejoin="round" text-anchor="middle" font-weight="bold" >D</text>
<text x="698.0" y="316.0" font-size="41" fill="#000" stroke="#000" stroke-width="0.8" stroke-linejoin="round" text-anchor="middle" font-weight="bold" >F</text>
<text x="748.0" y="316.0" font-size="41" fill="#000" stroke="#000" stroke-width="0.8" stroke-linejoin="round" text-anchor="middle" font-weight="bold" >G</text>
<text x="933.7" y="314.0" font-size="41" fill="#ff00ff" stroke="#ff00ff" stroke-width="0.8" stroke-linejoin="round" text-anchor="middle" font-weight="bold" >110 K</text>
<text x="489.0" y="540.0" font-size="41" fill="#000" stroke="#000" stroke-width="0.8" stroke-linejoin="round" text-anchor="middle" font-weight="bold" >B</text>
<text x="539.4" y="540.0" font-size="41" fill="#000" stroke="#000" stroke-width="0.8" stroke-linejoin="round" text-anchor="middle" font-weight="bold" >C</text>
<text x="626.5" y="540.0" font-size="41" fill="#000" stroke="#000" stroke-width="0.8" stroke-linejoin="round" text-anchor="middle" font-weight="bold" >D</text>
<text x="708.7" y="540.0" font-size="41" fill="#000" stroke="#000" stroke-width="0.8" stroke-linejoin="round" text-anchor="middle" font-weight="bold" >F</text>
<text x="759.8" y="540.0" font-size="41" fill="#000" stroke="#000" stroke-width="0.8" stroke-linejoin="round" text-anchor="middle" font-weight="bold" >G</text>
<text x="935.5" y="538.0" font-size="41" fill="#0000ff" stroke="#0000ff" stroke-width="0.8" stroke-linejoin="round" text-anchor="middle" font-weight="bold" >140 K</text>
<text x="638.3" y="764.0" font-size="41" fill="#000" stroke="#000" stroke-width="0.8" stroke-linejoin="round" text-anchor="middle" font-weight="bold" >D</text>
<text x="768.6" y="764.0" font-size="41" fill="#000" stroke="#000" stroke-width="0.8" stroke-linejoin="round" text-anchor="middle" font-weight="bold" >G</text>
<text x="936.0" y="760.0" font-size="41" fill="#ff8c1a" stroke="#ff8c1a" stroke-width="0.8" stroke-linejoin="round" text-anchor="middle" font-weight="bold" >160 K</text>
<text x="780.2" y="986.0" font-size="41" fill="#000" stroke="#000" stroke-width="0.8" stroke-linejoin="round" text-anchor="middle" font-weight="bold" >G</text>
<text x="938.0" y="990.0" font-size="41" fill="#ff0000" stroke="#ff0000" stroke-width="0.8" stroke-linejoin="round" text-anchor="middle" font-weight="bold" >180 K</text>
<text x="295.0" y="1088.0" font-size="44" fill="#ff0000" stroke="#ff0000" stroke-width="0.8" stroke-linejoin="round" text-anchor="start" font-weight="bold" >2070 nm</text>
<text x="553.5" y="1088.0" font-size="44" fill="#ff0000" stroke="#ff0000" stroke-width="0.8" stroke-linejoin="round" text-anchor="start" font-weight="bold" >2945 nm</text>
<path d="M349.9,1095.6 L275.5,1143.2 M286.2,1122.4 L275.5,1143.2 L299.3,1143.0" fill="none" stroke="#ff0000" stroke-width="4.6" stroke-linecap="round" stroke-linejoin="round"/>
<path d="M665.2,1096.8 L784.1,1144.0 M771.1,1124.2 L784.1,1144.0 L764.3,1147.0" fill="none" stroke="#ff0000" stroke-width="4.6" stroke-linecap="round" stroke-linejoin="round"/>
<rect x="1218.0" y="42.0" width="867.0" height="1109.0" fill="none" stroke="#383838" stroke-width="4.8" stroke-linejoin="round" rx="4"/>
<line x1="1218.0" y1="595.5" x2="2085.0" y2="595.5" stroke="#3a3a3a" stroke-width="4.8" />
<line x1="1309.2" y1="42.0" x2="1309.2" y2="55.0" stroke="#3a3a3a" stroke-width="4.2" />
<line x1="1309.2" y1="595.5" x2="1309.2" y2="582.5" stroke="#3a3a3a" stroke-width="4.2" />
<line x1="1309.2" y1="1151.0" x2="1309.2" y2="1138.0" stroke="#3a3a3a" stroke-width="4.2" />
<line x1="1400.3" y1="42.0" x2="1400.3" y2="49.0" stroke="#3a3a3a" stroke-width="4.2" />
<line x1="1400.3" y1="595.5" x2="1400.3" y2="588.5" stroke="#3a3a3a" stroke-width="4.2" />
<line x1="1400.3" y1="1151.0" x2="1400.3" y2="1144.0" stroke="#3a3a3a" stroke-width="4.2" />
<line x1="1491.4" y1="42.0" x2="1491.4" y2="55.0" stroke="#3a3a3a" stroke-width="4.2" />
<line x1="1491.4" y1="595.5" x2="1491.4" y2="582.5" stroke="#3a3a3a" stroke-width="4.2" />
<line x1="1491.4" y1="1151.0" x2="1491.4" y2="1138.0" stroke="#3a3a3a" stroke-width="4.2" />
<line x1="1582.5" y1="42.0" x2="1582.5" y2="49.0" stroke="#3a3a3a" stroke-width="4.2" />
<line x1="1582.5" y1="595.5" x2="1582.5" y2="588.5" stroke="#3a3a3a" stroke-width="4.2" />
<line x1="1582.5" y1="1151.0" x2="1582.5" y2="1144.0" stroke="#3a3a3a" stroke-width="4.2" />
<line x1="1673.6" y1="42.0" x2="1673.6" y2="55.0" stroke="#3a3a3a" stroke-width="4.2" />
<line x1="1673.6" y1="595.5" x2="1673.6" y2="582.5" stroke="#3a3a3a" stroke-width="4.2" />
<line x1="1673.6" y1="1151.0" x2="1673.6" y2="1138.0" stroke="#3a3a3a" stroke-width="4.2" />
<line x1="1764.7" y1="42.0" x2="1764.7" y2="49.0" stroke="#3a3a3a" stroke-width="4.2" />
<line x1="1764.7" y1="595.5" x2="1764.7" y2="588.5" stroke="#3a3a3a" stroke-width="4.2" />
<line x1="1764.7" y1="1151.0" x2="1764.7" y2="1144.0" stroke="#3a3a3a" stroke-width="4.2" />
<line x1="1855.8" y1="42.0" x2="1855.8" y2="55.0" stroke="#3a3a3a" stroke-width="4.2" />
<line x1="1855.8" y1="595.5" x2="1855.8" y2="582.5" stroke="#3a3a3a" stroke-width="4.2" />
<line x1="1855.8" y1="1151.0" x2="1855.8" y2="1138.0" stroke="#3a3a3a" stroke-width="4.2" />
<line x1="1946.9" y1="42.0" x2="1946.9" y2="49.0" stroke="#3a3a3a" stroke-width="4.2" />
<line x1="1946.9" y1="595.5" x2="1946.9" y2="588.5" stroke="#3a3a3a" stroke-width="4.2" />
<line x1="1946.9" y1="1151.0" x2="1946.9" y2="1144.0" stroke="#3a3a3a" stroke-width="4.2" />
<line x1="2038.0" y1="42.0" x2="2038.0" y2="55.0" stroke="#3a3a3a" stroke-width="4.2" />
<line x1="2038.0" y1="595.5" x2="2038.0" y2="582.5" stroke="#3a3a3a" stroke-width="4.2" />
<line x1="2038.0" y1="1151.0" x2="2038.0" y2="1138.0" stroke="#3a3a3a" stroke-width="4.2" />
<line x1="1218.0" y1="532.8" x2="1225.0" y2="532.8" stroke="#3a3a3a" stroke-width="4.2" />
<line x1="2085.0" y1="532.8" x2="2078.0" y2="532.8" stroke="#3a3a3a" stroke-width="4.2" />
<line x1="1218.0" y1="469.8" x2="1232.0" y2="469.8" stroke="#3a3a3a" stroke-width="4.2" />
<line x1="2085.0" y1="469.8" x2="2071.0" y2="469.8" stroke="#3a3a3a" stroke-width="4.2" />
<line x1="1218.0" y1="406.9" x2="1225.0" y2="406.9" stroke="#3a3a3a" stroke-width="4.2" />
<line x1="2085.0" y1="406.9" x2="2078.0" y2="406.9" stroke="#3a3a3a" stroke-width="4.2" />
<line x1="1218.0" y1="343.9" x2="1232.0" y2="343.9" stroke="#3a3a3a" stroke-width="4.2" />
<line x1="2085.0" y1="343.9" x2="2071.0" y2="343.9" stroke="#3a3a3a" stroke-width="4.2" />
<line x1="1218.0" y1="280.9" x2="1225.0" y2="280.9" stroke="#3a3a3a" stroke-width="4.2" />
<line x1="2085.0" y1="280.9" x2="2078.0" y2="280.9" stroke="#3a3a3a" stroke-width="4.2" />
<line x1="1218.0" y1="217.9" x2="1232.0" y2="217.9" stroke="#3a3a3a" stroke-width="4.2" />
<line x1="2085.0" y1="217.9" x2="2071.0" y2="217.9" stroke="#3a3a3a" stroke-width="4.2" />
<line x1="1218.0" y1="155.0" x2="1225.0" y2="155.0" stroke="#3a3a3a" stroke-width="4.2" />
<line x1="2085.0" y1="155.0" x2="2078.0" y2="155.0" stroke="#3a3a3a" stroke-width="4.2" />
<line x1="1218.0" y1="92.0" x2="1232.0" y2="92.0" stroke="#3a3a3a" stroke-width="4.2" />
<line x1="2085.0" y1="92.0" x2="2071.0" y2="92.0" stroke="#3a3a3a" stroke-width="4.2" />
<line x1="1218.0" y1="1088.2" x2="1225.0" y2="1088.2" stroke="#3a3a3a" stroke-width="4.2" />
<line x1="2085.0" y1="1088.2" x2="2078.0" y2="1088.2" stroke="#3a3a3a" stroke-width="4.2" />
<line x1="1218.0" y1="1024.9" x2="1232.0" y2="1024.9" stroke="#3a3a3a" stroke-width="4.2" />
<line x1="2085.0" y1="1024.9" x2="2071.0" y2="1024.9" stroke="#3a3a3a" stroke-width="4.2" />
<line x1="1218.0" y1="961.6" x2="1225.0" y2="961.6" stroke="#3a3a3a" stroke-width="4.2" />
<line x1="2085.0" y1="961.6" x2="2078.0" y2="961.6" stroke="#3a3a3a" stroke-width="4.2" />
<line x1="1218.0" y1="898.4" x2="1232.0" y2="898.4" stroke="#3a3a3a" stroke-width="4.2" />
<line x1="2085.0" y1="898.4" x2="2071.0" y2="898.4" stroke="#3a3a3a" stroke-width="4.2" />
<line x1="1218.0" y1="835.1" x2="1225.0" y2="835.1" stroke="#3a3a3a" stroke-width="4.2" />
<line x1="2085.0" y1="835.1" x2="2078.0" y2="835.1" stroke="#3a3a3a" stroke-width="4.2" />
<line x1="1218.0" y1="771.8" x2="1232.0" y2="771.8" stroke="#3a3a3a" stroke-width="4.2" />
<line x1="2085.0" y1="771.8" x2="2071.0" y2="771.8" stroke="#3a3a3a" stroke-width="4.2" />
<line x1="1218.0" y1="708.5" x2="1225.0" y2="708.5" stroke="#3a3a3a" stroke-width="4.2" />
<line x1="2085.0" y1="708.5" x2="2078.0" y2="708.5" stroke="#3a3a3a" stroke-width="4.2" />
<line x1="1218.0" y1="645.2" x2="1232.0" y2="645.2" stroke="#3a3a3a" stroke-width="4.2" />
<line x1="2085.0" y1="645.2" x2="2071.0" y2="645.2" stroke="#3a3a3a" stroke-width="4.2" />
<path d="M1309.0,595.5 L1310.0,595.5 L1311.0,595.5 L1312.0,595.5 L1313.0,595.5 L1314.0,595.5 L1315.0,595.5 L1316.0,595.5 L1317.0,595.5 L1318.0,595.5 L1319.0,595.5 L1320.0,595.5 L1321.0,595.5 L1322.0,595.5 L1323.0,595.5 L1324.0,595.5 L1325.0,595.5 L1326.0,595.5 L1327.0,595.5 L1328.0,595.5 L1329.0,595.5 L1330.0,595.5 L1331.0,595.5 L1332.0,595.5 L1333.0,595.5 L1334.0,595.5 L1335.0,595.5 L1336.0,595.5 L1337.0,595.5 L1338.0,595.5 L1339.0,595.5 L1340.0,595.5 L1341.0,595.5 L1342.0,595.5 L1343.0,595.5 L1344.0,595.5 L1345.0,595.5 L1346.0,595.5 L1347.0,595.5 L1348.0,595.5 L1349.0,595.5 L1350.0,595.5 L1351.0,595.5 L1352.0,595.5 L1353.0,595.5 L1354.0,595.5 L1355.0,595.5 L1356.0,595.5 L1357.0,595.5 L1358.0,595.5 L1359.0,595.5 L1360.0,595.5 L1361.0,595.5 L1362.0,595.5 L1363.0,595.5 L1364.0,595.5 L1365.0,595.5 L1366.0,595.5 L1367.0,595.5 L1368.0,595.5 L1369.0,595.5 L1370.0,595.5 L1371.0,595.5 L1372.0,595.5 L1373.0,595.5 L1374.0,595.5 L1375.0,595.5 L1376.0,595.5 L1377.0,595.5 L1378.0,595.5 L1379.0,595.5 L1380.0,595.5 L1381.0,595.5 L1382.0,595.5 L1383.0,595.5 L1384.0,595.5 L1385.0,595.5 L1386.0,595.5 L1387.0,595.5 L1388.0,595.5 L1389.0,595.5 L1390.0,595.5 L1391.0,595.5 L1392.0,595.5 L1393.0,595.5 L1394.0,595.5 L1395.0,595.5 L1396.0,595.5 L1397.0,595.5 L1398.0,595.5 L1399.0,595.5 L1400.0,595.5 L1401.0,595.5 L1402.0,595.5 L1403.0,595.5 L1404.0,595.5 L1405.0,595.5 L1406.0,595.5 L1407.0,595.5 L1408.0,595.5 L1409.0,595.5 L1410.0,595.5 L1411.0,595.5 L1412.0,595.5 L1413.0,595.5 L1414.0,595.5 L1415.0,595.5 L1416.0,595.5 L1417.0,595.5 L1418.0,595.5 L1419.0,595.5 L1420.0,595.5 L1421.0,595.5 L1422.0,595.5 L1423.0,595.5 L1424.0,595.5 L1425.0,595.5 L1426.0,595.5 L1427.0,595.5 L1428.0,595.5 L1429.0,595.5 L1430.0,595.5 L1431.0,595.5 L1432.0,595.5 L1433.0,595.5 L1434.0,595.5 L1435.0,595.5 L1436.0,595.5 L1437.0,595.5 L1438.0,595.5 L1439.0,595.5 L1440.0,595.5 L1441.0,595.5 L1442.0,595.5 L1443.0,595.5 L1444.0,595.5 L1445.0,595.5 L1446.0,595.5 L1447.0,595.5 L1448.0,595.5 L1449.0,595.5 L1450.0,595.5 L1451.0,595.5 L1452.0,595.5 L1453.0,595.5 L1454.0,595.5 L1455.0,595.5 L1456.0,595.5 L1457.0,595.5 L1458.0,595.5 L1459.0,595.5 L1460.0,595.5 L1461.0,595.5 L1462.0,595.5 L1463.0,595.5 L1464.0,595.5 L1465.0,595.5 L1466.0,595.5 L1467.0,595.5 L1468.0,595.5 L1469.0,595.5 L1470.0,595.5 L1471.0,595.5 L1472.0,595.5 L1473.0,595.5 L1474.0,595.5 L1475.0,595.5 L1476.0,595.5 L1477.0,595.5 L1478.0,595.5 L1479.0,595.5 L1480.0,595.5 L1481.0,595.5 L1482.0,595.5 L1483.0,595.5 L1484.0,595.5 L1485.0,595.5 L1486.0,595.5 L1487.0,595.5 L1488.0,595.5 L1489.0,595.5 L1490.0,595.5 L1491.0,595.5 L1492.0,595.5 L1493.0,595.5 L1494.0,595.5 L1495.0,595.5 L1496.0,595.5 L1497.0,595.5 L1498.0,595.5 L1499.0,595.5 L1500.0,595.5 L1501.0,595.5 L1502.0,595.5 L1503.0,595.5 L1504.0,595.5 L1505.0,595.5 L1506.0,595.5 L1507.0,595.5 L1508.0,595.5 L1509.0,595.5 L1510.0,595.5 L1511.0,595.5 L1512.0,595.5 L1513.0,595.5 L1514.0,595.5 L1515.0,595.5 L1516.0,595.5 L1517.0,595.5 L1518.0,595.5 L1519.0,595.5 L1520.0,595.5 L1521.0,595.5 L1522.0,595.5 L1523.0,595.5 L1524.0,595.5 L1525.0,595.5 L1526.0,595.5 L1527.0,595.5 L1528.0,595.5 L1529.0,595.5 L1530.0,595.5 L1531.0,595.5 L1532.0,595.5 L1533.0,595.5 L1534.0,595.5 L1535.0,595.5 L1536.0,595.5 L1537.0,595.5 L1538.0,595.5 L1539.0,595.5 L1540.0,595.5 L1541.0,595.5 L1542.0,595.5 L1543.0,595.5 L1544.0,595.5 L1545.0,595.5 L1546.0,595.5 L1547.0,595.5 L1548.0,595.5 L1549.0,595.5 L1550.0,595.5 L1551.0,595.5 L1552.0,595.5 L1553.0,595.5 L1554.0,595.5 L1555.0,595.5 L1556.0,595.5 L1557.0,595.5 L1558.0,595.5 L1559.0,595.5 L1560.0,595.5 L1561.0,595.5 L1562.0,595.5 L1563.0,595.5 L1564.0,595.5 L1565.0,595.5 L1566.0,595.5 L1567.0,595.5 L1568.0,595.5 L1569.0,595.5 L1570.0,595.5 L1571.0,595.5 L1572.0,595.5 L1573.0,595.5 L1574.0,595.5 L1575.0,595.5 L1576.0,595.5 L1577.0,595.5 L1578.0,595.5 L1579.0,595.5 L1580.0,595.5 L1581.0,595.5 L1582.0,595.5 L1583.0,595.5 L1584.0,595.5 L1585.0,595.5 L1586.0,595.5 L1587.0,595.5 L1588.0,595.5 L1589.0,595.5 L1590.0,595.5 L1591.0,595.5 L1592.0,595.5 L1593.0,595.5 L1594.0,595.5 L1595.0,595.5 L1596.0,595.5 L1597.0,595.5 L1598.0,595.5 L1599.0,595.5 L1600.0,595.5 L1601.0,595.5 L1602.0,595.5 L1603.0,595.5 L1604.0,595.5 L1605.0,595.5 L1606.0,595.5 L1607.0,595.5 L1608.0,595.5 L1609.0,595.5 L1610.0,595.5 L1611.0,595.5 L1612.0,595.5 L1613.0,595.5 L1614.0,595.5 L1615.0,595.5 L1616.0,595.5 L1617.0,595.5 L1618.0,595.5 L1619.0,595.5 L1620.0,595.5 L1621.0,595.5 L1622.0,595.5 L1623.0,595.5 L1624.0,595.5 L1625.0,595.5 L1626.0,595.5 L1627.0,595.5 L1628.0,595.5 L1629.0,595.5 L1630.0,595.5 L1631.0,595.5 L1632.0,595.5 L1633.0,595.5 L1634.0,595.5 L1635.0,595.5 L1636.0,595.5 L1637.0,595.5 L1638.0,595.5 L1639.0,595.5 L1640.0,595.5 L1641.0,595.5 L1642.0,595.5 L1643.0,595.5 L1644.0,595.5 L1645.0,595.5 L1646.0,595.5 L1647.0,595.5 L1648.0,595.5 L1649.0,595.5 L1650.0,595.5 L1651.0,595.5 L1652.0,595.5 L1653.0,595.5 L1654.0,595.5 L1655.0,595.5 L1656.0,595.5 L1657.0,595.5 L1658.0,595.5 L1659.0,595.5 L1660.0,595.5 L1661.0,595.5 L1662.0,595.5 L1663.0,595.5 L1664.0,595.5 L1665.0,595.5 L1666.0,595.5 L1667.0,595.5 L1668.0,595.5 L1669.0,595.5 L1670.0,595.5 L1671.0,595.5 L1672.0,595.5 L1673.0,595.5 L1674.0,595.5 L1675.0,595.5 L1676.0,595.5 L1677.0,595.5 L1678.0,595.5 L1679.0,595.5 L1680.0,595.5 L1681.0,595.5 L1682.0,595.5 L1683.0,595.5 L1684.0,595.5 L1685.0,595.5 L1686.0,595.5 L1687.0,595.5 L1688.0,595.5 L1689.0,595.5 L1690.0,595.5 L1691.0,595.5 L1692.0,595.5 L1693.0,595.5 L1694.0,595.5 L1695.0,595.5 L1696.0,595.5 L1697.0,595.5 L1698.0,595.5 L1699.0,595.5 L1700.0,595.5 L1701.0,595.5 L1702.0,595.5 L1703.0,595.5 L1704.0,595.5 L1705.0,595.5 L1706.0,595.5 L1707.0,595.5 L1708.0,595.5 L1709.0,595.5 L1710.0,595.5 L1711.0,595.5 L1712.0,595.5 L1713.0,595.5 L1714.0,595.5 L1715.0,595.5 L1716.0,595.5 L1717.0,595.5 L1718.0,595.5 L1719.0,595.5 L1720.0,595.5 L1721.0,595.5 L1722.0,595.5 L1723.0,595.5 L1724.0,595.5 L1725.0,595.5 L1726.0,595.5 L1727.0,595.5 L1728.0,595.5 L1729.0,595.5 L1730.0,595.5 L1731.0,595.5 L1732.0,595.5 L1733.0,595.5 L1734.0,595.5 L1735.0,595.5 L1736.0,595.5 L1737.0,595.5 L1738.0,595.5 L1739.0,595.5 L1740.0,595.5 L1741.0,595.5 L1742.0,595.5 L1743.0,595.5 L1744.0,595.5 L1745.0,595.5 L1746.0,595.5 L1747.0,595.5 L1748.0,595.5 L1749.0,595.5 L1750.0,595.5 L1751.0,595.5 L1752.0,595.5 L1753.0,595.5 L1754.0,595.5 L1755.0,595.5 L1756.0,595.5 L1757.0,595.5 L1758.0,595.5 L1759.0,595.5 L1760.0,595.5 L1761.0,595.5 L1762.0,595.5 L1763.0,595.5 L1764.0,595.5 L1765.0,595.5 L1766.0,595.5 L1767.0,595.5 L1768.0,595.5 L1769.0,595.5 L1770.0,595.5 L1771.0,595.5 L1772.0,595.5 L1773.0,595.5 L1774.0,595.5 L1775.0,595.5 L1776.0,595.5 L1777.0,595.5 L1778.0,595.5 L1779.0,595.5 L1780.0,595.5 L1781.0,595.5 L1782.0,595.5 L1783.0,595.5 L1784.0,595.5 L1785.0,595.5 L1786.0,595.5 L1787.0,595.5 L1788.0,595.5 L1789.0,595.5 L1790.0,595.5 L1791.0,595.5 L1792.0,595.5 L1793.0,595.5 L1794.0,595.5 L1795.0,595.5 L1796.0,595.5 L1797.0,595.5 L1798.0,595.5 L1799.0,595.5 L1800.0,595.5 L1801.0,595.5 L1802.0,595.5 L1803.0,595.5 L1804.0,595.5 L1805.0,595.5 L1806.0,595.5 L1807.0,595.5 L1808.0,595.5 L1809.0,595.5 L1810.0,595.5 L1811.0,595.5 L1812.0,595.5 L1813.0,595.5 L1814.0,595.5 L1815.0,595.5 L1816.0,595.5 L1817.0,595.5 L1818.0,595.5 L1819.0,595.5 L1820.0,595.5 L1821.0,595.5 L1822.0,595.5 L1823.0,595.5 L1824.0,595.5 L1825.0,595.5 L1826.0,595.5 L1827.0,595.5 L1828.0,595.5 L1829.0,595.5 L1830.0,595.5 L1831.0,595.5 L1832.0,595.5 L1833.0,595.5 L1834.0,595.5 L1835.0,595.5 L1836.0,595.5 L1837.0,595.5 L1838.0,595.5 L1839.0,595.5 L1840.0,595.5 L1841.0,595.5 L1842.0,595.5 L1843.0,595.5 L1844.0,595.5 L1845.0,595.5 L1846.0,595.5 L1847.0,595.5 L1848.0,595.5 L1849.0,595.5 L1850.0,595.5 L1851.0,595.5 L1852.0,595.5 L1853.0,595.5 L1854.0,595.5 L1855.0,595.5 L1856.0,595.5 L1857.0,595.5 L1858.0,595.5 L1859.0,595.5 L1860.0,595.5 L1861.0,595.5 L1862.0,595.5 L1863.0,595.5 L1864.0,595.5 L1865.0,595.5 L1866.0,595.5 L1867.0,595.5 L1868.0,595.5 L1869.0,595.5 L1870.0,595.5 L1871.0,595.5 L1872.0,595.5 L1873.0,595.5 L1874.0,595.5 L1875.0,595.5 L1876.0,595.5 L1877.0,595.5 L1878.0,595.5 L1879.0,595.5 L1880.0,595.5 L1881.0,595.5 L1882.0,595.5 L1883.0,595.5 L1884.0,595.5 L1885.0,595.5 L1886.0,595.5 L1887.0,595.5 L1888.0,595.5 L1889.0,595.5 L1890.0,595.5 L1891.0,595.5 L1892.0,595.5 L1893.0,595.5 L1894.0,595.5 L1895.0,595.5 L1896.0,595.5 L1897.0,595.5 L1898.0,595.5 L1899.0,595.5 L1900.0,595.5 L1901.0,595.5 L1902.0,595.5 L1903.0,595.5 L1904.0,595.5 L1905.0,595.5 L1906.0,595.5 L1907.0,595.5 L1908.0,595.5 L1909.0,595.5 L1910.0,595.5 L1911.0,595.5 L1912.0,595.5 L1913.0,595.5 L1914.0,595.5 L1915.0,595.5 L1916.0,595.5 L1917.0,595.5 L1918.0,595.5 L1919.0,595.5 L1920.0,595.5 L1921.0,595.5 L1922.0,595.5 L1923.0,595.5 L1924.0,595.5 L1925.0,595.5 L1926.0,595.5 L1927.0,595.5 L1928.0,595.5 L1929.0,595.5 L1930.0,595.5 L1931.0,595.5 L1932.0,595.5 L1933.0,595.5 L1934.0,595.5 L1935.0,595.5 L1936.0,595.5 L1937.0,595.5 L1938.0,595.5 L1939.0,595.5 L1940.0,595.5 L1941.0,595.5 L1942.0,595.5 L1943.0,595.5 L1944.0,595.5 L1945.0,595.5 L1946.0,595.5 L1947.0,595.5 L1948.0,595.5 L1949.0,595.5 L1950.0,595.5 L1951.0,595.5 L1952.0,595.5 L1953.0,595.5 L1954.0,595.5 L1955.0,595.5 L1956.0,595.5 L1957.0,595.5 L1958.0,595.5 L1959.0,595.5 L1960.0,595.5 L1961.0,595.5 L1962.0,595.5 L1963.0,595.5 L1964.0,595.5 L1965.0,595.5 L1966.0,595.5 L1967.0,595.5 L1968.0,595.5 L1969.0,595.5 L1970.0,595.5 L1971.0,595.5 L1972.0,595.5 L1973.0,595.5 L1974.0,595.5 L1975.0,595.5 L1976.0,595.5 L1977.0,595.5 L1978.0,595.5 L1979.0,595.5 L1980.0,595.5 L1981.0,595.5 L1982.0,595.5 L1983.0,595.5 L1984.0,595.5 L1985.0,595.5 L1986.0,595.5 L1987.0,595.5 L1988.0,595.5 L1989.0,595.5 L1990.0,595.5 L1991.0,595.5 L1992.0,595.5 L1993.0,595.5 L1994.0,595.5 L1995.0,595.5 L1996.0,595.5 L1997.0,595.5 L1998.0,595.5 L1999.0,595.5 L2000.0,595.5 L2001.0,595.5 L2002.0,595.5 L2003.0,595.5 L2004.0,595.5 L2005.0,595.5 L2006.0,595.5 L2007.0,595.5 L2008.0,595.5 L2009.0,595.5 L2010.0,595.5 L2011.0,595.5 L2012.0,595.5 L2013.0,595.5 L2014.0,595.5 L2015.0,595.5 L2016.0,595.5 L2017.0,595.5 L2018.0,595.5 L2019.0,595.5 L2020.0,595.5 L2021.0,595.5 L2022.0,595.5 L2023.0,595.5 L2024.0,595.5 L2025.0,595.5 L2026.0,595.5 L2027.0,595.5 L2028.0,595.5 L2029.0,595.5 L2030.0,595.5 L2031.0,595.5 L2032.0,595.5 L2033.0,595.5 L2034.0,595.5 L2035.0,595.5 L2036.0,595.5 L2037.0,595.5 L2038.0,595.5 L2039.0,595.5 L2040.0,595.5 L2041.0,595.5 L2042.0,595.5 L2043.0,595.5 L2044.0,595.5 L2045.0,595.5 L2046.0,595.5 L2047.0,595.5 L2048.0,595.5 L2049.0,595.5 L2050.0,595.5 L2051.0,595.5 L2052.0,595.5 L2053.0,595.5 L2054.0,595.5 L2055.0,595.5 L2056.0,595.5 L2057.0,595.5 L2058.0,595.5 L2059.0,595.5 L2060.0,595.5 L2061.0,595.5 L2062.0,595.5 L2063.0,595.5 L2064.0,595.5 L2065.0,595.5 L2066.0,595.5 L2067.0,595.5 L2068.0,595.5 L2069.0,595.5 L2070.0,595.5 L2071.0,595.5 L2072.0,595.5 L2073.0,595.5 L2074.0,595.5 L2075.0,595.5 L2076.0,595.5 L2077.0,595.5 L2078.0,595.5 L2079.0,595.5 L2080.0,595.5 L2081.0,595.5 L2082.0,595.5 L2083.0,595.5 L2084.0,595.5 L2085.0,595.5" fill="none" stroke="#0000ff" stroke-width="5.0" stroke-linejoin="round" stroke-linecap="round" />
<path d="M1420.0,595.5 L1420.5,595.5 L1421.0,595.5 L1421.5,595.5 L1422.0,595.5 L1422.5,595.5 L1423.0,595.5 L1423.5,595.5 L1424.0,595.5 L1424.5,595.5 L1425.0,595.5 L1425.5,595.5 L1426.0,595.5 L1426.5,595.5 L1427.0,595.5 L1427.5,595.5 L1428.0,595.5 L1428.5,595.5 L1429.0,595.5 L1429.5,595.5 L1430.0,595.4 L1430.5,595.4 L1431.0,595.4 L1431.5,595.4 L1432.0,595.4 L1432.5,595.4 L1433.0,595.4 L1433.5,595.4 L1434.0,595.4 L1434.5,595.4 L1435.0,595.4 L1435.5,595.4 L1436.0,595.4 L1436.5,595.4 L1437.0,595.4 L1437.5,595.3 L1438.0,595.3 L1438.5,595.3 L1439.0,595.3 L1439.5,595.3 L1440.0,595.3 L1440.5,595.3 L1441.0,595.3 L1441.5,595.3 L1442.0,595.3 L1442.5,595.3 L1443.0,595.2 L1443.5,595.2 L1444.0,595.2 L1444.5,595.2 L1445.0,595.2 L1445.5,595.2 L1446.0,595.2 L1446.5,595.2 L1447.0,595.2 L1447.5,595.2 L1448.0,595.1 L1448.5,595.1 L1449.0,595.1 L1449.5,595.1 L1450.0,595.1 L1450.5,595.1 L1451.0,595.1 L1451.5,595.1 L1452.0,595.0 L1452.5,595.0 L1453.0,595.0 L1453.5,595.0 L1454.0,595.0 L1454.5,595.0 L1455.0,595.0 L1455.5,595.0 L1456.0,594.9 L1456.5,594.9 L1457.0,594.9 L1457.5,594.9 L1458.0,594.9 L1458.5,594.9 L1459.0,594.9 L1459.5,594.8 L1460.0,594.8 L1460.5,594.8 L1461.0,594.8 L1461.5,594.8 L1462.0,594.8 L1462.5,594.8 L1463.0,594.7 L1463.5,594.7 L1464.0,594.7 L1464.5,594.7 L1465.0,594.7 L1465.5,594.7 L1466.0,594.7 L1466.5,594.6 L1467.0,594.6 L1467.5,594.6 L1468.0,594.6 L1468.5,594.6 L1469.0,594.6 L1469.5,594.6 L1470.0,594.5 L1470.5,594.5 L1471.0,594.5 L1471.5,594.5 L1472.0,594.5 L1472.5,594.5 L1473.0,594.4 L1473.5,594.4 L1474.0,594.4 L1474.5,594.4 L1475.0,594.4 L1475.5,594.4 L1476.0,594.4 L1476.5,594.3 L1477.0,594.3 L1477.5,594.3 L1478.0,594.3 L1478.5,594.3 L1479.0,594.3 L1479.5,594.2 L1480.0,594.2 L1480.5,594.2 L1481.0,594.2 L1481.5,594.2 L1482.0,594.1 L1482.5,594.1 L1483.0,594.1 L1483.5,594.1 L1484.0,594.1 L1484.5,594.1 L1485.0,594.0 L1485.5,594.0 L1486.0,594.0 L1486.5,594.0 L1487.0,594.0 L1487.5,593.9 L1488.0,593.9 L1488.5,593.9 L1489.0,593.9 L1489.5,593.8 L1490.0,593.8 L1490.5,593.8 L1491.0,593.8 L1491.5,593.7 L1492.0,593.7 L1492.5,593.7 L1493.0,593.7 L1493.5,593.7 L1494.0,593.6 L1494.5,593.6 L1495.0,593.6 L1495.5,593.5 L1496.0,593.5 L1496.5,593.5 L1497.0,593.5 L1497.5,593.4 L1498.0,593.4 L1498.5,593.4 L1499.0,593.3 L1499.5,593.3 L1500.0,593.3 L1500.5,593.3 L1501.0,593.2 L1501.5,593.2 L1502.0,593.2 L1502.5,593.1 L1503.0,593.1 L1503.5,593.1 L1504.0,593.0 L1504.5,593.0 L1505.0,593.0 L1505.5,592.9 L1506.0,592.9 L1506.5,592.9 L1507.0,592.8 L1507.5,592.8 L1508.0,592.7 L1508.5,592.7 L1509.0,592.7 L1509.5,592.6 L1510.0,592.6 L1510.5,592.5 L1511.0,592.5 L1511.5,592.5 L1512.0,592.4 L1512.5,592.4 L1513.0,592.3 L1513.5,592.3 L1514.0,592.2 L1514.5,592.2 L1515.0,592.1 L1515.5,592.1 L1516.0,592.1 L1516.5,592.0 L1517.0,592.0 L1517.5,591.9 L1518.0,591.9 L1518.5,591.8 L1519.0,591.8 L1519.5,591.7 L1520.0,591.6 L1520.5,591.6 L1521.0,591.5 L1521.5,591.5 L1522.0,591.4 L1522.5,591.4 L1523.0,591.3 L1523.5,591.3 L1524.0,591.2 L1524.5,591.1 L1525.0,591.1 L1525.5,591.0 L1526.0,591.0 L1526.5,590.9 L1527.0,590.8 L1527.5,590.8 L1528.0,590.7 L1528.5,590.6 L1529.0,590.6 L1529.5,590.5 L1530.0,590.4 L1530.5,590.4 L1531.0,590.3 L1531.5,590.2 L1532.0,590.1 L1532.5,590.0 L1533.0,589.9 L1533.5,589.8 L1534.0,589.7 L1534.5,589.6 L1535.0,589.4 L1535.5,589.3 L1536.0,589.2 L1536.5,589.0 L1537.0,588.9 L1537.5,588.7 L1538.0,588.5 L1538.5,588.3 L1539.0,588.2 L1539.5,588.0 L1540.0,587.8 L1540.5,587.5 L1541.0,587.3 L1541.5,587.1 L1542.0,586.9 L1542.5,586.6 L1543.0,586.4 L1543.5,586.1 L1544.0,585.9 L1544.5,585.6 L1545.0,585.3 L1545.5,585.0 L1546.0,584.7 L1546.5,584.4 L1547.0,584.1 L1547.5,583.8 L1548.0,583.4 L1548.5,583.1 L1549.0,582.7 L1549.5,582.4 L1550.0,582.0 L1550.5,581.6 L1551.0,581.3 L1551.5,580.9 L1552.0,580.5 L1552.5,580.0 L1553.0,579.6 L1553.5,579.2 L1554.0,578.7 L1554.5,578.3 L1555.0,577.8 L1555.5,577.4 L1556.0,576.9 L1556.5,576.4 L1557.0,575.9 L1557.5,575.4 L1558.0,574.8 L1558.5,574.2 L1559.0,573.4 L1559.5,572.5 L1560.0,571.6 L1560.5,570.5 L1561.0,569.4 L1561.5,568.1 L1562.0,566.8 L1562.5,565.3 L1563.0,563.8 L1563.5,562.2 L1564.0,560.5 L1564.5,558.7 L1565.0,556.9 L1565.5,554.9 L1566.0,552.9 L1566.5,550.8 L1567.0,548.7 L1567.5,546.5 L1568.0,544.2 L1568.5,541.8 L1569.0,539.4 L1569.5,536.9 L1570.0,534.4 L1570.5,531.8 L1571.0,529.0 L1571.5,526.0 L1572.0,522.7 L1572.5,519.0 L1573.0,515.1 L1573.5,510.9 L1574.0,506.4 L1574.5,501.6 L1575.0,496.6 L1575.5,491.2 L1576.0,485.6 L1576.5,479.7 L1577.0,473.5 L1577.5,467.0 L1578.0,460.2 L1578.5,453.2 L1579.0,445.9 L1579.5,437.4 L1580.0,427.2 L1580.5,415.4 L1581.0,402.3 L1581.5,388.3 L1582.0,373.6 L1582.5,358.5 L1583.0,343.2 L1583.5,328.0 L1584.0,313.2 L1584.5,299.1 L1585.0,285.9 L1585.5,274.0 L1586.0,262.7 L1586.5,251.2 L1587.0,239.8 L1587.5,228.6 L1588.0,217.6 L1588.5,207.1 L1589.0,197.1 L1589.5,187.9 L1590.0,179.5 L1590.5,172.1 L1591.0,165.8 L1591.5,160.6 L1592.0,156.0 L1592.5,151.9 L1593.0,148.1 L1593.5,144.4 L1594.0,140.6 L1594.5,136.9 L1595.0,133.5 L1595.5,129.8 L1596.0,125.4 L1596.5,118.3 L1597.0,108.7 L1597.5,99.1 L1598.0,92.1 L1598.5,90.1 L1599.0,92.9 L1599.5,98.7 L1600.0,106.5 L1600.5,115.3 L1601.0,127.0 L1601.5,143.3 L1602.0,162.0 L1602.5,181.2 L1603.0,199.6 L1603.5,219.0 L1604.0,239.4 L1604.5,260.3 L1605.0,281.4 L1605.5,302.3 L1606.0,322.7 L1606.5,342.2 L1607.0,360.4 L1607.5,377.9 L1608.0,395.2 L1608.5,412.3 L1609.0,428.8 L1609.5,444.7 L1610.0,459.8 L1610.5,474.0 L1611.0,487.1 L1611.5,499.1 L1612.0,511.2 L1612.5,523.2 L1613.0,534.9 L1613.5,545.8 L1614.0,555.6 L1614.5,564.0 L1615.0,570.5 L1615.5,574.7 L1616.0,577.2 L1616.5,579.4 L1617.0,581.3 L1617.5,583.1 L1618.0,584.6 L1618.5,586.0 L1619.0,587.1 L1619.5,588.2 L1620.0,589.0 L1620.5,589.8 L1621.0,590.4 L1621.5,591.0 L1622.0,591.6 L1622.5,592.1 L1623.0,592.6 L1623.5,593.1 L1624.0,593.5 L1624.5,593.9 L1625.0,594.1 L1625.5,594.3 L1626.0,594.5 L1626.5,594.5 L1627.0,594.5 L1627.5,594.5 L1628.0,594.6 L1628.5,594.6 L1629.0,594.6 L1629.5,594.6 L1630.0,594.6 L1630.5,594.6 L1631.0,594.7 L1631.5,594.7 L1632.0,594.7 L1632.5,594.7 L1633.0,594.7 L1633.5,594.7 L1634.0,594.8 L1634.5,594.8 L1635.0,594.8 L1635.5,594.8 L1636.0,594.8 L1636.5,594.8 L1637.0,594.8 L1637.5,594.9 L1638.0,594.9 L1638.5,594.9 L1639.0,594.9 L1639.5,594.9 L1640.0,594.9 L1640.5,594.9 L1641.0,594.9 L1641.5,595.0 L1642.0,595.0 L1642.5,595.0 L1643.0,595.0 L1643.5,595.0 L1644.0,595.0 L1644.5,595.0 L1645.0,595.0 L1645.5,595.1 L1646.0,595.1 L1646.5,595.1 L1647.0,595.1 L1647.5,595.1 L1648.0,595.1 L1648.5,595.1 L1649.0,595.1 L1649.5,595.1 L1650.0,595.1 L1650.5,595.2 L1651.0,595.2 L1651.5,595.2 L1652.0,595.2 L1652.5,595.2 L1653.0,595.2 L1653.5,595.2 L1654.0,595.2 L1654.5,595.2 L1655.0,595.2 L1655.5,595.2 L1656.0,595.2 L1656.5,595.3 L1657.0,595.3 L1657.5,595.3 L1658.0,595.3 L1658.5,595.3 L1659.0,595.3 L1659.5,595.3 L1660.0,595.3 L1660.5,595.3 L1661.0,595.3 L1661.5,595.3 L1662.0,595.3 L1662.5,595.3 L1663.0,595.3 L1663.5,595.3 L1664.0,595.3 L1664.5,595.4 L1665.0,595.4 L1665.5,595.4 L1666.0,595.4 L1666.5,595.4 L1667.0,595.4 L1667.5,595.4 L1668.0,595.4 L1668.5,595.4 L1669.0,595.4 L1669.5,595.4 L1670.0,595.4 L1670.5,595.4 L1671.0,595.4 L1671.5,595.4 L1672.0,595.4 L1672.5,595.4 L1673.0,595.4 L1673.5,595.4 L1674.0,595.4 L1674.5,595.4 L1675.0,595.4 L1675.5,595.4 L1676.0,595.4 L1676.5,595.4 L1677.0,595.5 L1677.5,595.5 L1678.0,595.5 L1678.5,595.5 L1679.0,595.5 L1679.5,595.5 L1680.0,595.5 L1680.5,595.5 L1681.0,595.5 L1681.5,595.5 L1682.0,595.5 L1682.5,595.5 L1683.0,595.5 L1683.5,595.5 L1684.0,595.5 L1684.5,595.5 L1685.0,595.5 L1685.5,595.5 L1686.0,595.5 L1686.5,595.5 L1687.0,595.5 L1687.5,595.5 L1688.0,595.5 L1688.5,595.5 L1689.0,595.5 L1689.5,595.5 L1690.0,595.5 L1690.5,595.5 L1691.0,595.5 L1691.5,595.5 L1692.0,595.5 L1692.5,595.5 L1693.0,595.5 L1693.5,595.5 L1694.0,595.5 L1694.5,595.5 L1695.0,595.5 L1695.5,595.5 L1696.0,595.5 L1696.5,595.5 L1697.0,595.5 L1697.5,595.5 L1698.0,595.5 L1698.5,595.5 L1699.0,595.5 L1699.5,595.5 L1700.0,595.5 L1700.5,595.5 L1701.0,595.5 L1701.5,595.5 L1702.0,595.5 L1702.5,595.5 L1703.0,595.5 L1703.5,595.5 L1704.0,595.5 L1704.5,595.5 L1705.0,595.5 L1705.5,595.5 L1706.0,595.5 L1706.5,595.5 L1707.0,595.5 L1707.5,595.5 L1708.0,595.5 L1708.5,595.5 L1709.0,595.5 L1709.5,595.5 L1710.0,595.5 L1710.5,595.5 L1711.0,595.5 L1711.5,595.5 L1712.0,595.5 L1712.5,595.5 L1713.0,595.5 L1713.5,595.5 L1714.0,595.5 L1714.5,595.5 L1715.0,595.5 L1715.5,595.5 L1716.0,595.5 L1716.5,595.5 L1717.0,595.5 L1717.5,595.5 L1718.0,595.5 L1718.5,595.5 L1719.0,595.5 L1719.5,595.5 L1720.0,595.5 L1720.5,595.5 L1721.0,595.5 L1721.5,595.5 L1722.0,595.5 L1722.5,595.5 L1723.0,595.5 L1723.5,595.5 L1724.0,595.5 L1724.5,595.5 L1725.0,595.5 L1725.5,595.5 L1726.0,595.5 L1726.5,595.5 L1727.0,595.5 L1727.5,595.5 L1728.0,595.5 L1728.5,595.5 L1729.0,595.5 L1729.5,595.5 L1730.0,595.5 L1730.5,595.5 L1731.0,595.5 L1731.5,595.5 L1732.0,595.5 L1732.5,595.5 L1733.0,595.5 L1733.5,595.5 L1734.0,595.5 L1734.5,595.5 L1735.0,595.5 L1735.5,595.5 L1736.0,595.5 L1736.5,595.5 L1737.0,595.5 L1737.5,595.5 L1738.0,595.5 L1738.5,595.5 L1739.0,595.5 L1739.5,595.5 L1740.0,595.5 L1740.5,595.5 L1741.0,595.5 L1741.5,595.5 L1742.0,595.5 L1742.5,595.5 L1743.0,595.5 L1743.5,595.5 L1744.0,595.5 L1744.5,595.5 L1745.0,595.5 L1745.5,595.5 L1746.0,595.5 L1746.5,595.5 L1747.0,595.5 L1747.5,595.5 L1748.0,595.5 L1748.5,595.5 L1749.0,595.5 L1749.5,595.5 L1750.0,595.5 L1750.5,595.5 L1751.0,595.5 L1751.5,595.5 L1752.0,595.5 L1752.5,595.5 L1753.0,595.5 L1753.5,595.5 L1754.0,595.5 L1754.5,595.5 L1755.0,595.5 L1755.5,595.5 L1756.0,595.5 L1756.5,595.5 L1757.0,595.5 L1757.5,595.5 L1758.0,595.5 L1758.5,595.5 L1759.0,595.5 L1759.5,595.5 L1760.0,595.5 L1760.5,595.5 L1761.0,595.5 L1761.5,595.5 L1762.0,595.5 L1762.5,595.5 L1763.0,595.5 L1763.5,595.5 L1764.0,595.5 L1764.5,595.5 L1765.0,595.5 L1765.5,595.5 L1766.0,595.5 L1766.5,595.5 L1767.0,595.5 L1767.5,595.5 L1768.0,595.5 L1768.5,595.5 L1769.0,595.5 L1769.5,595.5 L1770.0,595.5 L1770.5,595.5 L1771.0,595.5 L1771.5,595.5 L1772.0,595.5 L1772.5,595.5 L1773.0,595.5 L1773.5,595.5 L1774.0,595.5 L1774.5,595.5 L1775.0,595.5 L1775.5,595.5 L1776.0,595.5 L1776.5,595.5 L1777.0,595.5 L1777.5,595.5 L1778.0,595.5 L1778.5,595.5 L1779.0,595.5 L1779.5,595.5 L1780.0,595.5 L1780.5,595.5 L1781.0,595.5 L1781.5,595.5 L1782.0,595.5 L1782.5,595.5 L1783.0,595.5 L1783.5,595.5 L1784.0,595.5 L1784.5,595.5 L1785.0,595.5 L1785.5,595.5 L1786.0,595.5 L1786.5,595.5 L1787.0,595.5 L1787.5,595.5 L1788.0,595.5 L1788.5,595.5 L1789.0,595.5 L1789.5,595.5 L1790.0,595.5 L1790.5,595.5 L1791.0,595.5 L1791.5,595.5 L1792.0,595.5 L1792.5,595.5 L1793.0,595.5 L1793.5,595.5 L1794.0,595.5 L1794.5,595.5 L1795.0,595.5 L1795.5,595.5 L1796.0,595.5 L1796.5,595.5 L1797.0,595.5 L1797.5,595.5 L1798.0,595.5 L1798.5,595.5 L1799.0,595.5 L1799.5,595.5 L1800.0,595.5 L1800.5,595.5 L1801.0,595.5 L1801.5,595.5 L1802.0,595.5 L1802.5,595.5 L1803.0,595.5 L1803.5,595.5 L1804.0,595.5 L1804.5,595.5 L1805.0,595.5 L1805.5,595.5 L1806.0,595.5 L1806.5,595.5 L1807.0,595.5 L1807.5,595.5 L1808.0,595.5 L1808.5,595.5 L1809.0,595.5 L1809.5,595.5 L1810.0,595.5 L1810.5,595.5 L1811.0,595.5 L1811.5,595.5 L1812.0,595.5 L1812.5,595.5 L1813.0,595.5 L1813.5,595.5 L1814.0,595.5 L1814.5,595.5 L1815.0,595.5 L1815.5,595.5 L1816.0,595.5 L1816.5,595.5 L1817.0,595.5 L1817.5,595.5 L1818.0,595.5 L1818.5,595.5 L1819.0,595.5 L1819.5,595.5 L1820.0,595.5 L1820.5,595.5 L1821.0,595.5 L1821.5,595.5 L1822.0,595.5 L1822.5,595.5 L1823.0,595.5 L1823.5,595.5 L1824.0,595.5 L1824.5,595.5 L1825.0,595.5 L1825.5,595.5 L1826.0,595.5 L1826.5,595.5 L1827.0,595.5 L1827.5,595.5 L1828.0,595.5 L1828.5,595.5 L1829.0,595.5 L1829.5,595.5 L1830.0,595.5 L1830.5,595.5 L1831.0,595.5 L1831.5,595.5 L1832.0,595.5 L1832.5,595.5 L1833.0,595.5 L1833.5,595.5 L1834.0,595.5 L1834.5,595.5 L1835.0,595.5 L1835.5,595.5 L1836.0,595.5 L1836.5,595.5 L1837.0,595.5 L1837.5,595.5 L1838.0,595.5 L1838.5,595.5 L1839.0,595.5 L1839.5,595.5 L1840.0,595.5 L1840.5,595.5 L1841.0,595.5 L1841.5,595.5 L1842.0,595.5 L1842.5,595.5 L1843.0,595.5 L1843.5,595.5 L1844.0,595.5 L1844.5,595.5 L1845.0,595.5 L1845.5,595.5 L1846.0,595.5 L1846.5,595.5 L1847.0,595.5 L1847.5,595.5 L1848.0,595.5 L1848.5,595.5 L1849.0,595.5 L1849.5,595.5 L1850.0,595.5 L1850.5,595.5 L1851.0,595.5 L1851.5,595.5 L1852.0,595.5 L1852.5,595.5 L1853.0,595.5 L1853.5,595.5 L1854.0,595.5 L1854.5,595.5 L1855.0,595.5 L1855.5,595.5 L1856.0,595.5 L1856.5,595.5 L1857.0,595.5 L1857.5,595.5 L1858.0,595.5 L1858.5,595.5 L1859.0,595.5 L1859.5,595.5 L1860.0,595.5 L1860.5,595.5 L1861.0,595.5 L1861.5,595.5 L1862.0,595.5 L1862.5,595.5 L1863.0,595.5 L1863.5,595.5 L1864.0,595.5 L1864.5,595.5 L1865.0,595.5 L1865.5,595.5 L1866.0,595.5 L1866.5,595.5 L1867.0,595.5 L1867.5,595.5 L1868.0,595.5 L1868.5,595.5 L1869.0,595.5 L1869.5,595.5 L1870.0,595.5 L1870.5,595.5 L1871.0,595.5 L1871.5,595.5 L1872.0,595.5 L1872.5,595.5 L1873.0,595.5 L1873.5,595.5 L1874.0,595.5 L1874.5,595.5 L1875.0,595.5 L1875.5,595.5 L1876.0,595.5 L1876.5,595.5 L1877.0,595.5 L1877.5,595.5 L1878.0,595.5 L1878.5,595.5 L1879.0,595.5 L1879.5,595.5 L1880.0,595.5 L1880.5,595.5 L1881.0,595.5 L1881.5,595.5 L1882.0,595.5 L1882.5,595.5 L1883.0,595.5 L1883.5,595.5 L1884.0,595.5 L1884.5,595.5 L1885.0,595.5 L1885.5,595.5 L1886.0,595.5 L1886.5,595.5 L1887.0,595.5 L1887.5,595.5 L1888.0,595.5 L1888.5,595.5 L1889.0,595.5 L1889.5,595.5 L1890.0,595.5 L1890.5,595.5 L1891.0,595.5 L1891.5,595.5 L1892.0,595.5 L1892.5,595.5 L1893.0,595.5 L1893.5,595.5 L1894.0,595.5 L1894.5,595.5 L1895.0,595.5 L1895.5,595.5 L1896.0,595.5 L1896.5,595.5 L1897.0,595.5 L1897.5,595.5 L1898.0,595.5 L1898.5,595.5 L1899.0,595.5 L1899.5,595.5 L1900.0,595.5 L1900.5,595.5 L1901.0,595.5 L1901.5,595.5 L1902.0,595.5 L1902.5,595.5 L1903.0,595.5 L1903.5,595.5 L1904.0,595.5 L1904.5,595.5 L1905.0,595.5 L1905.5,595.5 L1906.0,595.5 L1906.5,595.5 L1907.0,595.5 L1907.5,595.5 L1908.0,595.5 L1908.5,595.5 L1909.0,595.5 L1909.5,595.5 L1910.0,595.5 L1910.5,595.5 L1911.0,595.5 L1911.5,595.5 L1912.0,595.5 L1912.5,595.5 L1913.0,595.5 L1913.5,595.5 L1914.0,595.5 L1914.5,595.5 L1915.0,595.5 L1915.5,595.5 L1916.0,595.5 L1916.5,595.5 L1917.0,595.5 L1917.5,595.5 L1918.0,595.5 L1918.5,595.5 L1919.0,595.5 L1919.5,595.5 L1920.0,595.5 L1920.5,595.5 L1921.0,595.5 L1921.5,595.5 L1922.0,595.5 L1922.5,595.5 L1923.0,595.5 L1923.5,595.5 L1924.0,595.5 L1924.5,595.5 L1925.0,595.5 L1925.5,595.5 L1926.0,595.5 L1926.5,595.5 L1927.0,595.5 L1927.5,595.5 L1928.0,595.5 L1928.5,595.5 L1929.0,595.5 L1929.5,595.5 L1930.0,595.5 L1930.5,595.5 L1931.0,595.5 L1931.5,595.5 L1932.0,595.5 L1932.5,595.5 L1933.0,595.5 L1933.5,595.5 L1934.0,595.5 L1934.5,595.5 L1935.0,595.5 L1935.5,595.5 L1936.0,595.5 L1936.5,595.5 L1937.0,595.5 L1937.5,595.5 L1938.0,595.5 L1938.5,595.5 L1939.0,595.5 L1939.5,595.5 L1940.0,595.5 L1940.5,595.5 L1941.0,595.5 L1941.5,595.5 L1942.0,595.5 L1942.5,595.5 L1943.0,595.5 L1943.5,595.5 L1944.0,595.5 L1944.5,595.5 L1945.0,595.5 L1945.5,595.5 L1946.0,595.5 L1946.5,595.5 L1947.0,595.5 L1947.5,595.5 L1948.0,595.5 L1948.5,595.5 L1949.0,595.5 L1949.5,595.5 L1950.0,595.5 L1950.5,595.5 L1951.0,595.5 L1951.5,595.5 L1952.0,595.5 L1952.5,595.5 L1953.0,595.5 L1953.5,595.5 L1954.0,595.5 L1954.5,595.5 L1955.0,595.5 L1955.5,595.5 L1956.0,595.5 L1956.5,595.5 L1957.0,595.5 L1957.5,595.5 L1958.0,595.5 L1958.5,595.5 L1959.0,595.5 L1959.5,595.5 L1960.0,595.5 L1960.5,595.5 L1961.0,595.5 L1961.5,595.5 L1962.0,595.5 L1962.5,595.5 L1963.0,595.5 L1963.5,595.5 L1964.0,595.5 L1964.5,595.5 L1965.0,595.5 L1965.5,595.5 L1966.0,595.5 L1966.5,595.5 L1967.0,595.5 L1967.5,595.5 L1968.0,595.5 L1968.5,595.5 L1969.0,595.5 L1969.5,595.5 L1970.0,595.5 L1970.5,595.5 L1971.0,595.5 L1971.5,595.5 L1972.0,595.5 L1972.5,595.5 L1973.0,595.5 L1973.5,595.5 L1974.0,595.5 L1974.5,595.5 L1975.0,595.5 L1975.5,595.5 L1976.0,595.5 L1976.5,595.5 L1977.0,595.5 L1977.5,595.5 L1978.0,595.5 L1978.5,595.5 L1979.0,595.5 L1979.5,595.5 L1980.0,595.5 L1980.5,595.5 L1981.0,595.5 L1981.5,595.5 L1982.0,595.5 L1982.5,595.5 L1983.0,595.5 L1983.5,595.5 L1984.0,595.5 L1984.5,595.5 L1985.0,595.5 L1985.5,595.5 L1986.0,595.5 L1986.5,595.5 L1987.0,595.5 L1987.5,595.5 L1988.0,595.5 L1988.5,595.5 L1989.0,595.5 L1989.5,595.5 L1990.0,595.5 L1990.5,595.5 L1991.0,595.5 L1991.5,595.5 L1992.0,595.5 L1992.5,595.5 L1993.0,595.5 L1993.5,595.5 L1994.0,595.5 L1994.5,595.5 L1995.0,595.5 L1995.5,595.5 L1996.0,595.5 L1996.5,595.5 L1997.0,595.5 L1997.5,595.5 L1998.0,595.5 L1998.5,595.5 L1999.0,595.5 L1999.5,595.5 L2000.0,595.5 L2000.5,595.5 L2001.0,595.5 L2001.5,595.5 L2002.0,595.5 L2002.5,595.5 L2003.0,595.5 L2003.5,595.5 L2004.0,595.5 L2004.5,595.5 L2005.0,595.5 L2005.5,595.5 L2006.0,595.5 L2006.5,595.5 L2007.0,595.5 L2007.5,595.5 L2008.0,595.5 L2008.5,595.5 L2009.0,595.5 L2009.5,595.5 L2010.0,595.5 L2010.5,595.5 L2011.0,595.5 L2011.5,595.5 L2012.0,595.5 L2012.5,595.5 L2013.0,595.5 L2013.5,595.5 L2014.0,595.5 L2014.5,595.5 L2015.0,595.5 L2015.5,595.5 L2016.0,595.5 L2016.5,595.5 L2017.0,595.5 L2017.5,595.5 L2018.0,595.5 L2018.5,595.5 L2019.0,595.5 L2019.5,595.5 L2020.0,595.5 L2020.5,595.5 L2021.0,595.5 L2021.5,595.5 L2022.0,595.5 L2022.5,595.5 L2023.0,595.5 L2023.5,595.5 L2024.0,595.5 L2024.5,595.5 L2025.0,595.5 L2025.5,595.5 L2026.0,595.5 L2026.5,595.5 L2027.0,595.5 L2027.5,595.5 L2028.0,595.5 L2028.5,595.5 L2029.0,595.5 L2029.5,595.5 L2030.0,595.5 L2030.5,595.5 L2031.0,595.5 L2031.5,595.5 L2032.0,595.5 L2032.5,595.5 L2033.0,595.5 L2033.5,595.5 L2034.0,595.5 L2034.5,595.5 L2035.0,595.5 L2035.5,595.5 L2036.0,595.5 L2036.5,595.5 L2037.0,595.5 L2037.5,595.5 L2038.0,595.5 L2038.5,595.5 L2039.0,595.5 L2039.5,595.5 L2040.0,595.5 L2040.5,595.5 L2041.0,595.5 L2041.5,595.5 L2042.0,595.5 L2042.5,595.5 L2043.0,595.5 L2043.5,595.5 L2044.0,595.5 L2044.5,595.5 L2045.0,595.5 L2045.5,595.5 L2046.0,595.5 L2046.5,595.5 L2047.0,595.5 L2047.5,595.5 L2048.0,595.5 L2048.5,595.5 L2049.0,595.5 L2049.5,595.5 L2050.0,595.5 L2050.5,595.5 L2051.0,595.5 L2051.5,595.5 L2052.0,595.5 L2052.5,595.5 L2053.0,595.5 L2053.5,595.5 L2054.0,595.5 L2054.5,595.5 L2055.0,595.5 L2055.5,595.5 L2056.0,595.5 L2056.5,595.5 L2057.0,595.5 L2057.5,595.5 L2058.0,595.5 L2058.5,595.5 L2059.0,595.5 L2059.5,595.5 L2060.0,595.5 L2060.5,595.5 L2061.0,595.5 L2061.5,595.5 L2062.0,595.5 L2062.5,595.5 L2063.0,595.5 L2063.5,595.5 L2064.0,595.5 L2064.5,595.5 L2065.0,595.5 L2065.5,595.5 L2066.0,595.5 L2066.5,595.5 L2067.0,595.5 L2067.5,595.5 L2068.0,595.5 L2068.5,595.5 L2069.0,595.5 L2069.5,595.5 L2070.0,595.5 L2070.5,595.5 L2071.0,595.5 L2071.5,595.5 L2072.0,595.5 L2072.5,595.5 L2073.0,595.5 L2073.5,595.5 L2074.0,595.5 L2074.5,595.5 L2075.0,595.5 L2075.5,595.5 L2076.0,595.5 L2076.5,595.5 L2077.0,595.5 L2077.5,595.5 L2078.0,595.5 L2078.5,595.5 L2079.0,595.5 L2079.5,595.5 L2080.0,595.5 L2080.5,595.5 L2081.0,595.5 L2081.5,595.5 L2082.0,595.5 L2082.5,595.5 L2083.0,595.5 L2083.5,595.5 L2084.0,595.5 L2084.5,595.5 L2085.0,595.5" fill="none" stroke="#ff0000" stroke-width="5.0" stroke-linejoin="round" stroke-linecap="round" />
<path d="M1350.0,595.5 L1351.0,595.5 L1352.0,595.5 L1353.0,595.5 L1354.0,595.5 L1355.0,595.5 L1356.0,595.5 L1357.0,595.5 L1358.0,595.5 L1359.0,595.5 L1360.0,595.5 L1361.0,595.5 L1362.0,595.5 L1363.0,595.5 L1364.0,595.5 L1365.0,595.5 L1366.0,595.5 L1367.0,595.5 L1368.0,595.5 L1369.0,595.4 L1370.0,595.4 L1371.0,595.4 L1372.0,595.4 L1373.0,595.4 L1374.0,595.4 L1375.0,595.4 L1376.0,595.4 L1377.0,595.4 L1378.0,595.4 L1379.0,595.4 L1380.0,595.4 L1381.0,595.4 L1382.0,595.3 L1383.0,595.3 L1384.0,595.3 L1385.0,595.3 L1386.0,595.3 L1387.0,595.3 L1388.0,595.3 L1389.0,595.3 L1390.0,595.3 L1391.0,595.2 L1392.0,595.2 L1393.0,595.2 L1394.0,595.2 L1395.0,595.2 L1396.0,595.2 L1397.0,595.2 L1398.0,595.1 L1399.0,595.1 L1400.0,595.1 L1401.0,595.1 L1402.0,595.1 L1403.0,595.1 L1404.0,595.1 L1405.0,595.0 L1406.0,595.0 L1407.0,595.0 L1408.0,595.0 L1409.0,595.0 L1410.0,594.9 L1411.0,594.9 L1412.0,594.9 L1413.0,594.9 L1414.0,594.9 L1415.0,594.8 L1416.0,594.8 L1417.0,594.8 L1418.0,594.8 L1419.0,594.8 L1420.0,594.7 L1421.0,594.7 L1422.0,594.7 L1423.0,594.7 L1424.0,594.6 L1425.0,594.6 L1426.0,594.6 L1427.0,594.6 L1428.0,594.5 L1429.0,594.5 L1430.0,594.5 L1431.0,594.4 L1432.0,594.4 L1433.0,594.3 L1434.0,594.3 L1435.0,594.2 L1436.0,594.1 L1437.0,594.0 L1438.0,593.9 L1439.0,593.8 L1440.0,593.7 L1441.0,593.5 L1442.0,593.4 L1443.0,593.3 L1444.0,593.1 L1445.0,593.0 L1446.0,592.8 L1447.0,592.7 L1448.0,592.5 L1449.0,592.4 L1450.0,592.2 L1451.0,592.1 L1452.0,591.9 L1453.0,591.8 L1454.0,591.6 L1455.0,591.5 L1456.0,591.3 L1457.0,591.2 L1458.0,591.0 L1459.0,590.9 L1460.0,590.7 L1461.0,590.6 L1462.0,590.4 L1463.0,590.3 L1464.0,590.1 L1465.0,589.9 L1466.0,589.8 L1467.0,589.6 L1468.0,589.4 L1469.0,589.2 L1470.0,589.1 L1471.0,588.9 L1472.0,588.7 L1473.0,588.5 L1474.0,588.3 L1475.0,588.0 L1476.0,587.8 L1477.0,587.6 L1478.0,587.3 L1479.0,587.1 L1480.0,586.8 L1481.0,586.5 L1482.0,586.2 L1483.0,585.9 L1484.0,585.5 L1485.0,585.1 L1486.0,584.7 L1487.0,584.3 L1488.0,583.9 L1489.0,583.4 L1490.0,582.9 L1491.0,582.4 L1492.0,581.9 L1493.0,581.4 L1494.0,580.9 L1495.0,580.3 L1496.0,579.8 L1497.0,579.2 L1498.0,578.5 L1499.0,577.9 L1500.0,577.2 L1501.0,576.5 L1502.0,575.7 L1503.0,574.9 L1504.0,574.1 L1505.0,573.3 L1506.0,572.4 L1507.0,571.6 L1508.0,570.7 L1509.0,569.8 L1510.0,568.8 L1511.0,567.9 L1512.0,566.9 L1513.0,565.8 L1514.0,564.7 L1515.0,563.6 L1516.0,562.4 L1517.0,561.2 L1518.0,560.0 L1519.0,558.7 L1520.0,557.5 L1521.0,556.2 L1522.0,554.9 L1523.0,553.5 L1524.0,552.2 L1525.0,550.8 L1526.0,549.4 L1527.0,548.1 L1528.0,546.7 L1529.0,545.3 L1530.0,543.9 L1531.0,542.5 L1532.0,541.1 L1533.0,539.6 L1534.0,538.2 L1535.0,536.7 L1536.0,535.3 L1537.0,533.8 L1538.0,532.3 L1539.0,530.8 L1540.0,529.2 L1541.0,527.7 L1542.0,526.1 L1543.0,524.5 L1544.0,522.9 L1545.0,521.2 L1546.0,519.6 L1547.0,517.9 L1548.0,516.2 L1549.0,514.5 L1550.0,512.7 L1551.0,510.9 L1552.0,509.1 L1553.0,507.3 L1554.0,505.4 L1555.0,503.6 L1556.0,501.7 L1557.0,499.8 L1558.0,497.9 L1559.0,496.0 L1560.0,494.0 L1561.0,492.0 L1562.0,490.0 L1563.0,488.0 L1564.0,485.9 L1565.0,483.7 L1566.0,481.5 L1567.0,479.2 L1568.0,476.9 L1569.0,474.5 L1570.0,472.0 L1571.0,469.4 L1572.0,466.7 L1573.0,463.9 L1574.0,461.0 L1575.0,458.0 L1576.0,454.6 L1577.0,450.9 L1578.0,447.0 L1579.0,442.8 L1580.0,438.3 L1581.0,433.7 L1582.0,429.0 L1583.0,424.2 L1584.0,419.3 L1585.0,414.3 L1586.0,409.4 L1587.0,404.6 L1588.0,399.8 L1589.0,395.1 L1590.0,390.6 L1591.0,386.3 L1592.0,382.2 L1593.0,378.1 L1594.0,373.8 L1595.0,369.5 L1596.0,365.3 L1597.0,361.4 L1598.0,357.9 L1599.0,355.0 L1600.0,352.9 L1601.0,351.2 L1602.0,349.5 L1603.0,348.0 L1604.0,346.6 L1605.0,345.3 L1606.0,344.3 L1607.0,343.5 L1608.0,343.0 L1609.0,342.8 L1610.0,342.8 L1611.0,343.0 L1612.0,343.3 L1613.0,343.8 L1614.0,344.3 L1615.0,344.8 L1616.0,345.4 L1617.0,346.0 L1618.0,346.6 L1619.0,347.2 L1620.0,347.8 L1621.0,348.3 L1622.0,348.8 L1623.0,349.3 L1624.0,349.8 L1625.0,350.3 L1626.0,350.8 L1627.0,351.4 L1628.0,352.0 L1629.0,352.7 L1630.0,353.4 L1631.0,354.2 L1632.0,355.1 L1633.0,356.1 L1634.0,357.5 L1635.0,359.2 L1636.0,361.4 L1637.0,363.8 L1638.0,366.4 L1639.0,369.2 L1640.0,372.1 L1641.0,375.1 L1642.0,378.0 L1643.0,380.8 L1644.0,383.5 L1645.0,386.2 L1646.0,389.0 L1647.0,391.8 L1648.0,394.6 L1649.0,397.5 L1650.0,400.4 L1651.0,403.4 L1652.0,406.3 L1653.0,409.3 L1654.0,412.4 L1655.0,415.4 L1656.0,418.5 L1657.0,421.5 L1658.0,424.6 L1659.0,427.7 L1660.0,430.8 L1661.0,434.0 L1662.0,437.1 L1663.0,440.2 L1664.0,443.3 L1665.0,446.4 L1666.0,449.5 L1667.0,452.7 L1668.0,456.0 L1669.0,459.3 L1670.0,462.6 L1671.0,466.0 L1672.0,469.4 L1673.0,472.9 L1674.0,476.3 L1675.0,479.7 L1676.0,483.1 L1677.0,486.5 L1678.0,489.8 L1679.0,493.1 L1680.0,496.3 L1681.0,499.5 L1682.0,502.6 L1683.0,505.6 L1684.0,508.5 L1685.0,511.4 L1686.0,514.1 L1687.0,516.7 L1688.0,519.3 L1689.0,521.9 L1690.0,524.5 L1691.0,527.2 L1692.0,529.7 L1693.0,532.3 L1694.0,534.8 L1695.0,537.3 L1696.0,539.7 L1697.0,542.1 L1698.0,544.4 L1699.0,546.7 L1700.0,548.8 L1701.0,550.9 L1702.0,552.9 L1703.0,554.7 L1704.0,556.5 L1705.0,558.1 L1706.0,559.7 L1707.0,561.0 L1708.0,562.3 L1709.0,563.4 L1710.0,564.5 L1711.0,565.6 L1712.0,566.6 L1713.0,567.6 L1714.0,568.6 L1715.0,569.5 L1716.0,570.4 L1717.0,571.3 L1718.0,572.1 L1719.0,572.9 L1720.0,573.7 L1721.0,574.4 L1722.0,575.1 L1723.0,575.8 L1724.0,576.4 L1725.0,577.0 L1726.0,577.6 L1727.0,578.1 L1728.0,578.7 L1729.0,579.1 L1730.0,579.6 L1731.0,580.0 L1732.0,580.5 L1733.0,580.9 L1734.0,581.3 L1735.0,581.7 L1736.0,582.0 L1737.0,582.4 L1738.0,582.8 L1739.0,583.1 L1740.0,583.4 L1741.0,583.7 L1742.0,584.0 L1743.0,584.3 L1744.0,584.6 L1745.0,584.8 L1746.0,585.1 L1747.0,585.3 L1748.0,585.5 L1749.0,585.7 L1750.0,585.9 L1751.0,586.1 L1752.0,586.2 L1753.0,586.4 L1754.0,586.6 L1755.0,586.8 L1756.0,586.9 L1757.0,587.1 L1758.0,587.3 L1759.0,587.4 L1760.0,587.6 L1761.0,587.8 L1762.0,587.9 L1763.0,588.1 L1764.0,588.2 L1765.0,588.4 L1766.0,588.5 L1767.0,588.7 L1768.0,588.8 L1769.0,588.9 L1770.0,589.1 L1771.0,589.2 L1772.0,589.3 L1773.0,589.4 L1774.0,589.5 L1775.0,589.6 L1776.0,589.7 L1777.0,589.8 L1778.0,589.9 L1779.0,590.0 L1780.0,590.1 L1781.0,590.1 L1782.0,590.2 L1783.0,590.3 L1784.0,590.3 L1785.0,590.3 L1786.0,590.4 L1787.0,590.4 L1788.0,590.4 L1789.0,590.4 L1790.0,590.4 L1791.0,590.4 L1792.0,590.4 L1793.0,590.4 L1794.0,590.4 L1795.0,590.4 L1796.0,590.4 L1797.0,590.4 L1798.0,590.3 L1799.0,590.3 L1800.0,590.3 L1801.0,590.3 L1802.0,590.2 L1803.0,590.2 L1804.0,590.2 L1805.0,590.1 L1806.0,590.1 L1807.0,590.1 L1808.0,590.0 L1809.0,590.0 L1810.0,589.9 L1811.0,589.9 L1812.0,589.9 L1813.0,589.8 L1814.0,589.8 L1815.0,589.8 L1816.0,589.7 L1817.0,589.7 L1818.0,589.7 L1819.0,589.6 L1820.0,589.6 L1821.0,589.6 L1822.0,589.5 L1823.0,589.5 L1824.0,589.5 L1825.0,589.5 L1826.0,589.5 L1827.0,589.5 L1828.0,589.4 L1829.0,589.4 L1830.0,589.4 L1831.0,589.4 L1832.0,589.5 L1833.0,589.5 L1834.0,589.5 L1835.0,589.6 L1836.0,589.6 L1837.0,589.7 L1838.0,589.7 L1839.0,589.8 L1840.0,589.9 L1841.0,590.0 L1842.0,590.1 L1843.0,590.2 L1844.0,590.3 L1845.0,590.4 L1846.0,590.5 L1847.0,590.6 L1848.0,590.7 L1849.0,590.8 L1850.0,591.0 L1851.0,591.1 L1852.0,591.2 L1853.0,591.3 L1854.0,591.4 L1855.0,591.6 L1856.0,591.7 L1857.0,591.8 L1858.0,591.9 L1859.0,592.0 L1860.0,592.1 L1861.0,592.3 L1862.0,592.4 L1863.0,592.5 L1864.0,592.5 L1865.0,592.6 L1866.0,592.7 L1867.0,592.8 L1868.0,592.9 L1869.0,592.9 L1870.0,593.0 L1871.0,593.0 L1872.0,593.1 L1873.0,593.1 L1874.0,593.2 L1875.0,593.2 L1876.0,593.3 L1877.0,593.3 L1878.0,593.4 L1879.0,593.4 L1880.0,593.5 L1881.0,593.5 L1882.0,593.6 L1883.0,593.6 L1884.0,593.6 L1885.0,593.7 L1886.0,593.7 L1887.0,593.8 L1888.0,593.8 L1889.0,593.9 L1890.0,593.9 L1891.0,594.0 L1892.0,594.0 L1893.0,594.1 L1894.0,594.1 L1895.0,594.1 L1896.0,594.2 L1897.0,594.2 L1898.0,594.3 L1899.0,594.3 L1900.0,594.3 L1901.0,594.4 L1902.0,594.4 L1903.0,594.5 L1904.0,594.5 L1905.0,594.5 L1906.0,594.6 L1907.0,594.6 L1908.0,594.7 L1909.0,594.7 L1910.0,594.7 L1911.0,594.8 L1912.0,594.8 L1913.0,594.8 L1914.0,594.9 L1915.0,594.9 L1916.0,594.9 L1917.0,595.0 L1918.0,595.0 L1919.0,595.0 L1920.0,595.0 L1921.0,595.1 L1922.0,595.1 L1923.0,595.1 L1924.0,595.2 L1925.0,595.2 L1926.0,595.2 L1927.0,595.2 L1928.0,595.2 L1929.0,595.3 L1930.0,595.3 L1931.0,595.3 L1932.0,595.3 L1933.0,595.3 L1934.0,595.4 L1935.0,595.4 L1936.0,595.4 L1937.0,595.4 L1938.0,595.4 L1939.0,595.4 L1940.0,595.4 L1941.0,595.5 L1942.0,595.5 L1943.0,595.5 L1944.0,595.5 L1945.0,595.5 L1946.0,595.5 L1947.0,595.5 L1948.0,595.5 L1949.0,595.5 L1950.0,595.5 L1951.0,595.5 L1952.0,595.5 L1953.0,595.5 L1954.0,595.5 L1955.0,595.5 L1956.0,595.5 L1957.0,595.5 L1958.0,595.5 L1959.0,595.5 L1960.0,595.5 L1961.0,595.5 L1962.0,595.5 L1963.0,595.5 L1964.0,595.5 L1965.0,595.5 L1966.0,595.5 L1967.0,595.5 L1968.0,595.5 L1969.0,595.5 L1970.0,595.5 L1971.0,595.5 L1972.0,595.5 L1973.0,595.5 L1974.0,595.5 L1975.0,595.5 L1976.0,595.5 L1977.0,595.5 L1978.0,595.5 L1979.0,595.5 L1980.0,595.5 L1981.0,595.5 L1982.0,595.5 L1983.0,595.5 L1984.0,595.5 L1985.0,595.5 L1986.0,595.5 L1987.0,595.5 L1988.0,595.5 L1989.0,595.5 L1990.0,595.5 L1991.0,595.5 L1992.0,595.5 L1993.0,595.5 L1994.0,595.5 L1995.0,595.5 L1996.0,595.5 L1997.0,595.5 L1998.0,595.5 L1999.0,595.5 L2000.0,595.5 L2001.0,595.5 L2002.0,595.5 L2003.0,595.5 L2004.0,595.5 L2005.0,595.5 L2006.0,595.5 L2007.0,595.5 L2008.0,595.5 L2009.0,595.5 L2010.0,595.5 L2011.0,595.5 L2012.0,595.5 L2013.0,595.5 L2014.0,595.5 L2015.0,595.5 L2016.0,595.5 L2017.0,595.5 L2018.0,595.5 L2019.0,595.5 L2020.0,595.5 L2021.0,595.5 L2022.0,595.5 L2023.0,595.5 L2024.0,595.5 L2025.0,595.5 L2026.0,595.5 L2027.0,595.5 L2028.0,595.5 L2029.0,595.5 L2030.0,595.5 L2031.0,595.5 L2032.0,595.5 L2033.0,595.5 L2034.0,595.5 L2035.0,595.5 L2036.0,595.5 L2037.0,595.5 L2038.0,595.5 L2039.0,595.5 L2040.0,595.5 L2041.0,595.5 L2042.0,595.5 L2043.0,595.5 L2044.0,595.5 L2045.0,595.5 L2046.0,595.5 L2047.0,595.5 L2048.0,595.5 L2049.0,595.5 L2050.0,595.5 L2051.0,595.5 L2052.0,595.5 L2053.0,595.5 L2054.0,595.5 L2055.0,595.5 L2056.0,595.5 L2057.0,595.5 L2058.0,595.5 L2059.0,595.5 L2060.0,595.5 L2061.0,595.5 L2062.0,595.5 L2063.0,595.5 L2064.0,595.5 L2065.0,595.5 L2066.0,595.5 L2067.0,595.5 L2068.0,595.5 L2069.0,595.5 L2070.0,595.5 L2071.0,595.5 L2072.0,595.5 L2073.0,595.5 L2074.0,595.5 L2075.0,595.5 L2076.0,595.5 L2077.0,595.5 L2078.0,595.5 L2079.0,595.5 L2080.0,595.5 L2081.0,595.5 L2082.0,595.5 L2083.0,595.5 L2084.0,595.5 L2085.0,595.5" fill="none" stroke="#0000ff" stroke-width="5.0" stroke-linejoin="round" stroke-linecap="round" />
<path d="M1309.0,1151.0 L1310.0,1151.0 L1311.0,1151.0 L1312.0,1151.0 L1313.0,1151.0 L1314.0,1151.0 L1315.0,1151.0 L1316.0,1151.0 L1317.0,1151.0 L1318.0,1151.0 L1319.0,1151.0 L1320.0,1151.0 L1321.0,1151.0 L1322.0,1151.0 L1323.0,1151.0 L1324.0,1151.0 L1325.0,1151.0 L1326.0,1151.0 L1327.0,1151.0 L1328.0,1151.0 L1329.0,1151.0 L1330.0,1151.0 L1331.0,1151.0 L1332.0,1151.0 L1333.0,1151.0 L1334.0,1151.0 L1335.0,1151.0 L1336.0,1151.0 L1337.0,1151.0 L1338.0,1151.0 L1339.0,1151.0 L1340.0,1151.0 L1341.0,1151.0 L1342.0,1151.0 L1343.0,1151.0 L1344.0,1151.0 L1345.0,1151.0 L1346.0,1151.0 L1347.0,1151.0 L1348.0,1151.0 L1349.0,1151.0 L1350.0,1151.0 L1351.0,1151.0 L1352.0,1151.0 L1353.0,1151.0 L1354.0,1151.0 L1355.0,1151.0 L1356.0,1151.0 L1357.0,1151.0 L1358.0,1151.0 L1359.0,1151.0 L1360.0,1151.0 L1361.0,1151.0 L1362.0,1151.0 L1363.0,1151.0 L1364.0,1151.0 L1365.0,1151.0 L1366.0,1151.0 L1367.0,1151.0 L1368.0,1151.0 L1369.0,1151.0 L1370.0,1151.0 L1371.0,1151.0 L1372.0,1151.0 L1373.0,1151.0 L1374.0,1151.0 L1375.0,1151.0 L1376.0,1151.0 L1377.0,1151.0 L1378.0,1151.0 L1379.0,1151.0 L1380.0,1151.0 L1381.0,1151.0 L1382.0,1151.0 L1383.0,1151.0 L1384.0,1151.0 L1385.0,1151.0 L1386.0,1151.0 L1387.0,1151.0 L1388.0,1151.0 L1389.0,1151.0 L1390.0,1151.0 L1391.0,1151.0 L1392.0,1151.0 L1393.0,1151.0 L1394.0,1151.0 L1395.0,1151.0 L1396.0,1151.0 L1397.0,1151.0 L1398.0,1151.0 L1399.0,1151.0 L1400.0,1151.0 L1401.0,1151.0 L1402.0,1151.0 L1403.0,1151.0 L1404.0,1151.0 L1405.0,1151.0 L1406.0,1151.0 L1407.0,1151.0 L1408.0,1151.0 L1409.0,1151.0 L1410.0,1151.0 L1411.0,1151.0 L1412.0,1151.0 L1413.0,1151.0 L1414.0,1151.0 L1415.0,1151.0 L1416.0,1151.0 L1417.0,1151.0 L1418.0,1151.0 L1419.0,1151.0 L1420.0,1151.0 L1421.0,1151.0 L1422.0,1151.0 L1423.0,1151.0 L1424.0,1151.0 L1425.0,1151.0 L1426.0,1151.0 L1427.0,1151.0 L1428.0,1151.0 L1429.0,1151.0 L1430.0,1151.0 L1431.0,1151.0 L1432.0,1151.0 L1433.0,1151.0 L1434.0,1151.0 L1435.0,1151.0 L1436.0,1151.0 L1437.0,1151.0 L1438.0,1151.0 L1439.0,1151.0 L1440.0,1151.0 L1441.0,1151.0 L1442.0,1151.0 L1443.0,1151.0 L1444.0,1151.0 L1445.0,1151.0 L1446.0,1151.0 L1447.0,1151.0 L1448.0,1151.0 L1449.0,1151.0 L1450.0,1151.0 L1451.0,1151.0 L1452.0,1151.0 L1453.0,1151.0 L1454.0,1151.0 L1455.0,1151.0 L1456.0,1151.0 L1457.0,1151.0 L1458.0,1151.0 L1459.0,1151.0 L1460.0,1151.0 L1461.0,1151.0 L1462.0,1151.0 L1463.0,1151.0 L1464.0,1151.0 L1465.0,1151.0 L1466.0,1151.0 L1467.0,1151.0 L1468.0,1151.0 L1469.0,1151.0 L1470.0,1151.0 L1471.0,1151.0 L1472.0,1151.0 L1473.0,1151.0 L1474.0,1151.0 L1475.0,1151.0 L1476.0,1151.0 L1477.0,1151.0 L1478.0,1151.0 L1479.0,1151.0 L1480.0,1151.0 L1481.0,1151.0 L1482.0,1151.0 L1483.0,1151.0 L1484.0,1151.0 L1485.0,1151.0 L1486.0,1151.0 L1487.0,1151.0 L1488.0,1151.0 L1489.0,1151.0 L1490.0,1151.0 L1491.0,1151.0 L1492.0,1151.0 L1493.0,1151.0 L1494.0,1151.0 L1495.0,1151.0 L1496.0,1151.0 L1497.0,1151.0 L1498.0,1151.0 L1499.0,1151.0 L1500.0,1151.0 L1501.0,1151.0 L1502.0,1151.0 L1503.0,1151.0 L1504.0,1151.0 L1505.0,1151.0 L1506.0,1151.0 L1507.0,1151.0 L1508.0,1151.0 L1509.0,1151.0 L1510.0,1151.0 L1511.0,1151.0 L1512.0,1151.0 L1513.0,1151.0 L1514.0,1151.0 L1515.0,1151.0 L1516.0,1151.0 L1517.0,1151.0 L1518.0,1151.0 L1519.0,1151.0 L1520.0,1151.0 L1521.0,1151.0 L1522.0,1151.0 L1523.0,1151.0 L1524.0,1151.0 L1525.0,1151.0 L1526.0,1151.0 L1527.0,1151.0 L1528.0,1151.0 L1529.0,1151.0 L1530.0,1151.0 L1531.0,1151.0 L1532.0,1151.0 L1533.0,1151.0 L1534.0,1151.0 L1535.0,1151.0 L1536.0,1151.0 L1537.0,1151.0 L1538.0,1151.0 L1539.0,1151.0 L1540.0,1151.0 L1541.0,1151.0 L1542.0,1151.0 L1543.0,1151.0 L1544.0,1151.0 L1545.0,1151.0 L1546.0,1151.0 L1547.0,1151.0 L1548.0,1151.0 L1549.0,1151.0 L1550.0,1151.0 L1551.0,1151.0 L1552.0,1151.0 L1553.0,1151.0 L1554.0,1151.0 L1555.0,1151.0 L1556.0,1151.0 L1557.0,1151.0 L1558.0,1151.0 L1559.0,1151.0 L1560.0,1151.0 L1561.0,1151.0 L1562.0,1151.0 L1563.0,1151.0 L1564.0,1151.0 L1565.0,1151.0 L1566.0,1151.0 L1567.0,1151.0 L1568.0,1151.0 L1569.0,1151.0 L1570.0,1151.0 L1571.0,1151.0 L1572.0,1151.0 L1573.0,1151.0 L1574.0,1151.0 L1575.0,1151.0 L1576.0,1151.0 L1577.0,1151.0 L1578.0,1151.0 L1579.0,1151.0 L1580.0,1151.0 L1581.0,1151.0 L1582.0,1151.0 L1583.0,1151.0 L1584.0,1151.0 L1585.0,1151.0 L1586.0,1151.0 L1587.0,1151.0 L1588.0,1151.0 L1589.0,1151.0 L1590.0,1151.0 L1591.0,1151.0 L1592.0,1151.0 L1593.0,1151.0 L1594.0,1151.0 L1595.0,1151.0 L1596.0,1151.0 L1597.0,1151.0 L1598.0,1151.0 L1599.0,1151.0 L1600.0,1151.0 L1601.0,1151.0 L1602.0,1151.0 L1603.0,1151.0 L1604.0,1151.0 L1605.0,1151.0 L1606.0,1151.0 L1607.0,1151.0 L1608.0,1151.0 L1609.0,1151.0 L1610.0,1151.0 L1611.0,1151.0 L1612.0,1151.0 L1613.0,1151.0 L1614.0,1151.0 L1615.0,1151.0 L1616.0,1151.0 L1617.0,1151.0 L1618.0,1151.0 L1619.0,1151.0 L1620.0,1151.0 L1621.0,1151.0 L1622.0,1151.0 L1623.0,1151.0 L1624.0,1151.0 L1625.0,1151.0 L1626.0,1151.0 L1627.0,1151.0 L1628.0,1151.0 L1629.0,1151.0 L1630.0,1151.0 L1631.0,1151.0 L1632.0,1151.0 L1633.0,1151.0 L1634.0,1151.0 L1635.0,1151.0 L1636.0,1151.0 L1637.0,1151.0 L1638.0,1151.0 L1639.0,1151.0 L1640.0,1151.0 L1641.0,1151.0 L1642.0,1151.0 L1643.0,1151.0 L1644.0,1151.0 L1645.0,1151.0 L1646.0,1151.0 L1647.0,1151.0 L1648.0,1151.0 L1649.0,1151.0 L1650.0,1151.0 L1651.0,1151.0 L1652.0,1151.0 L1653.0,1151.0 L1654.0,1151.0 L1655.0,1151.0 L1656.0,1151.0 L1657.0,1151.0 L1658.0,1151.0 L1659.0,1151.0 L1660.0,1151.0 L1661.0,1151.0 L1662.0,1151.0 L1663.0,1151.0 L1664.0,1151.0 L1665.0,1151.0 L1666.0,1151.0 L1667.0,1151.0 L1668.0,1151.0 L1669.0,1151.0 L1670.0,1151.0 L1671.0,1151.0 L1672.0,1151.0 L1673.0,1151.0 L1674.0,1151.0 L1675.0,1151.0 L1676.0,1151.0 L1677.0,1151.0 L1678.0,1151.0 L1679.0,1151.0 L1680.0,1151.0 L1681.0,1151.0 L1682.0,1151.0 L1683.0,1151.0 L1684.0,1151.0 L1685.0,1151.0 L1686.0,1151.0 L1687.0,1151.0 L1688.0,1151.0 L1689.0,1151.0 L1690.0,1151.0 L1691.0,1151.0 L1692.0,1151.0 L1693.0,1151.0 L1694.0,1151.0 L1695.0,1151.0 L1696.0,1151.0 L1697.0,1151.0 L1698.0,1151.0 L1699.0,1151.0 L1700.0,1151.0 L1701.0,1151.0 L1702.0,1151.0 L1703.0,1151.0 L1704.0,1151.0 L1705.0,1151.0 L1706.0,1151.0 L1707.0,1151.0 L1708.0,1151.0 L1709.0,1151.0 L1710.0,1151.0 L1711.0,1151.0 L1712.0,1151.0 L1713.0,1151.0 L1714.0,1151.0 L1715.0,1151.0 L1716.0,1151.0 L1717.0,1151.0 L1718.0,1151.0 L1719.0,1151.0 L1720.0,1151.0 L1721.0,1151.0 L1722.0,1151.0 L1723.0,1151.0 L1724.0,1151.0 L1725.0,1151.0 L1726.0,1151.0 L1727.0,1151.0 L1728.0,1151.0 L1729.0,1151.0 L1730.0,1151.0 L1731.0,1151.0 L1732.0,1151.0 L1733.0,1151.0 L1734.0,1151.0 L1735.0,1151.0 L1736.0,1151.0 L1737.0,1151.0 L1738.0,1151.0 L1739.0,1151.0 L1740.0,1151.0 L1741.0,1151.0 L1742.0,1151.0 L1743.0,1151.0 L1744.0,1151.0 L1745.0,1151.0 L1746.0,1151.0 L1747.0,1151.0 L1748.0,1151.0 L1749.0,1151.0 L1750.0,1151.0 L1751.0,1151.0 L1752.0,1151.0 L1753.0,1151.0 L1754.0,1151.0 L1755.0,1151.0 L1756.0,1151.0 L1757.0,1151.0 L1758.0,1151.0 L1759.0,1151.0 L1760.0,1151.0 L1761.0,1151.0 L1762.0,1151.0 L1763.0,1151.0 L1764.0,1151.0 L1765.0,1151.0 L1766.0,1151.0 L1767.0,1151.0 L1768.0,1151.0 L1769.0,1151.0 L1770.0,1151.0 L1771.0,1151.0 L1772.0,1151.0 L1773.0,1151.0 L1774.0,1151.0 L1775.0,1151.0 L1776.0,1151.0 L1777.0,1151.0 L1778.0,1151.0 L1779.0,1151.0 L1780.0,1151.0 L1781.0,1151.0 L1782.0,1151.0 L1783.0,1151.0 L1784.0,1151.0 L1785.0,1151.0 L1786.0,1151.0 L1787.0,1151.0 L1788.0,1151.0 L1789.0,1151.0 L1790.0,1151.0 L1791.0,1151.0 L1792.0,1151.0 L1793.0,1151.0 L1794.0,1151.0 L1795.0,1151.0 L1796.0,1151.0 L1797.0,1151.0 L1798.0,1151.0 L1799.0,1151.0 L1800.0,1151.0 L1801.0,1151.0 L1802.0,1151.0 L1803.0,1151.0 L1804.0,1151.0 L1805.0,1151.0 L1806.0,1151.0 L1807.0,1151.0 L1808.0,1151.0 L1809.0,1151.0 L1810.0,1151.0 L1811.0,1151.0 L1812.0,1151.0 L1813.0,1151.0 L1814.0,1151.0 L1815.0,1151.0 L1816.0,1151.0 L1817.0,1151.0 L1818.0,1151.0 L1819.0,1151.0 L1820.0,1151.0 L1821.0,1151.0 L1822.0,1151.0 L1823.0,1151.0 L1824.0,1151.0 L1825.0,1151.0 L1826.0,1151.0 L1827.0,1151.0 L1828.0,1151.0 L1829.0,1151.0 L1830.0,1151.0 L1831.0,1151.0 L1832.0,1151.0 L1833.0,1151.0 L1834.0,1151.0 L1835.0,1151.0 L1836.0,1151.0 L1837.0,1151.0 L1838.0,1151.0 L1839.0,1151.0 L1840.0,1151.0 L1841.0,1151.0 L1842.0,1151.0 L1843.0,1151.0 L1844.0,1151.0 L1845.0,1151.0 L1846.0,1151.0 L1847.0,1151.0 L1848.0,1151.0 L1849.0,1151.0 L1850.0,1151.0 L1851.0,1151.0 L1852.0,1151.0 L1853.0,1151.0 L1854.0,1151.0 L1855.0,1151.0 L1856.0,1151.0 L1857.0,1151.0 L1858.0,1151.0 L1859.0,1151.0 L1860.0,1151.0 L1861.0,1151.0 L1862.0,1151.0 L1863.0,1151.0 L1864.0,1151.0 L1865.0,1151.0 L1866.0,1151.0 L1867.0,1151.0 L1868.0,1151.0 L1869.0,1151.0 L1870.0,1151.0 L1871.0,1151.0 L1872.0,1151.0 L1873.0,1151.0 L1874.0,1151.0 L1875.0,1151.0 L1876.0,1151.0 L1877.0,1151.0 L1878.0,1151.0 L1879.0,1151.0 L1880.0,1151.0 L1881.0,1151.0 L1882.0,1151.0 L1883.0,1151.0 L1884.0,1151.0 L1885.0,1151.0 L1886.0,1151.0 L1887.0,1151.0 L1888.0,1151.0 L1889.0,1151.0 L1890.0,1151.0 L1891.0,1151.0 L1892.0,1151.0 L1893.0,1151.0 L1894.0,1151.0 L1895.0,1151.0 L1896.0,1151.0 L1897.0,1151.0 L1898.0,1151.0 L1899.0,1151.0 L1900.0,1151.0 L1901.0,1151.0 L1902.0,1151.0 L1903.0,1151.0 L1904.0,1151.0 L1905.0,1151.0 L1906.0,1151.0 L1907.0,1151.0 L1908.0,1151.0 L1909.0,1151.0 L1910.0,1151.0 L1911.0,1151.0 L1912.0,1151.0 L1913.0,1151.0 L1914.0,1151.0 L1915.0,1151.0 L1916.0,1151.0 L1917.0,1151.0 L1918.0,1151.0 L1919.0,1151.0 L1920.0,1151.0 L1921.0,1151.0 L1922.0,1151.0 L1923.0,1151.0 L1924.0,1151.0 L1925.0,1151.0 L1926.0,1151.0 L1927.0,1151.0 L1928.0,1151.0 L1929.0,1151.0 L1930.0,1151.0 L1931.0,1151.0 L1932.0,1151.0 L1933.0,1151.0 L1934.0,1151.0 L1935.0,1151.0 L1936.0,1151.0 L1937.0,1151.0 L1938.0,1151.0 L1939.0,1151.0 L1940.0,1151.0 L1941.0,1151.0 L1942.0,1151.0 L1943.0,1151.0 L1944.0,1151.0 L1945.0,1151.0 L1946.0,1151.0 L1947.0,1151.0 L1948.0,1151.0 L1949.0,1151.0 L1950.0,1151.0 L1951.0,1151.0 L1952.0,1151.0 L1953.0,1151.0 L1954.0,1151.0 L1955.0,1151.0 L1956.0,1151.0 L1957.0,1151.0 L1958.0,1151.0 L1959.0,1151.0 L1960.0,1151.0 L1961.0,1151.0 L1962.0,1151.0 L1963.0,1151.0 L1964.0,1151.0 L1965.0,1151.0 L1966.0,1151.0 L1967.0,1151.0 L1968.0,1151.0 L1969.0,1151.0 L1970.0,1151.0 L1971.0,1151.0 L1972.0,1151.0 L1973.0,1151.0 L1974.0,1151.0 L1975.0,1151.0 L1976.0,1151.0 L1977.0,1151.0 L1978.0,1151.0 L1979.0,1151.0 L1980.0,1151.0 L1981.0,1151.0 L1982.0,1151.0 L1983.0,1151.0 L1984.0,1151.0 L1985.0,1151.0 L1986.0,1151.0 L1987.0,1151.0 L1988.0,1151.0 L1989.0,1151.0 L1990.0,1151.0 L1991.0,1151.0 L1992.0,1151.0 L1993.0,1151.0 L1994.0,1151.0 L1995.0,1151.0 L1996.0,1151.0 L1997.0,1151.0 L1998.0,1151.0 L1999.0,1151.0 L2000.0,1151.0 L2001.0,1151.0 L2002.0,1151.0 L2003.0,1151.0 L2004.0,1151.0 L2005.0,1151.0 L2006.0,1151.0 L2007.0,1151.0 L2008.0,1151.0 L2009.0,1151.0 L2010.0,1151.0 L2011.0,1151.0 L2012.0,1151.0 L2013.0,1151.0 L2014.0,1151.0 L2015.0,1151.0 L2016.0,1151.0 L2017.0,1151.0 L2018.0,1151.0 L2019.0,1151.0 L2020.0,1151.0 L2021.0,1151.0 L2022.0,1151.0 L2023.0,1151.0 L2024.0,1151.0 L2025.0,1151.0 L2026.0,1151.0 L2027.0,1151.0 L2028.0,1151.0 L2029.0,1151.0 L2030.0,1151.0 L2031.0,1151.0 L2032.0,1151.0 L2033.0,1151.0 L2034.0,1151.0 L2035.0,1151.0 L2036.0,1151.0 L2037.0,1151.0 L2038.0,1151.0 L2039.0,1151.0 L2040.0,1151.0 L2041.0,1151.0 L2042.0,1151.0 L2043.0,1151.0 L2044.0,1151.0 L2045.0,1151.0 L2046.0,1151.0 L2047.0,1151.0 L2048.0,1151.0 L2049.0,1151.0 L2050.0,1151.0 L2051.0,1151.0 L2052.0,1151.0 L2053.0,1151.0 L2054.0,1151.0 L2055.0,1151.0 L2056.0,1151.0 L2057.0,1151.0 L2058.0,1151.0 L2059.0,1151.0 L2060.0,1151.0 L2061.0,1151.0 L2062.0,1151.0 L2063.0,1151.0 L2064.0,1151.0 L2065.0,1151.0 L2066.0,1151.0 L2067.0,1151.0 L2068.0,1151.0 L2069.0,1151.0 L2070.0,1151.0 L2071.0,1151.0 L2072.0,1151.0 L2073.0,1151.0 L2074.0,1151.0 L2075.0,1151.0 L2076.0,1151.0 L2077.0,1151.0 L2078.0,1151.0 L2079.0,1151.0 L2080.0,1151.0 L2081.0,1151.0 L2082.0,1151.0 L2083.0,1151.0 L2084.0,1151.0 L2085.0,1151.0" fill="none" stroke="#0000ff" stroke-width="5.0" stroke-linejoin="round" stroke-linecap="round" />
<path d="M1550.0,1151.0 L1550.5,1151.0 L1551.0,1151.0 L1551.5,1151.0 L1552.0,1150.9 L1552.5,1150.9 L1553.0,1150.9 L1553.5,1150.9 L1554.0,1150.9 L1554.5,1150.9 L1555.0,1150.9 L1555.5,1150.8 L1556.0,1150.8 L1556.5,1150.8 L1557.0,1150.8 L1557.5,1150.8 L1558.0,1150.8 L1558.5,1150.8 L1559.0,1150.7 L1559.5,1150.7 L1560.0,1150.7 L1560.5,1150.7 L1561.0,1150.7 L1561.5,1150.7 L1562.0,1150.6 L1562.5,1150.6 L1563.0,1150.6 L1563.5,1150.6 L1564.0,1150.6 L1564.5,1150.6 L1565.0,1150.5 L1565.5,1150.5 L1566.0,1150.5 L1566.5,1150.5 L1567.0,1150.5 L1567.5,1150.4 L1568.0,1150.4 L1568.5,1150.4 L1569.0,1150.4 L1569.5,1150.4 L1570.0,1150.3 L1570.5,1150.3 L1571.0,1150.3 L1571.5,1150.3 L1572.0,1150.3 L1572.5,1150.2 L1573.0,1150.2 L1573.5,1150.2 L1574.0,1150.2 L1574.5,1150.2 L1575.0,1150.1 L1575.5,1150.1 L1576.0,1150.1 L1576.5,1150.1 L1577.0,1150.1 L1577.5,1150.0 L1578.0,1150.0 L1578.5,1150.0 L1579.0,1150.0 L1579.5,1150.0 L1580.0,1149.9 L1580.5,1149.9 L1581.0,1149.9 L1581.5,1149.9 L1582.0,1149.8 L1582.5,1149.8 L1583.0,1149.8 L1583.5,1149.8 L1584.0,1149.8 L1584.5,1149.7 L1585.0,1149.7 L1585.5,1149.7 L1586.0,1149.7 L1586.5,1149.6 L1587.0,1149.6 L1587.5,1149.6 L1588.0,1149.6 L1588.5,1149.6 L1589.0,1149.5 L1589.5,1149.5 L1590.0,1149.5 L1590.5,1149.5 L1591.0,1149.4 L1591.5,1149.4 L1592.0,1149.4 L1592.5,1149.4 L1593.0,1149.4 L1593.5,1149.3 L1594.0,1149.3 L1594.5,1149.3 L1595.0,1149.3 L1595.5,1149.3 L1596.0,1149.2 L1596.5,1149.2 L1597.0,1149.2 L1597.5,1149.2 L1598.0,1149.1 L1598.5,1149.1 L1599.0,1149.1 L1599.5,1149.1 L1600.0,1149.0 L1600.5,1149.0 L1601.0,1149.0 L1601.5,1149.0 L1602.0,1148.9 L1602.5,1148.9 L1603.0,1148.9 L1603.5,1148.8 L1604.0,1148.8 L1604.5,1148.8 L1605.0,1148.7 L1605.5,1148.7 L1606.0,1148.6 L1606.5,1148.6 L1607.0,1148.6 L1607.5,1148.5 L1608.0,1148.5 L1608.5,1148.4 L1609.0,1148.3 L1609.5,1148.2 L1610.0,1148.1 L1610.5,1148.0 L1611.0,1147.9 L1611.5,1147.7 L1612.0,1147.6 L1612.5,1147.4 L1613.0,1147.2 L1613.5,1147.0 L1614.0,1146.8 L1614.5,1146.6 L1615.0,1146.4 L1615.5,1146.1 L1616.0,1145.9 L1616.5,1145.6 L1617.0,1145.3 L1617.5,1145.1 L1618.0,1144.8 L1618.5,1144.4 L1619.0,1144.1 L1619.5,1143.8 L1620.0,1143.5 L1620.5,1143.1 L1621.0,1142.7 L1621.5,1142.4 L1622.0,1142.0 L1622.5,1141.6 L1623.0,1141.2 L1623.5,1140.8 L1624.0,1140.4 L1624.5,1139.9 L1625.0,1139.5 L1625.5,1139.0 L1626.0,1138.6 L1626.5,1138.0 L1627.0,1137.4 L1627.5,1136.8 L1628.0,1136.0 L1628.5,1135.2 L1629.0,1134.3 L1629.5,1133.4 L1630.0,1132.4 L1630.5,1131.3 L1631.0,1130.2 L1631.5,1129.0 L1632.0,1127.8 L1632.5,1126.6 L1633.0,1125.2 L1633.5,1123.9 L1634.0,1122.5 L1634.5,1121.0 L1635.0,1119.5 L1635.5,1118.0 L1636.0,1116.4 L1636.5,1114.8 L1637.0,1113.2 L1637.5,1111.5 L1638.0,1109.8 L1638.5,1108.1 L1639.0,1106.3 L1639.5,1104.6 L1640.0,1102.8 L1640.5,1101.0 L1641.0,1099.1 L1641.5,1097.3 L1642.0,1095.3 L1642.5,1093.2 L1643.0,1091.0 L1643.5,1088.7 L1644.0,1086.4 L1644.5,1083.9 L1645.0,1081.3 L1645.5,1078.6 L1646.0,1075.8 L1646.5,1073.0 L1647.0,1070.0 L1647.5,1067.0 L1648.0,1063.9 L1648.5,1060.8 L1649.0,1057.6 L1649.5,1054.3 L1650.0,1050.9 L1650.5,1047.5 L1651.0,1044.0 L1651.5,1040.5 L1652.0,1036.9 L1652.5,1033.3 L1653.0,1029.7 L1653.5,1026.0 L1654.0,1022.2 L1654.5,1018.4 L1655.0,1014.6 L1655.5,1010.8 L1656.0,1007.0 L1656.5,1003.1 L1657.0,999.2 L1657.5,995.2 L1658.0,991.1 L1658.5,986.9 L1659.0,982.6 L1659.5,978.2 L1660.0,973.7 L1660.5,969.2 L1661.0,964.5 L1661.5,959.7 L1662.0,954.9 L1662.5,949.9 L1663.0,944.9 L1663.5,939.8 L1664.0,934.6 L1664.5,929.4 L1665.0,924.1 L1665.5,918.7 L1666.0,913.3 L1666.5,907.8 L1667.0,902.2 L1667.5,896.6 L1668.0,890.9 L1668.5,885.2 L1669.0,879.4 L1669.5,873.6 L1670.0,867.8 L1670.5,861.8 L1671.0,855.7 L1671.5,849.4 L1672.0,843.0 L1672.5,836.4 L1673.0,829.7 L1673.5,822.8 L1674.0,815.8 L1674.5,808.7 L1675.0,801.5 L1675.5,794.2 L1676.0,786.8 L1676.5,779.0 L1677.0,770.7 L1677.5,762.0 L1678.0,753.3 L1678.5,744.6 L1679.0,736.2 L1679.5,728.3 L1680.0,721.1 L1680.5,713.9 L1681.0,706.1 L1681.5,698.5 L1682.0,691.6 L1682.5,685.9 L1683.0,682.0 L1683.5,680.6 L1684.0,683.8 L1684.5,691.3 L1685.0,700.3 L1685.5,707.8 L1686.0,711.0 L1686.5,709.6 L1687.0,706.2 L1687.5,701.3 L1688.0,695.8 L1688.5,685.8 L1689.0,670.6 L1689.5,655.6 L1690.0,646.2 L1690.5,646.4 L1691.0,653.0 L1691.5,663.4 L1692.0,675.5 L1692.5,687.0 L1693.0,695.8 L1693.5,702.1 L1694.0,707.9 L1694.5,713.1 L1695.0,717.9 L1695.5,722.4 L1696.0,726.8 L1696.5,731.1 L1697.0,735.6 L1697.5,740.2 L1698.0,745.1 L1698.5,750.5 L1699.0,756.5 L1699.5,763.0 L1700.0,770.1 L1700.5,777.7 L1701.0,785.7 L1701.5,794.1 L1702.0,802.8 L1702.5,811.7 L1703.0,820.9 L1703.5,830.2 L1704.0,839.6 L1704.5,849.0 L1705.0,858.5 L1705.5,867.8 L1706.0,877.1 L1706.5,886.1 L1707.0,895.0 L1707.5,903.5 L1708.0,911.8 L1708.5,919.9 L1709.0,928.1 L1709.5,936.4 L1710.0,944.8 L1710.5,953.2 L1711.0,961.6 L1711.5,969.9 L1712.0,978.1 L1712.5,986.2 L1713.0,994.1 L1713.5,1001.8 L1714.0,1009.2 L1714.5,1016.4 L1715.0,1023.2 L1715.5,1029.6 L1716.0,1035.6 L1716.5,1041.2 L1717.0,1046.3 L1717.5,1051.2 L1718.0,1056.1 L1718.5,1060.9 L1719.0,1065.7 L1719.5,1070.4 L1720.0,1075.1 L1720.5,1079.6 L1721.0,1084.0 L1721.5,1088.3 L1722.0,1092.5 L1722.5,1096.4 L1723.0,1100.2 L1723.5,1103.8 L1724.0,1107.2 L1724.5,1110.4 L1725.0,1113.4 L1725.5,1116.0 L1726.0,1118.5 L1726.5,1120.6 L1727.0,1122.5 L1727.5,1124.0 L1728.0,1125.2 L1728.5,1126.2 L1729.0,1127.2 L1729.5,1128.2 L1730.0,1129.1 L1730.5,1130.0 L1731.0,1130.8 L1731.5,1131.7 L1732.0,1132.5 L1732.5,1133.2 L1733.0,1134.0 L1733.5,1134.7 L1734.0,1135.4 L1734.5,1136.0 L1735.0,1136.7 L1735.5,1137.3 L1736.0,1137.9 L1736.5,1138.4 L1737.0,1139.0 L1737.5,1139.5 L1738.0,1140.0 L1738.5,1140.4 L1739.0,1140.9 L1739.5,1141.3 L1740.0,1141.8 L1740.5,1142.1 L1741.0,1142.5 L1741.5,1142.9 L1742.0,1143.2 L1742.5,1143.6 L1743.0,1143.9 L1743.5,1144.2 L1744.0,1144.5 L1744.5,1144.8 L1745.0,1145.0 L1745.5,1145.3 L1746.0,1145.5 L1746.5,1145.8 L1747.0,1146.0 L1747.5,1146.3 L1748.0,1146.5 L1748.5,1146.7 L1749.0,1147.0 L1749.5,1147.2 L1750.0,1147.4 L1750.5,1147.6 L1751.0,1147.8 L1751.5,1148.0 L1752.0,1148.2 L1752.5,1148.4 L1753.0,1148.6 L1753.5,1148.8 L1754.0,1148.9 L1754.5,1149.1 L1755.0,1149.2 L1755.5,1149.4 L1756.0,1149.5 L1756.5,1149.6 L1757.0,1149.7 L1757.5,1149.8 L1758.0,1149.8 L1758.5,1149.9 L1759.0,1149.9 L1759.5,1150.0 L1760.0,1150.0 L1760.5,1150.0 L1761.0,1150.0 L1761.5,1150.0 L1762.0,1150.0 L1762.5,1150.0 L1763.0,1150.0 L1763.5,1150.0 L1764.0,1150.0 L1764.5,1150.0 L1765.0,1150.0 L1765.5,1150.0 L1766.0,1150.0 L1766.5,1150.0 L1767.0,1150.0 L1767.5,1150.1 L1768.0,1150.1 L1768.5,1150.1 L1769.0,1150.1 L1769.5,1150.1 L1770.0,1150.1 L1770.5,1150.1 L1771.0,1150.1 L1771.5,1150.1 L1772.0,1150.1 L1772.5,1150.1 L1773.0,1150.1 L1773.5,1150.1 L1774.0,1150.1 L1774.5,1150.1 L1775.0,1150.1 L1775.5,1150.1 L1776.0,1150.1 L1776.5,1150.1 L1777.0,1150.1 L1777.5,1150.1 L1778.0,1150.1 L1778.5,1150.1 L1779.0,1150.1 L1779.5,1150.2 L1780.0,1150.2 L1780.5,1150.2 L1781.0,1150.2 L1781.5,1150.2 L1782.0,1150.2 L1782.5,1150.2 L1783.0,1150.2 L1783.5,1150.2 L1784.0,1150.2 L1784.5,1150.2 L1785.0,1150.2 L1785.5,1150.2 L1786.0,1150.2 L1786.5,1150.2 L1787.0,1150.2 L1787.5,1150.2 L1788.0,1150.2 L1788.5,1150.2 L1789.0,1150.2 L1789.5,1150.2 L1790.0,1150.2 L1790.5,1150.2 L1791.0,1150.2 L1791.5,1150.2 L1792.0,1150.2 L1792.5,1150.2 L1793.0,1150.3 L1793.5,1150.3 L1794.0,1150.3 L1794.5,1150.3 L1795.0,1150.3 L1795.5,1150.3 L1796.0,1150.3 L1796.5,1150.3 L1797.0,1150.3 L1797.5,1150.3 L1798.0,1150.3 L1798.5,1150.3 L1799.0,1150.3 L1799.5,1150.3 L1800.0,1150.3 L1800.5,1150.3 L1801.0,1150.3 L1801.5,1150.3 L1802.0,1150.3 L1802.5,1150.3 L1803.0,1150.3 L1803.5,1150.3 L1804.0,1150.3 L1804.5,1150.3 L1805.0,1150.3 L1805.5,1150.3 L1806.0,1150.3 L1806.5,1150.3 L1807.0,1150.3 L1807.5,1150.4 L1808.0,1150.4 L1808.5,1150.4 L1809.0,1150.4 L1809.5,1150.4 L1810.0,1150.4 L1810.5,1150.4 L1811.0,1150.4 L1811.5,1150.4 L1812.0,1150.4 L1812.5,1150.4 L1813.0,1150.4 L1813.5,1150.4 L1814.0,1150.4 L1814.5,1150.4 L1815.0,1150.4 L1815.5,1150.4 L1816.0,1150.4 L1816.5,1150.4 L1817.0,1150.4 L1817.5,1150.4 L1818.0,1150.4 L1818.5,1150.4 L1819.0,1150.4 L1819.5,1150.4 L1820.0,1150.4 L1820.5,1150.4 L1821.0,1150.4 L1821.5,1150.4 L1822.0,1150.4 L1822.5,1150.4 L1823.0,1150.4 L1823.5,1150.5 L1824.0,1150.5 L1824.5,1150.5 L1825.0,1150.5 L1825.5,1150.5 L1826.0,1150.5 L1826.5,1150.5 L1827.0,1150.5 L1827.5,1150.5 L1828.0,1150.5 L1828.5,1150.5 L1829.0,1150.5 L1829.5,1150.5 L1830.0,1150.5 L1830.5,1150.5 L1831.0,1150.5 L1831.5,1150.5 L1832.0,1150.5 L1832.5,1150.5 L1833.0,1150.5 L1833.5,1150.5 L1834.0,1150.5 L1834.5,1150.5 L1835.0,1150.5 L1835.5,1150.5 L1836.0,1150.5 L1836.5,1150.5 L1837.0,1150.5 L1837.5,1150.5 L1838.0,1150.5 L1838.5,1150.5 L1839.0,1150.5 L1839.5,1150.5 L1840.0,1150.5 L1840.5,1150.5 L1841.0,1150.5 L1841.5,1150.6 L1842.0,1150.6 L1842.5,1150.6 L1843.0,1150.6 L1843.5,1150.6 L1844.0,1150.6 L1844.5,1150.6 L1845.0,1150.6 L1845.5,1150.6 L1846.0,1150.6 L1846.5,1150.6 L1847.0,1150.6 L1847.5,1150.6 L1848.0,1150.6 L1848.5,1150.6 L1849.0,1150.6 L1849.5,1150.6 L1850.0,1150.6 L1850.5,1150.6 L1851.0,1150.6 L1851.5,1150.6 L1852.0,1150.6 L1852.5,1150.6 L1853.0,1150.6 L1853.5,1150.6 L1854.0,1150.6 L1854.5,1150.6 L1855.0,1150.6 L1855.5,1150.6 L1856.0,1150.6 L1856.5,1150.6 L1857.0,1150.6 L1857.5,1150.6 L1858.0,1150.6 L1858.5,1150.6 L1859.0,1150.6 L1859.5,1150.6 L1860.0,1150.6 L1860.5,1150.6 L1861.0,1150.6 L1861.5,1150.6 L1862.0,1150.6 L1862.5,1150.6 L1863.0,1150.7 L1863.5,1150.7 L1864.0,1150.7 L1864.5,1150.7 L1865.0,1150.7 L1865.5,1150.7 L1866.0,1150.7 L1866.5,1150.7 L1867.0,1150.7 L1867.5,1150.7 L1868.0,1150.7 L1868.5,1150.7 L1869.0,1150.7 L1869.5,1150.7 L1870.0,1150.7 L1870.5,1150.7 L1871.0,1150.7 L1871.5,1150.7 L1872.0,1150.7 L1872.5,1150.7 L1873.0,1150.7 L1873.5,1150.7 L1874.0,1150.7 L1874.5,1150.7 L1875.0,1150.7 L1875.5,1150.7 L1876.0,1150.7 L1876.5,1150.7 L1877.0,1150.7 L1877.5,1150.7 L1878.0,1150.7 L1878.5,1150.7 L1879.0,1150.7 L1879.5,1150.7 L1880.0,1150.7 L1880.5,1150.7 L1881.0,1150.7 L1881.5,1150.7 L1882.0,1150.7 L1882.5,1150.7 L1883.0,1150.7 L1883.5,1150.7 L1884.0,1150.7 L1884.5,1150.7 L1885.0,1150.7 L1885.5,1150.7 L1886.0,1150.7 L1886.5,1150.7 L1887.0,1150.7 L1887.5,1150.7 L1888.0,1150.7 L1888.5,1150.8 L1889.0,1150.8 L1889.5,1150.8 L1890.0,1150.8 L1890.5,1150.8 L1891.0,1150.8 L1891.5,1150.8 L1892.0,1150.8 L1892.5,1150.8 L1893.0,1150.8 L1893.5,1150.8 L1894.0,1150.8 L1894.5,1150.8 L1895.0,1150.8 L1895.5,1150.8 L1896.0,1150.8 L1896.5,1150.8 L1897.0,1150.8 L1897.5,1150.8 L1898.0,1150.8 L1898.5,1150.8 L1899.0,1150.8 L1899.5,1150.8 L1900.0,1150.8 L1900.5,1150.8 L1901.0,1150.8 L1901.5,1150.8 L1902.0,1150.8 L1902.5,1150.8 L1903.0,1150.8 L1903.5,1150.8 L1904.0,1150.8 L1904.5,1150.8 L1905.0,1150.8 L1905.5,1150.8 L1906.0,1150.8 L1906.5,1150.8 L1907.0,1150.8 L1907.5,1150.8 L1908.0,1150.8 L1908.5,1150.8 L1909.0,1150.8 L1909.5,1150.8 L1910.0,1150.8 L1910.5,1150.8 L1911.0,1150.8 L1911.5,1150.8 L1912.0,1150.8 L1912.5,1150.8 L1913.0,1150.8 L1913.5,1150.8 L1914.0,1150.8 L1914.5,1150.8 L1915.0,1150.8 L1915.5,1150.8 L1916.0,1150.8 L1916.5,1150.8 L1917.0,1150.8 L1917.5,1150.8 L1918.0,1150.8 L1918.5,1150.8 L1919.0,1150.8 L1919.5,1150.8 L1920.0,1150.8 L1920.5,1150.8 L1921.0,1150.8 L1921.5,1150.8 L1922.0,1150.9 L1922.5,1150.9 L1923.0,1150.9 L1923.5,1150.9 L1924.0,1150.9 L1924.5,1150.9 L1925.0,1150.9 L1925.5,1150.9 L1926.0,1150.9 L1926.5,1150.9 L1927.0,1150.9 L1927.5,1150.9 L1928.0,1150.9 L1928.5,1150.9 L1929.0,1150.9 L1929.5,1150.9 L1930.0,1150.9 L1930.5,1150.9 L1931.0,1150.9 L1931.5,1150.9 L1932.0,1150.9 L1932.5,1150.9 L1933.0,1150.9 L1933.5,1150.9 L1934.0,1150.9 L1934.5,1150.9 L1935.0,1150.9 L1935.5,1150.9 L1936.0,1150.9 L1936.5,1150.9 L1937.0,1150.9 L1937.5,1150.9 L1938.0,1150.9 L1938.5,1150.9 L1939.0,1150.9 L1939.5,1150.9 L1940.0,1150.9 L1940.5,1150.9 L1941.0,1150.9 L1941.5,1150.9 L1942.0,1150.9 L1942.5,1150.9 L1943.0,1150.9 L1943.5,1150.9 L1944.0,1150.9 L1944.5,1150.9 L1945.0,1150.9 L1945.5,1150.9 L1946.0,1150.9 L1946.5,1150.9 L1947.0,1150.9 L1947.5,1150.9 L1948.0,1150.9 L1948.5,1150.9 L1949.0,1150.9 L1949.5,1150.9 L1950.0,1150.9 L1950.5,1150.9 L1951.0,1150.9 L1951.5,1150.9 L1952.0,1150.9 L1952.5,1150.9 L1953.0,1150.9 L1953.5,1150.9 L1954.0,1150.9 L1954.5,1150.9 L1955.0,1150.9 L1955.5,1150.9 L1956.0,1150.9 L1956.5,1150.9 L1957.0,1150.9 L1957.5,1150.9 L1958.0,1150.9 L1958.5,1150.9 L1959.0,1150.9 L1959.5,1150.9 L1960.0,1150.9 L1960.5,1150.9 L1961.0,1150.9 L1961.5,1150.9 L1962.0,1150.9 L1962.5,1150.9 L1963.0,1150.9 L1963.5,1150.9 L1964.0,1150.9 L1964.5,1150.9 L1965.0,1150.9 L1965.5,1150.9 L1966.0,1150.9 L1966.5,1150.9 L1967.0,1150.9 L1967.5,1150.9 L1968.0,1150.9 L1968.5,1150.9 L1969.0,1150.9 L1969.5,1150.9 L1970.0,1150.9 L1970.5,1150.9 L1971.0,1150.9 L1971.5,1150.9 L1972.0,1150.9 L1972.5,1150.9 L1973.0,1150.9 L1973.5,1150.9 L1974.0,1150.9 L1974.5,1150.9 L1975.0,1150.9 L1975.5,1150.9 L1976.0,1150.9 L1976.5,1150.9 L1977.0,1151.0 L1977.5,1151.0 L1978.0,1151.0 L1978.5,1151.0 L1979.0,1151.0 L1979.5,1151.0 L1980.0,1151.0 L1980.5,1151.0 L1981.0,1151.0 L1981.5,1151.0 L1982.0,1151.0 L1982.5,1151.0 L1983.0,1151.0 L1983.5,1151.0 L1984.0,1151.0 L1984.5,1151.0 L1985.0,1151.0 L1985.5,1151.0 L1986.0,1151.0 L1986.5,1151.0 L1987.0,1151.0 L1987.5,1151.0 L1988.0,1151.0 L1988.5,1151.0 L1989.0,1151.0 L1989.5,1151.0 L1990.0,1151.0 L1990.5,1151.0 L1991.0,1151.0 L1991.5,1151.0 L1992.0,1151.0 L1992.5,1151.0 L1993.0,1151.0 L1993.5,1151.0 L1994.0,1151.0 L1994.5,1151.0 L1995.0,1151.0 L1995.5,1151.0 L1996.0,1151.0 L1996.5,1151.0 L1997.0,1151.0 L1997.5,1151.0 L1998.0,1151.0 L1998.5,1151.0 L1999.0,1151.0 L1999.5,1151.0 L2000.0,1151.0 L2000.5,1151.0 L2001.0,1151.0 L2001.5,1151.0 L2002.0,1151.0 L2002.5,1151.0 L2003.0,1151.0 L2003.5,1151.0 L2004.0,1151.0 L2004.5,1151.0 L2005.0,1151.0 L2005.5,1151.0 L2006.0,1151.0 L2006.5,1151.0 L2007.0,1151.0 L2007.5,1151.0 L2008.0,1151.0 L2008.5,1151.0 L2009.0,1151.0 L2009.5,1151.0 L2010.0,1151.0 L2010.5,1151.0 L2011.0,1151.0 L2011.5,1151.0 L2012.0,1151.0 L2012.5,1151.0 L2013.0,1151.0 L2013.5,1151.0 L2014.0,1151.0 L2014.5,1151.0 L2015.0,1151.0 L2015.5,1151.0 L2016.0,1151.0 L2016.5,1151.0 L2017.0,1151.0 L2017.5,1151.0 L2018.0,1151.0 L2018.5,1151.0 L2019.0,1151.0 L2019.5,1151.0 L2020.0,1151.0 L2020.5,1151.0 L2021.0,1151.0 L2021.5,1151.0 L2022.0,1151.0 L2022.5,1151.0 L2023.0,1151.0 L2023.5,1151.0 L2024.0,1151.0 L2024.5,1151.0 L2025.0,1151.0 L2025.5,1151.0 L2026.0,1151.0 L2026.5,1151.0 L2027.0,1151.0 L2027.5,1151.0 L2028.0,1151.0 L2028.5,1151.0 L2029.0,1151.0 L2029.5,1151.0 L2030.0,1151.0 L2030.5,1151.0 L2031.0,1151.0 L2031.5,1151.0 L2032.0,1151.0 L2032.5,1151.0 L2033.0,1151.0 L2033.5,1151.0 L2034.0,1151.0 L2034.5,1151.0 L2035.0,1151.0 L2035.5,1151.0 L2036.0,1151.0 L2036.5,1151.0 L2037.0,1151.0 L2037.5,1151.0 L2038.0,1151.0 L2038.5,1151.0 L2039.0,1151.0 L2039.5,1151.0 L2040.0,1151.0 L2040.5,1151.0 L2041.0,1151.0 L2041.5,1151.0 L2042.0,1151.0 L2042.5,1151.0 L2043.0,1151.0 L2043.5,1151.0 L2044.0,1151.0 L2044.5,1151.0 L2045.0,1151.0 L2045.5,1151.0 L2046.0,1151.0 L2046.5,1151.0 L2047.0,1151.0 L2047.5,1151.0 L2048.0,1151.0 L2048.5,1151.0 L2049.0,1151.0 L2049.5,1151.0 L2050.0,1151.0 L2050.5,1151.0 L2051.0,1151.0 L2051.5,1151.0 L2052.0,1151.0 L2052.5,1151.0 L2053.0,1151.0 L2053.5,1151.0 L2054.0,1151.0 L2054.5,1151.0 L2055.0,1151.0 L2055.5,1151.0 L2056.0,1151.0 L2056.5,1151.0 L2057.0,1151.0 L2057.5,1151.0 L2058.0,1151.0 L2058.5,1151.0 L2059.0,1151.0 L2059.5,1151.0 L2060.0,1151.0 L2060.5,1151.0 L2061.0,1151.0 L2061.5,1151.0 L2062.0,1151.0 L2062.5,1151.0 L2063.0,1151.0 L2063.5,1151.0 L2064.0,1151.0 L2064.5,1151.0 L2065.0,1151.0 L2065.5,1151.0 L2066.0,1151.0 L2066.5,1151.0 L2067.0,1151.0 L2067.5,1151.0 L2068.0,1151.0 L2068.5,1151.0 L2069.0,1151.0 L2069.5,1151.0 L2070.0,1151.0 L2070.5,1151.0 L2071.0,1151.0 L2071.5,1151.0 L2072.0,1151.0 L2072.5,1151.0 L2073.0,1151.0 L2073.5,1151.0 L2074.0,1151.0 L2074.5,1151.0 L2075.0,1151.0 L2075.5,1151.0 L2076.0,1151.0 L2076.5,1151.0 L2077.0,1151.0 L2077.5,1151.0 L2078.0,1151.0 L2078.5,1151.0 L2079.0,1151.0 L2079.5,1151.0 L2080.0,1151.0 L2080.5,1151.0 L2081.0,1151.0 L2081.5,1151.0 L2082.0,1151.0 L2082.5,1151.0 L2083.0,1151.0 L2083.5,1151.0 L2084.0,1151.0 L2084.5,1151.0 L2085.0,1151.0" fill="none" stroke="#ff0000" stroke-width="5.0" stroke-linejoin="round" stroke-linecap="round" />
<path d="M1309.0,1151.0 L1310.0,1151.0 L1311.0,1151.0 L1312.0,1151.0 L1313.0,1151.0 L1314.0,1151.0 L1315.0,1151.0 L1316.0,1151.0 L1317.0,1151.0 L1318.0,1151.0 L1319.0,1151.0 L1320.0,1151.0 L1321.0,1151.0 L1322.0,1151.0 L1323.0,1151.0 L1324.0,1151.0 L1325.0,1151.0 L1326.0,1151.0 L1327.0,1151.0 L1328.0,1151.0 L1329.0,1151.0 L1330.0,1151.0 L1331.0,1151.0 L1332.0,1151.0 L1333.0,1151.0 L1334.0,1151.0 L1335.0,1151.0 L1336.0,1151.0 L1337.0,1151.0 L1338.0,1150.9 L1339.0,1150.9 L1340.0,1150.9 L1341.0,1150.9 L1342.0,1150.9 L1343.0,1150.9 L1344.0,1150.9 L1345.0,1150.9 L1346.0,1150.9 L1347.0,1150.9 L1348.0,1150.9 L1349.0,1150.9 L1350.0,1150.9 L1351.0,1150.9 L1352.0,1150.9 L1353.0,1150.9 L1354.0,1150.9 L1355.0,1150.9 L1356.0,1150.9 L1357.0,1150.9 L1358.0,1150.9 L1359.0,1150.9 L1360.0,1150.8 L1361.0,1150.8 L1362.0,1150.8 L1363.0,1150.8 L1364.0,1150.8 L1365.0,1150.8 L1366.0,1150.8 L1367.0,1150.8 L1368.0,1150.8 L1369.0,1150.8 L1370.0,1150.8 L1371.0,1150.8 L1372.0,1150.8 L1373.0,1150.8 L1374.0,1150.8 L1375.0,1150.8 L1376.0,1150.7 L1377.0,1150.7 L1378.0,1150.7 L1379.0,1150.7 L1380.0,1150.7 L1381.0,1150.7 L1382.0,1150.7 L1383.0,1150.7 L1384.0,1150.7 L1385.0,1150.7 L1386.0,1150.7 L1387.0,1150.7 L1388.0,1150.7 L1389.0,1150.6 L1390.0,1150.6 L1391.0,1150.6 L1392.0,1150.6 L1393.0,1150.6 L1394.0,1150.6 L1395.0,1150.6 L1396.0,1150.6 L1397.0,1150.6 L1398.0,1150.6 L1399.0,1150.6 L1400.0,1150.5 L1401.0,1150.5 L1402.0,1150.5 L1403.0,1150.5 L1404.0,1150.5 L1405.0,1150.5 L1406.0,1150.5 L1407.0,1150.5 L1408.0,1150.5 L1409.0,1150.5 L1410.0,1150.4 L1411.0,1150.4 L1412.0,1150.4 L1413.0,1150.4 L1414.0,1150.4 L1415.0,1150.4 L1416.0,1150.4 L1417.0,1150.4 L1418.0,1150.4 L1419.0,1150.4 L1420.0,1150.3 L1421.0,1150.3 L1422.0,1150.3 L1423.0,1150.3 L1424.0,1150.3 L1425.0,1150.3 L1426.0,1150.3 L1427.0,1150.3 L1428.0,1150.3 L1429.0,1150.2 L1430.0,1150.2 L1431.0,1150.2 L1432.0,1150.2 L1433.0,1150.2 L1434.0,1150.2 L1435.0,1150.2 L1436.0,1150.2 L1437.0,1150.1 L1438.0,1150.1 L1439.0,1150.1 L1440.0,1150.1 L1441.0,1150.1 L1442.0,1150.1 L1443.0,1150.1 L1444.0,1150.1 L1445.0,1150.1 L1446.0,1150.0 L1447.0,1150.0 L1448.0,1150.0 L1449.0,1150.0 L1450.0,1150.0 L1451.0,1150.0 L1452.0,1150.0 L1453.0,1149.9 L1454.0,1149.9 L1455.0,1149.9 L1456.0,1149.9 L1457.0,1149.9 L1458.0,1149.9 L1459.0,1149.8 L1460.0,1149.8 L1461.0,1149.8 L1462.0,1149.8 L1463.0,1149.7 L1464.0,1149.7 L1465.0,1149.7 L1466.0,1149.7 L1467.0,1149.6 L1468.0,1149.6 L1469.0,1149.6 L1470.0,1149.5 L1471.0,1149.5 L1472.0,1149.5 L1473.0,1149.4 L1474.0,1149.4 L1475.0,1149.4 L1476.0,1149.3 L1477.0,1149.3 L1478.0,1149.3 L1479.0,1149.2 L1480.0,1149.2 L1481.0,1149.1 L1482.0,1149.1 L1483.0,1149.1 L1484.0,1149.0 L1485.0,1149.0 L1486.0,1148.9 L1487.0,1148.9 L1488.0,1148.8 L1489.0,1148.8 L1490.0,1148.8 L1491.0,1148.7 L1492.0,1148.7 L1493.0,1148.6 L1494.0,1148.6 L1495.0,1148.5 L1496.0,1148.5 L1497.0,1148.4 L1498.0,1148.4 L1499.0,1148.3 L1500.0,1148.3 L1501.0,1148.2 L1502.0,1148.2 L1503.0,1148.2 L1504.0,1148.1 L1505.0,1148.1 L1506.0,1148.0 L1507.0,1148.0 L1508.0,1147.9 L1509.0,1147.9 L1510.0,1147.8 L1511.0,1147.8 L1512.0,1147.7 L1513.0,1147.7 L1514.0,1147.6 L1515.0,1147.6 L1516.0,1147.5 L1517.0,1147.5 L1518.0,1147.4 L1519.0,1147.4 L1520.0,1147.3 L1521.0,1147.3 L1522.0,1147.2 L1523.0,1147.2 L1524.0,1147.1 L1525.0,1147.1 L1526.0,1147.0 L1527.0,1147.0 L1528.0,1146.9 L1529.0,1146.9 L1530.0,1146.8 L1531.0,1146.8 L1532.0,1146.7 L1533.0,1146.7 L1534.0,1146.6 L1535.0,1146.6 L1536.0,1146.5 L1537.0,1146.5 L1538.0,1146.4 L1539.0,1146.4 L1540.0,1146.4 L1541.0,1146.3 L1542.0,1146.3 L1543.0,1146.2 L1544.0,1146.2 L1545.0,1146.1 L1546.0,1146.1 L1547.0,1146.1 L1548.0,1146.0 L1549.0,1146.0 L1550.0,1145.9 L1551.0,1145.9 L1552.0,1145.9 L1553.0,1145.8 L1554.0,1145.8 L1555.0,1145.8 L1556.0,1145.7 L1557.0,1145.7 L1558.0,1145.7 L1559.0,1145.6 L1560.0,1145.6 L1561.0,1145.6 L1562.0,1145.5 L1563.0,1145.5 L1564.0,1145.5 L1565.0,1145.5 L1566.0,1145.4 L1567.0,1145.4 L1568.0,1145.4 L1569.0,1145.4 L1570.0,1145.3 L1571.0,1145.3 L1572.0,1145.3 L1573.0,1145.3 L1574.0,1145.2 L1575.0,1145.2 L1576.0,1145.2 L1577.0,1145.2 L1578.0,1145.1 L1579.0,1145.1 L1580.0,1145.1 L1581.0,1145.0 L1582.0,1145.0 L1583.0,1145.0 L1584.0,1145.0 L1585.0,1144.9 L1586.0,1144.9 L1587.0,1144.9 L1588.0,1144.8 L1589.0,1144.8 L1590.0,1144.8 L1591.0,1144.7 L1592.0,1144.7 L1593.0,1144.7 L1594.0,1144.6 L1595.0,1144.6 L1596.0,1144.6 L1597.0,1144.5 L1598.0,1144.5 L1599.0,1144.4 L1600.0,1144.4 L1601.0,1144.4 L1602.0,1144.3 L1603.0,1144.3 L1604.0,1144.2 L1605.0,1144.2 L1606.0,1144.1 L1607.0,1144.0 L1608.0,1144.0 L1609.0,1143.9 L1610.0,1143.9 L1611.0,1143.8 L1612.0,1143.7 L1613.0,1143.7 L1614.0,1143.6 L1615.0,1143.5 L1616.0,1143.5 L1617.0,1143.4 L1618.0,1143.3 L1619.0,1143.2 L1620.0,1143.1 L1621.0,1142.9 L1622.0,1142.7 L1623.0,1142.5 L1624.0,1142.3 L1625.0,1142.1 L1626.0,1141.8 L1627.0,1141.5 L1628.0,1141.2 L1629.0,1140.9 L1630.0,1140.6 L1631.0,1140.2 L1632.0,1139.9 L1633.0,1139.5 L1634.0,1139.1 L1635.0,1138.7 L1636.0,1138.2 L1637.0,1137.8 L1638.0,1137.4 L1639.0,1136.9 L1640.0,1136.4 L1641.0,1135.9 L1642.0,1135.4 L1643.0,1134.9 L1644.0,1134.4 L1645.0,1133.9 L1646.0,1133.3 L1647.0,1132.8 L1648.0,1132.3 L1649.0,1131.7 L1650.0,1131.1 L1651.0,1130.6 L1652.0,1130.0 L1653.0,1129.4 L1654.0,1128.7 L1655.0,1128.0 L1656.0,1127.2 L1657.0,1126.4 L1658.0,1125.5 L1659.0,1124.5 L1660.0,1123.5 L1661.0,1122.5 L1662.0,1121.4 L1663.0,1120.3 L1664.0,1119.1 L1665.0,1117.9 L1666.0,1116.7 L1667.0,1115.4 L1668.0,1114.2 L1669.0,1112.9 L1670.0,1111.6 L1671.0,1110.3 L1672.0,1108.9 L1673.0,1107.6 L1674.0,1106.3 L1675.0,1105.0 L1676.0,1103.7 L1677.0,1102.4 L1678.0,1101.1 L1679.0,1099.8 L1680.0,1098.5 L1681.0,1097.3 L1682.0,1096.1 L1683.0,1094.9 L1684.0,1093.8 L1685.0,1092.6 L1686.0,1091.5 L1687.0,1090.4 L1688.0,1089.3 L1689.0,1088.1 L1690.0,1087.0 L1691.0,1085.9 L1692.0,1084.8 L1693.0,1083.7 L1694.0,1082.5 L1695.0,1081.4 L1696.0,1080.3 L1697.0,1079.2 L1698.0,1078.1 L1699.0,1077.0 L1700.0,1075.8 L1701.0,1074.7 L1702.0,1073.6 L1703.0,1072.5 L1704.0,1071.3 L1705.0,1070.2 L1706.0,1069.1 L1707.0,1067.9 L1708.0,1066.8 L1709.0,1065.6 L1710.0,1064.5 L1711.0,1063.3 L1712.0,1062.2 L1713.0,1061.0 L1714.0,1059.8 L1715.0,1058.7 L1716.0,1057.5 L1717.0,1056.3 L1718.0,1055.1 L1719.0,1053.9 L1720.0,1052.6 L1721.0,1051.3 L1722.0,1050.0 L1723.0,1048.6 L1724.0,1047.1 L1725.0,1045.6 L1726.0,1044.1 L1727.0,1042.6 L1728.0,1041.2 L1729.0,1039.7 L1730.0,1038.2 L1731.0,1036.8 L1732.0,1035.4 L1733.0,1034.1 L1734.0,1032.8 L1735.0,1031.6 L1736.0,1030.5 L1737.0,1029.5 L1738.0,1028.6 L1739.0,1027.8 L1740.0,1027.1 L1741.0,1026.5 L1742.0,1025.8 L1743.0,1025.2 L1744.0,1024.6 L1745.0,1024.1 L1746.0,1023.6 L1747.0,1023.2 L1748.0,1022.9 L1749.0,1022.6 L1750.0,1022.5 L1751.0,1022.6 L1752.0,1022.8 L1753.0,1023.2 L1754.0,1023.8 L1755.0,1024.4 L1756.0,1025.0 L1757.0,1025.6 L1758.0,1026.2 L1759.0,1026.7 L1760.0,1027.1 L1761.0,1027.4 L1762.0,1027.7 L1763.0,1027.9 L1764.0,1028.2 L1765.0,1028.5 L1766.0,1028.7 L1767.0,1029.0 L1768.0,1029.2 L1769.0,1029.3 L1770.0,1029.5 L1771.0,1029.6 L1772.0,1029.6 L1773.0,1029.6 L1774.0,1029.2 L1775.0,1028.4 L1776.0,1027.4 L1777.0,1026.2 L1778.0,1024.9 L1779.0,1023.4 L1780.0,1022.0 L1781.0,1020.7 L1782.0,1019.5 L1783.0,1018.4 L1784.0,1017.4 L1785.0,1016.5 L1786.0,1015.5 L1787.0,1014.4 L1788.0,1013.2 L1789.0,1011.9 L1790.0,1010.4 L1791.0,1008.5 L1792.0,1006.0 L1793.0,1002.9 L1794.0,999.4 L1795.0,995.6 L1796.0,991.6 L1797.0,987.5 L1798.0,983.5 L1799.0,979.8 L1800.0,976.1 L1801.0,972.4 L1802.0,968.6 L1803.0,964.7 L1804.0,960.8 L1805.0,956.9 L1806.0,953.1 L1807.0,949.3 L1808.0,945.6 L1809.0,942.0 L1810.0,938.6 L1811.0,935.1 L1812.0,931.6 L1813.0,928.0 L1814.0,924.5 L1815.0,921.1 L1816.0,917.8 L1817.0,914.8 L1818.0,912.2 L1819.0,910.0 L1820.0,908.2 L1821.0,906.7 L1822.0,905.3 L1823.0,903.9 L1824.0,902.6 L1825.0,901.5 L1826.0,900.4 L1827.0,899.5 L1828.0,898.8 L1829.0,898.4 L1830.0,898.1 L1831.0,898.2 L1832.0,898.5 L1833.0,899.2 L1834.0,900.2 L1835.0,901.3 L1836.0,902.6 L1837.0,903.9 L1838.0,905.4 L1839.0,906.8 L1840.0,908.2 L1841.0,909.6 L1842.0,911.1 L1843.0,912.7 L1844.0,914.4 L1845.0,916.1 L1846.0,918.0 L1847.0,920.0 L1848.0,922.1 L1849.0,924.4 L1850.0,926.7 L1851.0,929.2 L1852.0,931.9 L1853.0,934.7 L1854.0,938.0 L1855.0,941.9 L1856.0,946.2 L1857.0,951.0 L1858.0,956.1 L1859.0,961.5 L1860.0,967.1 L1861.0,972.9 L1862.0,978.7 L1863.0,984.6 L1864.0,990.4 L1865.0,996.2 L1866.0,1001.7 L1867.0,1007.0 L1868.0,1012.1 L1869.0,1016.7 L1870.0,1021.0 L1871.0,1024.8 L1872.0,1028.5 L1873.0,1032.2 L1874.0,1035.7 L1875.0,1039.2 L1876.0,1042.7 L1877.0,1046.1 L1878.0,1049.3 L1879.0,1052.6 L1880.0,1055.7 L1881.0,1058.8 L1882.0,1061.8 L1883.0,1064.8 L1884.0,1067.7 L1885.0,1070.5 L1886.0,1073.2 L1887.0,1075.9 L1888.0,1078.5 L1889.0,1081.0 L1890.0,1083.5 L1891.0,1085.9 L1892.0,1088.2 L1893.0,1090.5 L1894.0,1092.7 L1895.0,1094.9 L1896.0,1097.1 L1897.0,1099.3 L1898.0,1101.5 L1899.0,1103.6 L1900.0,1105.7 L1901.0,1107.7 L1902.0,1109.7 L1903.0,1111.7 L1904.0,1113.6 L1905.0,1115.4 L1906.0,1117.2 L1907.0,1118.9 L1908.0,1120.6 L1909.0,1122.1 L1910.0,1123.6 L1911.0,1125.0 L1912.0,1126.4 L1913.0,1127.6 L1914.0,1128.7 L1915.0,1129.8 L1916.0,1130.7 L1917.0,1131.7 L1918.0,1132.6 L1919.0,1133.6 L1920.0,1134.5 L1921.0,1135.4 L1922.0,1136.2 L1923.0,1137.1 L1924.0,1137.9 L1925.0,1138.7 L1926.0,1139.5 L1927.0,1140.2 L1928.0,1141.0 L1929.0,1141.7 L1930.0,1142.3 L1931.0,1143.0 L1932.0,1143.6 L1933.0,1144.1 L1934.0,1144.7 L1935.0,1145.2 L1936.0,1145.6 L1937.0,1146.0 L1938.0,1146.4 L1939.0,1146.8 L1940.0,1147.1 L1941.0,1147.3 L1942.0,1147.5 L1943.0,1147.8 L1944.0,1148.0 L1945.0,1148.2 L1946.0,1148.4 L1947.0,1148.5 L1948.0,1148.7 L1949.0,1148.9 L1950.0,1149.1 L1951.0,1149.3 L1952.0,1149.4 L1953.0,1149.6 L1954.0,1149.7 L1955.0,1149.9 L1956.0,1150.0 L1957.0,1150.1 L1958.0,1150.3 L1959.0,1150.4 L1960.0,1150.5 L1961.0,1150.6 L1962.0,1150.7 L1963.0,1150.7 L1964.0,1150.8 L1965.0,1150.9 L1966.0,1150.9 L1967.0,1150.9 L1968.0,1151.0 L1969.0,1151.0 L1970.0,1151.0 L1971.0,1151.0 L1972.0,1151.0 L1973.0,1151.0 L1974.0,1151.0 L1975.0,1151.0 L1976.0,1151.0 L1977.0,1151.0 L1978.0,1151.0 L1979.0,1151.0 L1980.0,1151.0 L1981.0,1151.0 L1982.0,1151.0 L1983.0,1151.0 L1984.0,1151.0 L1985.0,1151.0 L1986.0,1151.0 L1987.0,1151.0 L1988.0,1151.0 L1989.0,1151.0 L1990.0,1151.0 L1991.0,1151.0 L1992.0,1151.0 L1993.0,1151.0 L1994.0,1151.0 L1995.0,1151.0 L1996.0,1151.0 L1997.0,1151.0 L1998.0,1151.0 L1999.0,1151.0 L2000.0,1151.0 L2001.0,1151.0 L2002.0,1151.0 L2003.0,1151.0 L2004.0,1151.0 L2005.0,1151.0 L2006.0,1151.0 L2007.0,1151.0 L2008.0,1151.0 L2009.0,1151.0 L2010.0,1151.0 L2011.0,1151.0 L2012.0,1151.0 L2013.0,1151.0 L2014.0,1151.0 L2015.0,1151.0 L2016.0,1151.0 L2017.0,1151.0 L2018.0,1151.0 L2019.0,1151.0 L2020.0,1151.0 L2021.0,1151.0 L2022.0,1151.0 L2023.0,1151.0 L2024.0,1151.0 L2025.0,1151.0 L2026.0,1151.0 L2027.0,1151.0 L2028.0,1151.0 L2029.0,1151.0 L2030.0,1151.0 L2031.0,1151.0 L2032.0,1151.0 L2033.0,1151.0 L2034.0,1151.0 L2035.0,1151.0 L2036.0,1151.0 L2037.0,1151.0 L2038.0,1151.0 L2039.0,1151.0 L2040.0,1151.0 L2041.0,1151.0 L2042.0,1151.0 L2043.0,1151.0 L2044.0,1151.0 L2045.0,1151.0 L2046.0,1151.0 L2047.0,1151.0 L2048.0,1151.0 L2049.0,1151.0 L2050.0,1151.0 L2051.0,1151.0 L2052.0,1151.0 L2053.0,1151.0 L2054.0,1151.0 L2055.0,1151.0 L2056.0,1151.0 L2057.0,1151.0 L2058.0,1151.0 L2059.0,1151.0 L2060.0,1151.0 L2061.0,1151.0 L2062.0,1151.0 L2063.0,1151.0 L2064.0,1151.0 L2065.0,1151.0 L2066.0,1151.0 L2067.0,1151.0 L2068.0,1151.0 L2069.0,1151.0 L2070.0,1151.0 L2071.0,1151.0 L2072.0,1151.0 L2073.0,1151.0 L2074.0,1151.0 L2075.0,1151.0 L2076.0,1151.0 L2077.0,1151.0 L2078.0,1151.0 L2079.0,1151.0 L2080.0,1151.0 L2081.0,1151.0 L2082.0,1151.0 L2083.0,1151.0 L2084.0,1151.0 L2085.0,1151.0" fill="none" stroke="#0000ff" stroke-width="5.0" stroke-linejoin="round" stroke-linecap="round" />
<text x="1309.2" y="1197.5" font-size="41" fill="#111" stroke="#111" stroke-width="0.8" stroke-linejoin="round" text-anchor="middle" font-weight="bold" >2000</text>
<text x="1491.4" y="1197.5" font-size="41" fill="#111" stroke="#111" stroke-width="0.8" stroke-linejoin="round" text-anchor="middle" font-weight="bold" >2400</text>
<text x="1673.6" y="1197.5" font-size="41" fill="#111" stroke="#111" stroke-width="0.8" stroke-linejoin="round" text-anchor="middle" font-weight="bold" >2800</text>
<text x="1855.8" y="1197.5" font-size="41" fill="#111" stroke="#111" stroke-width="0.8" stroke-linejoin="round" text-anchor="middle" font-weight="bold" >3200</text>
<text x="2038.0" y="1197.5" font-size="41" fill="#111" stroke="#111" stroke-width="0.8" stroke-linejoin="round" text-anchor="middle" font-weight="bold" >3600</text>
<text x="1651.0" y="1259.0" font-size="41" fill="#111" stroke="#111" stroke-width="0.8" stroke-linejoin="round" text-anchor="middle" font-weight="bold" >Wavelength (nm)</text>
<text x="0" y="0" font-size="42" font-weight="bold" fill="#111" stroke="#111" stroke-width="0.8" stroke-linejoin="round" text-anchor="middle" transform="translate(1155,589) rotate(-90)">Intensity (arb. units)</text>
<text x="1093.0" y="55.0" font-size="56" fill="#000" stroke="#000" stroke-width="0.8" stroke-linejoin="round" text-anchor="start" font-weight="bold" >b</text>
<line x1="1289.0" y1="110.0" x2="1368.0" y2="110.0" stroke="#0000ff" stroke-width="4.8" />
<line x1="1289.0" y1="164.0" x2="1368.0" y2="164.0" stroke="#ff0000" stroke-width="4.8" />
<text x="1379.0" y="122.5" font-size="41" fill="#111" stroke="#111" stroke-width="0.8" stroke-linejoin="round" text-anchor="start" font-weight="bold" >PL</text>
<text x="1379.0" y="176.0" font-size="41" fill="#111" stroke="#111" stroke-width="0.8" stroke-linejoin="round" text-anchor="start" font-weight="bold" >Laser</text>
<text x="2027.0" y="97.5" font-size="41" fill="#000" stroke="#000" stroke-width="0.8" stroke-linejoin="round" text-anchor="middle" font-weight="bold" >D</text>
<text x="2024.0" y="653.0" font-size="41" fill="#000" stroke="#000" stroke-width="0.8" stroke-linejoin="round" text-anchor="middle" font-weight="bold" >G</text>
<text x="1862.0" y="227.5" font-size="44" fill="#0000ff" stroke="#0000ff" stroke-width="0.8" stroke-linejoin="round" text-anchor="middle" font-weight="bold" >Laser peak</text>
<text x="1862.0" y="281.0" font-size="44" fill="#0000ff" stroke="#0000ff" stroke-width="0.8" stroke-linejoin="round" text-anchor="middle" font-weight="bold" >blue-shift of</text>
<text x="1862.0" y="334.5" font-size="44" fill="#0000ff" stroke="#0000ff" stroke-width="0.8" stroke-linejoin="round" text-anchor="middle" font-weight="bold" >28 nm relative</text>
<text x="1862.0" y="388.0" font-size="44" fill="#0000ff" stroke="#0000ff" stroke-width="0.8" stroke-linejoin="round" text-anchor="middle" font-weight="bold" >to PL peak</text>
<text x="1468.0" y="793.0" font-size="44" fill="#0000ff" stroke="#0000ff" stroke-width="0.8" stroke-linejoin="round" text-anchor="middle" font-weight="bold" >Laser peak</text>
<text x="1468.0" y="846.5" font-size="44" fill="#0000ff" stroke="#0000ff" stroke-width="0.8" stroke-linejoin="round" text-anchor="middle" font-weight="bold" >blue-shift of</text>
<text x="1468.0" y="900.0" font-size="44" fill="#0000ff" stroke="#0000ff" stroke-width="0.8" stroke-linejoin="round" text-anchor="middle" font-weight="bold" >308 nm relative</text>
<text x="1468.0" y="953.5" font-size="44" fill="#0000ff" stroke="#0000ff" stroke-width="0.8" stroke-linejoin="round" text-anchor="middle" font-weight="bold" >to PL peak</text>
</svg>
</body></html>
